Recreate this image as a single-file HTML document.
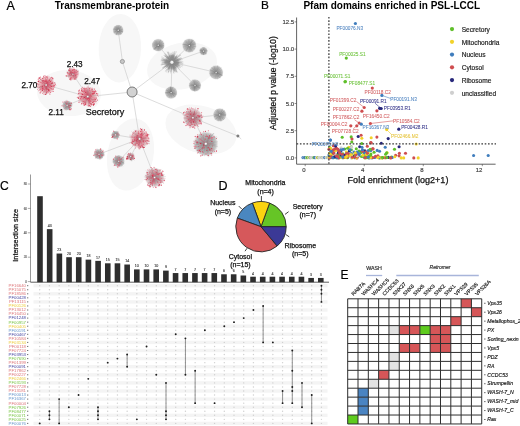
<!DOCTYPE html>
<html><head><meta charset="utf-8"><style>
html,body{margin:0;padding:0;background:#fff;width:520px;height:426px;overflow:hidden}
svg{display:block;font-family:"Liberation Sans", sans-serif;filter:blur(0.3px)}
</style></head><body>
<svg width="520" height="426" viewBox="0 0 520 426">
<defs>
<radialGradient id="gg"><stop offset="0" stop-color="#7e7e7e"/><stop offset="0.18" stop-color="#9e9e9e"/><stop offset="0.6" stop-color="#afafaf"/><stop offset="0.85" stop-color="#c3c3c3" stop-opacity="0.9"/><stop offset="1" stop-color="#e0e0e0" stop-opacity="0.3"/></radialGradient>
<radialGradient id="gr"><stop offset="0" stop-color="#d47080"/><stop offset="0.5" stop-color="#e2a0a8"/><stop offset="0.85" stop-color="#ebbcc1" stop-opacity="0.75"/><stop offset="1" stop-color="#f2d6d9" stop-opacity="0.1"/></radialGradient>
<radialGradient id="gm"><stop offset="0" stop-color="#b07a82"/><stop offset="0.5" stop-color="#c8a2a7"/><stop offset="0.85" stop-color="#d6bfc2" stop-opacity="0.75"/><stop offset="1" stop-color="#e4d8d9" stop-opacity="0.1"/></radialGradient>
</defs>
<rect width="520" height="426" fill="#fff"/>
<text x="6.4" y="9.8" font-size="12.5" fill="#000" stroke="#000" stroke-width="0.2">A</text>
<text x="112" y="9.4" font-size="10" fill="#000" text-anchor="middle" font-weight="bold">Transmembrane-protein</text>
<ellipse cx="119.9" cy="48.2" rx="21.2" ry="34.2" fill="#f7f7f7" transform="rotate(2 119.9 48.2)"/>
<ellipse cx="182" cy="66" rx="35.5" ry="23" fill="#f7f7f7" transform="rotate(-13 182 66)"/>
<ellipse cx="69" cy="93" rx="32" ry="23" fill="#f7f7f7" transform="rotate(5 69 93)"/>
<ellipse cx="130.5" cy="154.5" rx="23" ry="36.5" fill="#f7f7f7" transform="rotate(11 130.5 154.5)"/>
<ellipse cx="201" cy="129.5" rx="36.5" ry="23.5" fill="#f7f7f7" transform="rotate(17 201 129.5)"/>
<line x1="132.1" y1="92" x2="87.8" y2="96.6" stroke="#d0d0d0" stroke-width="0.75"/>
<line x1="132.1" y1="92" x2="122.5" y2="61.9" stroke="#d0d0d0" stroke-width="0.75"/>
<line x1="122.5" y1="61.9" x2="118.2" y2="30.2" stroke="#d0d0d0" stroke-width="0.75"/>
<line x1="132.1" y1="92" x2="171.9" y2="62.2" stroke="#d0d0d0" stroke-width="0.75"/>
<line x1="132.1" y1="92" x2="139.6" y2="138.9" stroke="#d0d0d0" stroke-width="0.75"/>
<line x1="132.1" y1="92" x2="192.9" y2="117.8" stroke="#d0d0d0" stroke-width="0.75"/>
<line x1="192.9" y1="117.8" x2="237.9" y2="136" stroke="#d0d0d0" stroke-width="0.75"/>
<line x1="237.9" y1="136" x2="241.3" y2="139.1" stroke="#d0d0d0" stroke-width="0.75"/>
<line x1="87.8" y1="96.6" x2="46.1" y2="85" stroke="#d0d0d0" stroke-width="0.75"/>
<line x1="87.8" y1="96.6" x2="72.9" y2="74.2" stroke="#d0d0d0" stroke-width="0.75"/>
<line x1="87.8" y1="96.6" x2="67.1" y2="105.4" stroke="#d0d0d0" stroke-width="0.75"/>
<line x1="139.6" y1="138.9" x2="115.5" y2="134.9" stroke="#d0d0d0" stroke-width="0.75"/>
<line x1="139.6" y1="138.9" x2="99" y2="154.2" stroke="#d0d0d0" stroke-width="0.75"/>
<line x1="139.6" y1="138.9" x2="118.7" y2="161.2" stroke="#d0d0d0" stroke-width="0.75"/>
<line x1="139.6" y1="138.9" x2="130.7" y2="156.6" stroke="#d0d0d0" stroke-width="0.75"/>
<line x1="139.6" y1="138.9" x2="154.6" y2="177.5" stroke="#d0d0d0" stroke-width="0.75"/>
<line x1="192.9" y1="117.8" x2="219.7" y2="114.9" stroke="#d0d0d0" stroke-width="0.75"/>
<line x1="192.9" y1="117.8" x2="205.8" y2="143.8" stroke="#d0d0d0" stroke-width="0.75"/>
<line x1="171.9" y1="62.2" x2="158.2" y2="45.2" stroke="#d0d0d0" stroke-width="0.75"/>
<line x1="171.9" y1="62.2" x2="189.3" y2="45.6" stroke="#d0d0d0" stroke-width="0.75"/>
<line x1="171.9" y1="62.2" x2="203.5" y2="51.1" stroke="#d0d0d0" stroke-width="0.75"/>
<line x1="171.9" y1="62.2" x2="216.1" y2="72.4" stroke="#d0d0d0" stroke-width="0.75"/>
<line x1="171.9" y1="62.2" x2="195" y2="85.4" stroke="#d0d0d0" stroke-width="0.75"/>
<line x1="171.9" y1="62.2" x2="171.1" y2="92.6" stroke="#d0d0d0" stroke-width="0.75"/>
<circle cx="118.2" cy="30.2" r="5.6" fill="url(#gg)"/>
<path d="M118.2 30.2L116.12 34.36M118.2 30.2L115.54 26.49M118.2 30.2L113.43 29.11M118.2 30.2L122.92 32M118.2 30.2L123.03 31.36M118.2 30.2L122.35 32.15M118.2 30.2L113.39 32.67M118.2 30.2L121.57 33.52M118.2 30.2L114.34 26.22M118.2 30.2L113.84 27.91M118.2 30.2L122.68 29.53M118.2 30.2L121.23 26.47M118.2 30.2L121.04 33.83M118.2 30.2L116.26 35.23M118.2 30.2L120.36 34.85M118.2 30.2L115.05 26.45M118.2 30.2L113.85 28.86M118.2 30.2L122.58 31.92M118.2 30.2L116.1 25.71M118.2 30.2L116.19 34.92M118.2 30.2L113.59 31.6M118.2 30.2L119.65 25.14M118.2 30.2L118.39 35.32M118.2 30.2L112.81 29.34M118.2 30.2L117.58 25.44M118.2 30.2L122.78 29.63M118.2 30.2L113.56 32.82M118.2 30.2L121.1 34.3M118.2 30.2L123.27 31.48M118.2 30.2L118.67 25.1M118.2 30.2L121.63 26.79M118.2 30.2L116.47 25.36M118.2 30.2L113.82 27.8M118.2 30.2L121.17 25.52" stroke="#7a7a7a" stroke-width="0.25" fill="none" opacity="0.6"/>
<circle cx="118.2" cy="30.2" r="0.9" fill="#fff" stroke="#555" stroke-width="0.35"/>
<circle cx="158.2" cy="45.2" r="6.6" fill="url(#gg)"/>
<path d="M158.2 45.2L152.12 46.2M158.2 45.2L163.96 47.51M158.2 45.2L154.23 39.94M158.2 45.2L160.67 40.11M158.2 45.2L153.56 49.25M158.2 45.2L164.03 46.03M158.2 45.2L160.88 49.93M158.2 45.2L164.07 47.48M158.2 45.2L162.06 49.27M158.2 45.2L153.22 49.27M158.2 45.2L163.34 48.05M158.2 45.2L152.06 43.23M158.2 45.2L160.91 39.38M158.2 45.2L157.16 50.94M158.2 45.2L154.13 50.2M158.2 45.2L163.49 43.76M158.2 45.2L160.7 50.2M158.2 45.2L158.82 51.09M158.2 45.2L153.43 42.21M158.2 45.2L164.03 45.35M158.2 45.2L154.09 49.61M158.2 45.2L164.12 43.4M158.2 45.2L152.13 44.61M158.2 45.2L155.81 40.41M158.2 45.2L163.29 41.48M158.2 45.2L162.66 40.71M158.2 45.2L153.67 48.83M158.2 45.2L163.07 48.9M158.2 45.2L163.16 47.25M158.2 45.2L159.61 50.51M158.2 45.2L155.33 49.72M158.2 45.2L163.68 45.21M158.2 45.2L162.83 48.63M158.2 45.2L164.55 46.23M158.2 45.2L154.07 41.6M158.2 45.2L158.12 50.94M158.2 45.2L154.62 49.3" stroke="#7a7a7a" stroke-width="0.25" fill="none" opacity="0.6"/>
<circle cx="158.2" cy="45.2" r="0.9" fill="#fff" stroke="#555" stroke-width="0.35"/>
<circle cx="189.3" cy="45.6" r="7.3" fill="url(#gg)"/>
<path d="M189.3 45.6L193.55 39.67M189.3 45.6L182.9 46.99M189.3 45.6L194.44 48.68M189.3 45.6L185.88 50.8M189.3 45.6L192.19 40.25M189.3 45.6L196.45 46.65M189.3 45.6L183.34 44.53M189.3 45.6L183.64 44.02M189.3 45.6L182.14 44.32M189.3 45.6L193.78 40.41M189.3 45.6L188.86 51.96M189.3 45.6L192.77 51.64M189.3 45.6L182.47 44.18M189.3 45.6L186.34 51.01M189.3 45.6L192.04 38.86M189.3 45.6L193.52 39.99M189.3 45.6L192.18 39.31M189.3 45.6L190.26 52.13M189.3 45.6L185.68 50.24M189.3 45.6L195.45 46.69M189.3 45.6L188.91 52.44M189.3 45.6L195.55 43.85M189.3 45.6L196.02 42.79M189.3 45.6L195.42 43.82M189.3 45.6L190.44 51.67M189.3 45.6L191.32 51.4M189.3 45.6L184.21 40.57M189.3 45.6L192.82 40.09M189.3 45.6L185.29 39.85M189.3 45.6L195.16 49.06M189.3 45.6L195.19 41.85M189.3 45.6L189.31 39.06M189.3 45.6L192.34 51.9M189.3 45.6L185.83 51.69M189.3 45.6L195.62 44.46M189.3 45.6L183.42 49.79M189.3 45.6L188.34 39.59M189.3 45.6L193.53 49.94M189.3 45.6L195.1 41.65" stroke="#7a7a7a" stroke-width="0.25" fill="none" opacity="0.6"/>
<circle cx="189.3" cy="45.6" r="0.9" fill="#fff" stroke="#555" stroke-width="0.35"/>
<circle cx="203.5" cy="51.1" r="4.3" fill="url(#gg)"/>
<path d="M203.5 51.1L206.02 54.4M203.5 51.1L207.47 50.61M203.5 51.1L201.19 54.26M203.5 51.1L205.85 53.63M203.5 51.1L207.43 50.37M203.5 51.1L199.32 50.39M203.5 51.1L199.67 52.79M203.5 51.1L205.17 47.89M203.5 51.1L203.46 54.79M203.5 51.1L203.73 55.04M203.5 51.1L203.28 54.89M203.5 51.1L206.37 54.2M203.5 51.1L201.17 54.15M203.5 51.1L199.85 48.99M203.5 51.1L199.79 53.12M203.5 51.1L199.6 51.06M203.5 51.1L200.08 50.59M203.5 51.1L200.15 52.42M203.5 51.1L207.63 51.2M203.5 51.1L205.3 54.5M203.5 51.1L202.89 47.23M203.5 51.1L201.71 54.55M203.5 51.1L199.63 49.7M203.5 51.1L206.58 53.53M203.5 51.1L203.53 54.78M203.5 51.1L204.04 47.26M203.5 51.1L199.71 49.55M203.5 51.1L206.76 49.1M203.5 51.1L200.55 48.58M203.5 51.1L199.48 50.79" stroke="#7a7a7a" stroke-width="0.25" fill="none" opacity="0.6"/>
<circle cx="203.5" cy="51.1" r="0.9" fill="#fff" stroke="#555" stroke-width="0.35"/>
<circle cx="216.1" cy="72.4" r="7.3" fill="url(#gg)"/>
<path d="M216.1 72.4L209.78 74.35M216.1 72.4L208.95 73.39M216.1 72.4L213.87 65.64M216.1 72.4L221.91 70.19M216.1 72.4L209.38 69.76M216.1 72.4L219.34 67.3M216.1 72.4L220.78 76.89M216.1 72.4L221.66 75.13M216.1 72.4L222.21 75.42M216.1 72.4L217.61 65.41M216.1 72.4L219.99 78.08M216.1 72.4L212.87 67.29M216.1 72.4L221.47 67.53M216.1 72.4L217.47 79.5M216.1 72.4L210.84 76.31M216.1 72.4L223.14 71.95M216.1 72.4L219.52 77.89M216.1 72.4L209.8 71.78M216.1 72.4L218.21 78.34M216.1 72.4L215.08 66.62M216.1 72.4L209.99 70.24M216.1 72.4L222.38 73.12M216.1 72.4L211.41 67.77M216.1 72.4L222.79 75.26M216.1 72.4L217.83 65.35M216.1 72.4L221.03 76.21M216.1 72.4L222.86 74.12M216.1 72.4L215.33 78.38M216.1 72.4L209.77 75.77M216.1 72.4L218.71 66.76M216.1 72.4L220.34 78.19M216.1 72.4L209.9 69.45M216.1 72.4L221.11 75.56M216.1 72.4L213.65 66.42M216.1 72.4L222.58 75.57M216.1 72.4L211.45 67.16M216.1 72.4L222.23 75.96M216.1 72.4L222.59 75.29M216.1 72.4L210.03 74.21" stroke="#7a7a7a" stroke-width="0.25" fill="none" opacity="0.6"/>
<circle cx="216.1" cy="72.4" r="0.9" fill="#fff" stroke="#555" stroke-width="0.35"/>
<circle cx="195" cy="85.4" r="6.4" fill="url(#gg)"/>
<path d="M195 85.4L189.04 83.34M195 85.4L194.41 90.65M195 85.4L189.65 84.49M195 85.4L199.12 88.78M195 85.4L200.11 87.07M195 85.4L192.91 90.5M195 85.4L195.33 79.92M195 85.4L189.65 85.4M195 85.4L192.06 89.62M195 85.4L194.99 90.54M195 85.4L194.38 79.61M195 85.4L197.13 90.72M195 85.4L199.82 83.3M195 85.4L197.38 80.25M195 85.4L188.81 85.59M195 85.4L190.48 88.99M195 85.4L192.57 79.5M195 85.4L191.6 90.57M195 85.4L193.41 79.68M195 85.4L190.4 88.54M195 85.4L199.98 87.17M195 85.4L200.48 88.01M195 85.4L194.81 90.73M195 85.4L200.34 88.54M195 85.4L199.11 81.06M195 85.4L193.92 90.72M195 85.4L193.47 90.9M195 85.4L198.12 90.16M195 85.4L194.47 91.73M195 85.4L200.73 84.4M195 85.4L195.22 91.75M195 85.4L192.96 90.59M195 85.4L200.61 85.44M195 85.4L189.31 86.31M195 85.4L196.75 90.89M195 85.4L200.46 85.57M195 85.4L199.76 88.41" stroke="#7a7a7a" stroke-width="0.25" fill="none" opacity="0.6"/>
<circle cx="195" cy="85.4" r="0.9" fill="#fff" stroke="#555" stroke-width="0.35"/>
<circle cx="171.1" cy="92.6" r="6.4" fill="url(#gg)"/>
<path d="M171.1 92.6L176.07 93.93M171.1 92.6L169.29 97.71M171.1 92.6L166.12 89.63M171.1 92.6L171.12 86.64M171.1 92.6L169.78 86.5M171.1 92.6L166.84 96.14M171.1 92.6L176.39 92.09M171.1 92.6L170.14 86.73M171.1 92.6L177.06 94.28M171.1 92.6L175.71 88.88M171.1 92.6L170.48 86.47M171.1 92.6L174.81 97.05M171.1 92.6L164.91 92.43M171.1 92.6L173.18 86.78M171.1 92.6L165.69 89.44M171.1 92.6L168.64 87.12M171.1 92.6L171.75 97.72M171.1 92.6L174.84 96.74M171.1 92.6L175.99 96.39M171.1 92.6L165.57 90.47M171.1 92.6L166.9 88.33M171.1 92.6L165.99 92.94M171.1 92.6L172.89 86.79M171.1 92.6L165.3 92.49M171.1 92.6L168.29 88.22M171.1 92.6L170.65 87.18M171.1 92.6L175.97 95.06M171.1 92.6L170.4 87.26M171.1 92.6L170.69 86.24M171.1 92.6L165.49 92.81M171.1 92.6L165.16 93.39M171.1 92.6L171.73 86.72M171.1 92.6L167.84 88.52M171.1 92.6L174.37 96.95M171.1 92.6L170.87 87.1M171.1 92.6L166.42 90.48M171.1 92.6L176.17 94.63" stroke="#7a7a7a" stroke-width="0.25" fill="none" opacity="0.6"/>
<circle cx="171.1" cy="92.6" r="0.9" fill="#fff" stroke="#555" stroke-width="0.35"/>
<circle cx="219.7" cy="114.9" r="6.9" fill="url(#gg)"/>
<path d="M219.7 114.9L216.65 109.19M219.7 114.9L217.04 109.61M219.7 114.9L213.57 114.26M219.7 114.9L214.14 116.09M219.7 114.9L224.25 111.31M219.7 114.9L226.45 113.97M219.7 114.9L225.82 115.58M219.7 114.9L222.62 108.69M219.7 114.9L214.1 116.74M219.7 114.9L221.4 121.51M219.7 114.9L221.25 121.03M219.7 114.9L223.63 119.75M219.7 114.9L225.15 113.23M219.7 114.9L222.36 109.27M219.7 114.9L224.62 110.66M219.7 114.9L220.49 121.61M219.7 114.9L214.17 115.38M219.7 114.9L225.9 115.04M219.7 114.9L214.05 116.71M219.7 114.9L223.5 119.54M219.7 114.9L217.01 121.01M219.7 114.9L226.26 114.97M219.7 114.9L222.72 110.08M219.7 114.9L225.52 112M219.7 114.9L224.52 111.47M219.7 114.9L215.49 119.26M219.7 114.9L226.03 114.85M219.7 114.9L215.78 119.59M219.7 114.9L218.82 120.42M219.7 114.9L225.06 118.88M219.7 114.9L218.19 121.54M219.7 114.9L219.72 120.79M219.7 114.9L213.93 114.5M219.7 114.9L214.91 119.79M219.7 114.9L224.66 110.49M219.7 114.9L215.09 109.93M219.7 114.9L225.55 112.61M219.7 114.9L218.64 109.41" stroke="#7a7a7a" stroke-width="0.25" fill="none" opacity="0.6"/>
<circle cx="219.7" cy="114.9" r="0.9" fill="#fff" stroke="#555" stroke-width="0.35"/>
<circle cx="171.9" cy="62.2" r="7.79" fill="url(#gg)" opacity="0.85"/>
<path d="M171.9 62.2L182.24 62.48M171.9 62.2L179.47 62.7M171.9 62.2L183.25 61.6M171.9 62.2L180.58 61.88M171.9 62.2L179.56 62.25M171.9 62.2L183.52 63.19M171.9 62.2L181.67 62.09M171.9 62.2L179.93 64.01M171.9 62.2L178.68 63.18M171.9 62.2L183.02 63.9M171.9 62.2L178.94 63.69M171.9 62.2L183.18 65.58M171.9 62.2L178.49 63.53M171.9 62.2L178.26 63.15M171.9 62.2L178.7 64.89M171.9 62.2L180.39 65.89M171.9 62.2L180.78 67.47M171.9 62.2L179.45 65.76M171.9 62.2L179.17 65.83M171.9 62.2L177.61 64.79M171.9 62.2L182.53 66.87M171.9 62.2L179.46 68.14M171.9 62.2L177.21 67.03M171.9 62.2L177.9 66.48M171.9 62.2L178.72 67.33M171.9 62.2L179.84 69.68M171.9 62.2L176.35 66.26M171.9 62.2L180.38 67.66M171.9 62.2L176.76 70.2M171.9 62.2L176.81 68.78M171.9 62.2L176.64 71.87M171.9 62.2L177.17 72.58M171.9 62.2L175.55 67.63M171.9 62.2L177.05 69.56M171.9 62.2L177.44 72.23M171.9 62.2L174.95 72.15M171.9 62.2L174.91 70.84M171.9 62.2L176.18 71.81M171.9 62.2L176.11 72.72M171.9 62.2L174.16 69.55M171.9 62.2L174.79 69M171.9 62.2L174.86 71.77M171.9 62.2L174.29 70.87M171.9 62.2L173.26 70.28M171.9 62.2L174.13 71.38M171.9 62.2L174.03 69.58M171.9 62.2L174.09 73.55M171.9 62.2L173.6 73.18M171.9 62.2L173.26 69.36M171.9 62.2L170.17 72.11M171.9 62.2L171.65 68.22M171.9 62.2L171.11 72.05M171.9 62.2L171.42 69.6M171.9 62.2L170.61 73.48M171.9 62.2L171.74 68.3M171.9 62.2L171.5 70.57M171.9 62.2L168.45 72.23M171.9 62.2L168.12 70.23M171.9 62.2L168.1 73.18M171.9 62.2L168.18 72.27M171.9 62.2L169.51 69M171.9 62.2L168.62 69.1M171.9 62.2L167.81 70.02M171.9 62.2L167.9 69.54M171.9 62.2L165.53 71.77M171.9 62.2L168.08 69.48M171.9 62.2L166.35 72.44M171.9 62.2L169.02 67.7M171.9 62.2L168.21 69.54M171.9 62.2L165.32 71.16M171.9 62.2L162.42 68.52M171.9 62.2L166.65 66.82M171.9 62.2L163.4 68.02M171.9 62.2L164.93 69.12M171.9 62.2L165.76 67.5M171.9 62.2L166.72 66.76M171.9 62.2L166.57 67.55M171.9 62.2L165.84 64.88M171.9 62.2L165.38 65.07M171.9 62.2L162.66 67.69M171.9 62.2L164.26 65.82M171.9 62.2L164.71 67.09M171.9 62.2L162.14 67.95M171.9 62.2L165.12 66.53M171.9 62.2L163.88 64.44M171.9 62.2L161.55 63.4M171.9 62.2L166.02 63.83M171.9 62.2L160.97 65.17M171.9 62.2L161.85 64.52M171.9 62.2L164.04 62.98M171.9 62.2L160.64 64.76M171.9 62.2L161.78 62.49M171.9 62.2L164.37 62.34M171.9 62.2L161.58 63.03M171.9 62.2L162.31 61.22M171.9 62.2L165.89 61.55M171.9 62.2L163.2 62.5M171.9 62.2L160.44 60.93M171.9 62.2L163.59 60.74M171.9 62.2L160.8 59.69M171.9 62.2L161.4 60.5M171.9 62.2L161.54 59.32M171.9 62.2L162.78 59.6M171.9 62.2L164.25 60.74M171.9 62.2L161.59 60.15M171.9 62.2L162.2 58.6M171.9 62.2L166.03 59.96M171.9 62.2L163.21 59.29M171.9 62.2L161.05 57.85M171.9 62.2L161.57 56.65M171.9 62.2L165.93 59.89M171.9 62.2L163.55 59.29M171.9 62.2L166.56 57.25M171.9 62.2L164.85 55.74M171.9 62.2L164.67 54.85M171.9 62.2L165.26 54.97M171.9 62.2L163.47 55.35M171.9 62.2L164.93 56.12M171.9 62.2L164.28 55.34M171.9 62.2L167.15 56.59M171.9 62.2L164.56 53.85M171.9 62.2L167.25 55.91M171.9 62.2L164.57 53.01M171.9 62.2L167.5 56.42M171.9 62.2L166.47 54.1M171.9 62.2L168.48 56.67M171.9 62.2L168.66 51.83M171.9 62.2L170.18 56.31M171.9 62.2L169.28 56.14M171.9 62.2L167.06 51.61M171.9 62.2L168 51.5M171.9 62.2L167.69 52.03M171.9 62.2L169.17 55.29M171.9 62.2L171.98 55.68M171.9 62.2L171.35 52.66M171.9 62.2L170.83 54.2M171.9 62.2L170.85 55.17M171.9 62.2L170.72 52.84M171.9 62.2L171.57 55.11M171.9 62.2L170.54 54.49M171.9 62.2L172.57 54.49M171.9 62.2L172.85 51.65M171.9 62.2L172.89 56.01M171.9 62.2L172.47 53.99M171.9 62.2L173.43 52.65M171.9 62.2L172.36 55.35M171.9 62.2L173.46 54.03M171.9 62.2L175.19 51.16M171.9 62.2L174.55 53.34M171.9 62.2L174.36 54.21M171.9 62.2L176.49 51.35M171.9 62.2L173.99 55.45M171.9 62.2L174.49 55.59M171.9 62.2L174.45 51.27M171.9 62.2L176.96 55.63M171.9 62.2L177.24 55.44M171.9 62.2L174.9 57.02M171.9 62.2L177.38 54.22M171.9 62.2L175.91 57.18M171.9 62.2L176.58 55.6M171.9 62.2L175.68 56.59M171.9 62.2L180.17 54.41M171.9 62.2L177.78 55.66M171.9 62.2L180.79 54.74M171.9 62.2L176.43 57.34M171.9 62.2L181.03 54.95M171.9 62.2L176.39 57.9M171.9 62.2L178.3 57.09M171.9 62.2L181.84 58.06M171.9 62.2L181.21 57.27M171.9 62.2L179.27 58.42M171.9 62.2L182.04 58.51M171.9 62.2L178.27 58.87M171.9 62.2L180.01 58.4M171.9 62.2L177.89 59.37M171.9 62.2L182.78 59.57M171.9 62.2L180.48 58.83M171.9 62.2L177.86 60.8M171.9 62.2L178.34 60.8M171.9 62.2L180.73 59.83M171.9 62.2L179.35 60.24M171.9 62.2L180.83 59.46M171.9 62.2L166.31 65.02M171.9 62.2L166.85 63.96M171.9 62.2L177.93 63.09M171.9 62.2L167.4 62.5M171.9 62.2L172.48 55.46M171.9 62.2L167.76 63.31M171.9 62.2L167.97 62.87M171.9 62.2L175.58 66.04M171.9 62.2L176.4 65.12M171.9 62.2L168.2 61.96M171.9 62.2L169.36 59.27M171.9 62.2L171.2 55.48M171.9 62.2L168.15 61.93M171.9 62.2L166.8 62.07M171.9 62.2L175.81 60.95M171.9 62.2L176.67 56.21M171.9 62.2L171.12 55.34M171.9 62.2L174.53 69.32M171.9 62.2L164.42 62.58M171.9 62.2L175.55 60.07M171.9 62.2L173.66 55.03M171.9 62.2L176.47 64.2M171.9 62.2L172.06 58.01M171.9 62.2L175.62 59.37M171.9 62.2L173.56 58.41M171.9 62.2L164.56 62.1M171.9 62.2L173.1 66.67M171.9 62.2L167.05 62.02M171.9 62.2L176.08 63.18M171.9 62.2L175.82 68.48M171.9 62.2L168.81 55.66M171.9 62.2L175.21 68.12M171.9 62.2L176.2 65.99M171.9 62.2L168.61 58.4M171.9 62.2L175.97 58.02M171.9 62.2L165.6 58.74M171.9 62.2L177.95 66.87M171.9 62.2L168.36 58.44M171.9 62.2L173.27 57.77M171.9 62.2L177.81 61.85M171.9 62.2L167.62 67.35M171.9 62.2L167.91 63.71M171.9 62.2L171.75 58.46M171.9 62.2L173.85 58.05M171.9 62.2L167.02 56.36M171.9 62.2L166.51 58.97M171.9 62.2L170.54 65.48M171.9 62.2L175.96 63.08M171.9 62.2L167.93 58.65M171.9 62.2L164.68 61.62M171.9 62.2L174.92 65.5M171.9 62.2L169.82 59.22M171.9 62.2L176.91 62.28M171.9 62.2L175.84 65.31M171.9 62.2L172.86 68.07M171.9 62.2L168.19 59.87M171.9 62.2L167.98 58.34M171.9 62.2L176.81 67.75M171.9 62.2L172.07 66.35M171.9 62.2L176.99 65.7M171.9 62.2L176.57 57.3M171.9 62.2L168.12 64.88M171.9 62.2L178.09 62.65M171.9 62.2L167.29 60.3M171.9 62.2L168.62 57.94M171.9 62.2L177.96 59.67M171.9 62.2L171.97 69.47M171.9 62.2L177.42 63.77M171.9 62.2L168.14 64.72M171.9 62.2L178.21 64.62M171.9 62.2L177.7 62.65M171.9 62.2L175.75 60.7M171.9 62.2L173.79 67.95M171.9 62.2L165.72 61.93M171.9 62.2L173.55 58.27M171.9 62.2L170.16 66.65M171.9 62.2L178.78 64.36M171.9 62.2L173.24 55.84M171.9 62.2L178.92 62.48M171.9 62.2L171.73 56.74M171.9 62.2L171.62 56.8M171.9 62.2L172.5 66.13M171.9 62.2L172.31 65.88M171.9 62.2L168.5 67.9M171.9 62.2L169.52 55.58M171.9 62.2L170.79 57.7M171.9 62.2L166.86 60.43M171.9 62.2L173.26 56.66M171.9 62.2L171.31 68.36M171.9 62.2L176.23 61.24" stroke="#8a8a8a" stroke-width="0.28" fill="none" opacity="0.9"/>
<circle cx="171.9" cy="62.2" r="2" fill="#f4f4f4" stroke="#6a6a6a" stroke-width="0.5"/>
<circle cx="87.8" cy="96.6" r="9.97" fill="url(#gr)"/>
<path d="M87.8 96.6L88.66 106.48M87.8 96.6L87.62 89.01M87.8 96.6L84.43 102.86M87.8 96.6L81.24 89.55M87.8 96.6L96.11 95.5M87.8 96.6L84.52 87.9M87.8 96.6L87.29 90.48M87.8 96.6L81.05 104.41M87.8 96.6L92.56 92.72M87.8 96.6L93.73 88.19M87.8 96.6L92.92 100.31M87.8 96.6L96.16 94.68M87.8 96.6L91.87 91.82M87.8 96.6L79.3 97.09M87.8 96.6L91.35 90.31M87.8 96.6L86.33 103.41M87.8 96.6L81.41 96.67M87.8 96.6L96.68 101.54M87.8 96.6L81.31 101.23M87.8 96.6L89.77 103.57M87.8 96.6L79.91 96.54M87.8 96.6L88.08 86.64M87.8 96.6L93.02 88.71M87.8 96.6L91.78 103.79M87.8 96.6L84.72 105.79M87.8 96.6L84.58 102.62M87.8 96.6L86.96 90.31M87.8 96.6L94.15 101.32M87.8 96.6L79.6 102.63M87.8 96.6L89.12 106.31M87.8 96.6L89.26 87.04M87.8 96.6L78.94 101.5" stroke="#8c8c8c" stroke-width="0.28" fill="none" opacity="0.75"/>
<path d="M87.8 96.6L92.07 92.59M87.8 96.6L84.39 86.62M87.8 96.6L86.38 87.76M87.8 96.6L89.99 105.58M87.8 96.6L93.37 93.1M87.8 96.6L96.38 103.4M87.8 96.6L91.53 101.22M87.8 96.6L97.27 90.95M87.8 96.6L89.56 102.75M87.8 96.6L92.02 88.32M87.8 96.6L89.91 103.85M87.8 96.6L94.94 97.54M87.8 96.6L86.13 88.96M87.8 96.6L83.42 92.58M87.8 96.6L78.52 100.52M87.8 96.6L85.34 88.19M87.8 96.6L90.57 101.67M87.8 96.6L88.66 85.42M87.8 96.6L91.21 104.42M87.8 96.6L89.93 87.58M87.8 96.6L96.99 102.12M87.8 96.6L88.66 104.9M87.8 96.6L83.4 102.78M87.8 96.6L82.11 93.51M87.8 96.6L93.13 91.91M87.8 96.6L91.55 102.08M87.8 96.6L83.78 104.3M87.8 96.6L90.54 87.13M87.8 96.6L90.89 105.4M87.8 96.6L89.94 104.24M87.8 96.6L78.51 96.57M87.8 96.6L93.54 103.7M87.8 96.6L87.18 85.79M87.8 96.6L78.91 92.14M87.8 96.6L83.8 88.15M87.8 96.6L84.22 105.15M87.8 96.6L82.88 91.39M87.8 96.6L78.93 99.17M87.8 96.6L82.84 86.83M87.8 96.6L82.09 88.26" stroke="#d44a60" stroke-width="0.3" fill="none" opacity="0.8"/>
<g><circle cx="77.24" cy="97.27" r="0.48" fill="#d23c52"/><circle cx="89.63" cy="105.53" r="0.56" fill="#e0607a"/><circle cx="94.41" cy="101.47" r="0.46" fill="#d85068"/><circle cx="85.54" cy="96.95" r="0.56" fill="#c83048"/><circle cx="78.98" cy="102.17" r="0.7" fill="#e0607a"/><circle cx="90.95" cy="103.72" r="0.62" fill="#d23c52"/><circle cx="81.3" cy="90.94" r="0.48" fill="#c83048"/><circle cx="86.01" cy="97.91" r="0.67" fill="#e88a98"/><circle cx="81.68" cy="90.2" r="0.48" fill="#d85068"/><circle cx="89.28" cy="105.75" r="0.69" fill="#d85068"/><circle cx="98.3" cy="96.22" r="0.46" fill="#e88a98"/><circle cx="94.32" cy="103.48" r="0.54" fill="#e0607a"/><circle cx="82.85" cy="94.57" r="0.51" fill="#e0607a"/><circle cx="81.55" cy="89.16" r="0.54" fill="#e88a98"/><circle cx="85.59" cy="104.32" r="0.63" fill="#e0607a"/><circle cx="78.46" cy="98.42" r="0.48" fill="#e0607a"/><circle cx="83.79" cy="100.55" r="0.6" fill="#e88a98"/><circle cx="78.22" cy="97.71" r="0.51" fill="#c83048"/><circle cx="84.27" cy="91.44" r="0.53" fill="#e88a98"/><circle cx="82.1" cy="89.94" r="0.45" fill="#c83048"/><circle cx="85.57" cy="103.03" r="0.65" fill="#d23c52"/><circle cx="95.7" cy="91.29" r="0.56" fill="#e0607a"/><circle cx="83.15" cy="103.43" r="0.46" fill="#d23c52"/><circle cx="93.2" cy="99.22" r="0.43" fill="#d85068"/><circle cx="91.19" cy="100.84" r="0.5" fill="#e88a98"/><circle cx="93.66" cy="104.95" r="0.45" fill="#d85068"/><circle cx="94.34" cy="91.27" r="0.6" fill="#d23c52"/><circle cx="95.3" cy="90.7" r="0.46" fill="#c83048"/><circle cx="85.02" cy="89.2" r="0.6" fill="#e88a98"/><circle cx="90.82" cy="99.33" r="0.47" fill="#e88a98"/><circle cx="92.69" cy="102.46" r="0.55" fill="#d23c52"/><circle cx="95.28" cy="91.55" r="0.55" fill="#e0607a"/><circle cx="78.13" cy="94.15" r="0.45" fill="#d23c52"/><circle cx="83.94" cy="104.72" r="0.6" fill="#e88a98"/><circle cx="91.42" cy="90.94" r="0.7" fill="#e88a98"/><circle cx="85.62" cy="92.27" r="0.59" fill="#c83048"/><circle cx="96.11" cy="98.11" r="0.64" fill="#c83048"/><circle cx="94.09" cy="100.81" r="0.41" fill="#e0607a"/><circle cx="86.1" cy="88.23" r="0.43" fill="#c83048"/><circle cx="84.32" cy="91.19" r="0.57" fill="#d85068"/><circle cx="92.85" cy="93.5" r="0.53" fill="#c83048"/><circle cx="78.59" cy="93.35" r="0.51" fill="#c83048"/><circle cx="81.44" cy="96.85" r="0.66" fill="#c83048"/><circle cx="84.93" cy="100.83" r="0.64" fill="#e88a98"/><circle cx="84.77" cy="102.04" r="0.44" fill="#c83048"/><circle cx="91.38" cy="95.98" r="0.52" fill="#d23c52"/><circle cx="81.23" cy="94.27" r="0.41" fill="#d85068"/><circle cx="87.17" cy="98.53" r="0.65" fill="#e0607a"/><circle cx="78.5" cy="98.07" r="0.64" fill="#d23c52"/><circle cx="94.93" cy="92.06" r="0.44" fill="#d85068"/><circle cx="83.67" cy="88.66" r="0.46" fill="#d23c52"/><circle cx="84.13" cy="90.21" r="0.43" fill="#e0607a"/><circle cx="88.95" cy="99.1" r="0.67" fill="#d23c52"/><circle cx="84.08" cy="91.07" r="0.64" fill="#e0607a"/><circle cx="82.56" cy="94.44" r="0.46" fill="#c83048"/><circle cx="90.13" cy="97.11" r="0.59" fill="#d85068"/><circle cx="90.62" cy="95.35" r="0.56" fill="#d85068"/><circle cx="92.08" cy="88.16" r="0.57" fill="#e88a98"/><circle cx="94.16" cy="93.03" r="0.6" fill="#d23c52"/><circle cx="78.93" cy="90.66" r="0.54" fill="#e0607a"/><circle cx="84.52" cy="98.61" r="0.46" fill="#e88a98"/><circle cx="89.12" cy="98.45" r="0.4" fill="#d23c52"/><circle cx="82.64" cy="87.3" r="0.47" fill="#d23c52"/><circle cx="93.21" cy="101.77" r="0.62" fill="#c83048"/><circle cx="88.25" cy="105.81" r="0.68" fill="#e0607a"/><circle cx="81.61" cy="103.55" r="0.62" fill="#e0607a"/><circle cx="95.19" cy="100.93" r="0.54" fill="#e88a98"/><circle cx="92.93" cy="94.28" r="0.62" fill="#d23c52"/><circle cx="90.05" cy="96.76" r="0.42" fill="#d85068"/><circle cx="84.36" cy="105.13" r="0.69" fill="#e0607a"/><circle cx="92.09" cy="89.34" r="0.51" fill="#c83048"/><circle cx="81.36" cy="93.32" r="0.44" fill="#e0607a"/><circle cx="89.74" cy="90.27" r="0.59" fill="#e0607a"/><circle cx="81.88" cy="99.96" r="0.68" fill="#e88a98"/><circle cx="89.56" cy="88.64" r="0.48" fill="#c83048"/><circle cx="81.52" cy="90.56" r="0.5" fill="#d85068"/><circle cx="79.46" cy="90.06" r="0.58" fill="#e0607a"/><circle cx="85.23" cy="103.27" r="0.51" fill="#e0607a"/><circle cx="84.46" cy="88.9" r="0.64" fill="#e0607a"/><circle cx="87.4" cy="98.46" r="0.48" fill="#c83048"/><circle cx="93.46" cy="105.19" r="0.49" fill="#d23c52"/><circle cx="94.22" cy="104.43" r="0.44" fill="#d85068"/><circle cx="97.28" cy="95.12" r="0.61" fill="#d85068"/><circle cx="93.35" cy="93.26" r="0.56" fill="#d23c52"/><circle cx="81.06" cy="97.25" r="0.49" fill="#e0607a"/><circle cx="94.24" cy="99.04" r="0.68" fill="#e0607a"/><circle cx="85.99" cy="95.51" r="0.54" fill="#e88a98"/><circle cx="96.02" cy="101.65" r="0.47" fill="#d23c52"/><circle cx="78.88" cy="91.73" r="0.5" fill="#d85068"/><circle cx="82.71" cy="96.4" r="0.46" fill="#e0607a"/><circle cx="91.61" cy="104.78" r="0.57" fill="#c83048"/><circle cx="81.8" cy="103.96" r="0.47" fill="#e0607a"/><circle cx="94.55" cy="93.03" r="0.51" fill="#d23c52"/><circle cx="84.35" cy="97.41" r="0.58" fill="#c83048"/><circle cx="83.4" cy="103.07" r="0.43" fill="#d23c52"/><circle cx="90.62" cy="106.21" r="0.55" fill="#d85068"/><circle cx="82.6" cy="94.26" r="0.53" fill="#c83048"/><circle cx="96.7" cy="93.49" r="0.69" fill="#d85068"/><circle cx="87.73" cy="99.37" r="0.7" fill="#e0607a"/><circle cx="85.96" cy="98.37" r="0.57" fill="#d23c52"/><circle cx="92.87" cy="91.24" r="0.66" fill="#d23c52"/><circle cx="81.23" cy="88.67" r="0.48" fill="#d23c52"/><circle cx="79.86" cy="93.19" r="0.52" fill="#d85068"/><circle cx="83.43" cy="98.07" r="0.7" fill="#e0607a"/><circle cx="88.29" cy="99.34" r="0.68" fill="#c83048"/><circle cx="95.31" cy="99.53" r="0.65" fill="#d23c52"/><circle cx="96.92" cy="99.38" r="0.42" fill="#e88a98"/><circle cx="93.54" cy="103.98" r="0.6" fill="#e0607a"/><circle cx="85.29" cy="104.53" r="0.54" fill="#d23c52"/><circle cx="83.06" cy="101.54" r="0.54" fill="#c83048"/><circle cx="90.48" cy="101.37" r="0.67" fill="#e0607a"/><circle cx="93.6" cy="91.93" r="0.64" fill="#e0607a"/><circle cx="93.21" cy="104.78" r="0.68" fill="#d23c52"/><circle cx="94.57" cy="89.09" r="0.63" fill="#e0607a"/><circle cx="97.76" cy="93.91" r="0.65" fill="#e88a98"/><circle cx="82.73" cy="91.31" r="0.5" fill="#c83048"/><circle cx="88.21" cy="100.62" r="0.44" fill="#c83048"/><circle cx="88.35" cy="99.67" r="0.57" fill="#e88a98"/><circle cx="93.95" cy="104.5" r="0.53" fill="#c83048"/><circle cx="87.85" cy="99.1" r="0.65" fill="#d85068"/><circle cx="85.42" cy="100.65" r="0.43" fill="#e88a98"/><circle cx="80.53" cy="98.65" r="0.69" fill="#e0607a"/><circle cx="97.31" cy="100.15" r="0.57" fill="#e0607a"/></g>
<circle cx="87.8" cy="96.6" r="1.05" fill="#fff" stroke="#777" stroke-width="0.3"/>
<circle cx="46.1" cy="85" r="9.21" fill="url(#gr)"/>
<path d="M46.1 85L49.14 79.89M46.1 85L40.78 88.12M46.1 85L52.12 84.18M46.1 85L37.3 88.29M46.1 85L49.89 92.52M46.1 85L53.08 79.17M46.1 85L48.83 90.39M46.1 85L42.19 90.55M46.1 85L46.59 79M46.1 85L46.19 93.23M46.1 85L50.6 79.42M46.1 85L46.42 94.6M46.1 85L42.99 92.58M46.1 85L56.12 86.23M46.1 85L45.41 94.61M46.1 85L40.21 78.32M46.1 85L41.69 81.68M46.1 85L50.86 77.35M46.1 85L39.62 88.52M46.1 85L40.76 86.6M46.1 85L51.56 84.07M46.1 85L38.81 78.07M46.1 85L55.84 82.44M46.1 85L53.32 89.24M46.1 85L38.69 87.93M46.1 85L49.15 92.55" stroke="#8c8c8c" stroke-width="0.28" fill="none" opacity="0.75"/>
<path d="M46.1 85L53.53 83.62M46.1 85L46.57 91.54M46.1 85L38.67 87.83M46.1 85L44.47 92M46.1 85L40.42 88.66M46.1 85L50.54 78.32M46.1 85L41.73 80.43M46.1 85L54.98 85.56M46.1 85L51.54 76.55M46.1 85L51.56 83.06M46.1 85L54.81 87.04M46.1 85L51.69 83.89M46.1 85L47.88 75.37M46.1 85L51.58 80.92M46.1 85L45.19 77.42M46.1 85L48.12 79.32M46.1 85L53.33 89.5M46.1 85L39.71 86.47M46.1 85L42.66 89.69M46.1 85L44.99 92.64M46.1 85L46.53 79.11M46.1 85L52.17 79.61M46.1 85L47.36 93.68M46.1 85L37.97 91.18M46.1 85L52.92 87.31M46.1 85L36.54 80.9M46.1 85L39.43 89.81M46.1 85L51.44 92.03M46.1 85L52.11 78.64M46.1 85L50.98 88.99M46.1 85L48.77 93.36M46.1 85L39.53 78.16M46.1 85L50.91 88.52M46.1 85L46.56 90.52M46.1 85L42.54 90.07M46.1 85L53.26 80.8M46.1 85L45.29 75.89M46.1 85L37.56 87.53M46.1 85L39.93 90.33M46.1 85L51.46 80.66M46.1 85L48.4 80.01M46.1 85L38.07 91.11" stroke="#d44a60" stroke-width="0.3" fill="none" opacity="0.8"/>
<g><circle cx="51.64" cy="83.28" r="0.55" fill="#c83048"/><circle cx="43.97" cy="94.6" r="0.42" fill="#c83048"/><circle cx="53.46" cy="86.01" r="0.66" fill="#d85068"/><circle cx="43.34" cy="86.09" r="0.65" fill="#e88a98"/><circle cx="40.82" cy="91.89" r="0.47" fill="#d85068"/><circle cx="54.37" cy="82.84" r="0.53" fill="#e0607a"/><circle cx="44.12" cy="81.49" r="0.58" fill="#e0607a"/><circle cx="51.39" cy="77.72" r="0.43" fill="#d85068"/><circle cx="51.99" cy="77.53" r="0.48" fill="#e88a98"/><circle cx="40.69" cy="79.19" r="0.52" fill="#e0607a"/><circle cx="51.26" cy="88.91" r="0.58" fill="#d85068"/><circle cx="36.39" cy="85.13" r="0.44" fill="#d85068"/><circle cx="49.29" cy="80.61" r="0.58" fill="#d85068"/><circle cx="41.17" cy="89.65" r="0.49" fill="#e88a98"/><circle cx="42.47" cy="89.83" r="0.57" fill="#d85068"/><circle cx="41.77" cy="88.84" r="0.51" fill="#e88a98"/><circle cx="43.83" cy="91.98" r="0.53" fill="#e0607a"/><circle cx="42.52" cy="88.49" r="0.5" fill="#c83048"/><circle cx="51.13" cy="77.44" r="0.46" fill="#c83048"/><circle cx="37.64" cy="89.22" r="0.41" fill="#d23c52"/><circle cx="45.71" cy="94.37" r="0.68" fill="#c83048"/><circle cx="47.18" cy="77.73" r="0.56" fill="#e88a98"/><circle cx="37.9" cy="84.11" r="0.54" fill="#e88a98"/><circle cx="54.03" cy="87.07" r="0.68" fill="#e88a98"/><circle cx="42.86" cy="78.49" r="0.52" fill="#d23c52"/><circle cx="38.07" cy="84.95" r="0.45" fill="#d85068"/><circle cx="48.58" cy="91.06" r="0.53" fill="#e88a98"/><circle cx="39.1" cy="78.03" r="0.61" fill="#c83048"/><circle cx="46.02" cy="81.58" r="0.5" fill="#c83048"/><circle cx="55.04" cy="83.78" r="0.45" fill="#d85068"/><circle cx="43" cy="80.38" r="0.65" fill="#c83048"/><circle cx="55.42" cy="84.43" r="0.59" fill="#e88a98"/><circle cx="37.23" cy="83.65" r="0.55" fill="#e0607a"/><circle cx="47.81" cy="89.16" r="0.58" fill="#d85068"/><circle cx="40.14" cy="92.86" r="0.61" fill="#d23c52"/><circle cx="47.88" cy="85.12" r="0.4" fill="#d85068"/><circle cx="43.05" cy="93.58" r="0.4" fill="#d85068"/><circle cx="50.45" cy="85.82" r="0.57" fill="#d85068"/><circle cx="52.57" cy="78.21" r="0.7" fill="#d85068"/><circle cx="40.32" cy="82.08" r="0.44" fill="#d23c52"/><circle cx="38.98" cy="84.17" r="0.43" fill="#d23c52"/><circle cx="49.57" cy="91.36" r="0.58" fill="#e88a98"/><circle cx="47.13" cy="82.21" r="0.61" fill="#d23c52"/><circle cx="42.52" cy="83.06" r="0.51" fill="#e0607a"/><circle cx="48.68" cy="89.65" r="0.66" fill="#d23c52"/><circle cx="48.93" cy="84.04" r="0.53" fill="#e0607a"/><circle cx="43.95" cy="86.88" r="0.57" fill="#e88a98"/><circle cx="52.57" cy="83.32" r="0.47" fill="#d85068"/><circle cx="46.82" cy="89.19" r="0.66" fill="#d85068"/><circle cx="42.38" cy="93.63" r="0.49" fill="#e88a98"/><circle cx="38.34" cy="79.17" r="0.69" fill="#e88a98"/><circle cx="53.57" cy="88.38" r="0.47" fill="#d85068"/><circle cx="42.73" cy="93.64" r="0.41" fill="#e88a98"/><circle cx="48.37" cy="82.53" r="0.51" fill="#e0607a"/><circle cx="49.89" cy="93.99" r="0.52" fill="#c83048"/><circle cx="42.26" cy="89.47" r="0.5" fill="#e88a98"/><circle cx="40.46" cy="77.1" r="0.65" fill="#e88a98"/><circle cx="43.06" cy="89.12" r="0.54" fill="#e0607a"/><circle cx="42.38" cy="90.52" r="0.6" fill="#c83048"/><circle cx="43.81" cy="88.54" r="0.43" fill="#e0607a"/><circle cx="44.98" cy="94" r="0.57" fill="#e0607a"/><circle cx="37.43" cy="86.82" r="0.45" fill="#e0607a"/><circle cx="41" cy="91.75" r="0.59" fill="#e88a98"/><circle cx="41.22" cy="82.29" r="0.55" fill="#e88a98"/><circle cx="47.06" cy="91.71" r="0.68" fill="#e0607a"/><circle cx="53.81" cy="84.9" r="0.58" fill="#e88a98"/><circle cx="42.64" cy="88.78" r="0.55" fill="#d85068"/><circle cx="52.17" cy="91.11" r="0.43" fill="#d85068"/><circle cx="51.2" cy="78.16" r="0.41" fill="#e88a98"/><circle cx="45.29" cy="80.99" r="0.52" fill="#d23c52"/><circle cx="49.91" cy="87.29" r="0.5" fill="#e0607a"/><circle cx="44.2" cy="81.89" r="0.67" fill="#d85068"/><circle cx="49.04" cy="76.86" r="0.42" fill="#e0607a"/><circle cx="44.24" cy="89.58" r="0.65" fill="#e0607a"/><circle cx="41.22" cy="88.59" r="0.63" fill="#e88a98"/><circle cx="52.92" cy="78.82" r="0.68" fill="#e0607a"/><circle cx="48.84" cy="90.5" r="0.67" fill="#c83048"/><circle cx="54.35" cy="86.32" r="0.47" fill="#e88a98"/><circle cx="49.54" cy="80.05" r="0.45" fill="#d23c52"/><circle cx="53.19" cy="91.27" r="0.61" fill="#e0607a"/><circle cx="48.61" cy="85.65" r="0.53" fill="#e0607a"/><circle cx="46.28" cy="80.79" r="0.57" fill="#d23c52"/><circle cx="39.5" cy="78.02" r="0.65" fill="#d85068"/><circle cx="38.48" cy="81.4" r="0.68" fill="#c83048"/><circle cx="42.45" cy="78.35" r="0.43" fill="#d23c52"/><circle cx="46.79" cy="76.96" r="0.66" fill="#d23c52"/><circle cx="38.95" cy="80.77" r="0.6" fill="#e0607a"/><circle cx="51.7" cy="86.33" r="0.62" fill="#c83048"/><circle cx="53.21" cy="89.28" r="0.7" fill="#e88a98"/><circle cx="42.44" cy="81.76" r="0.43" fill="#d85068"/><circle cx="52.3" cy="82.83" r="0.61" fill="#c83048"/><circle cx="45.45" cy="75.98" r="0.55" fill="#e88a98"/><circle cx="43.99" cy="80.75" r="0.65" fill="#d85068"/><circle cx="47.34" cy="78.08" r="0.41" fill="#e0607a"/><circle cx="43.49" cy="76.48" r="0.45" fill="#c83048"/><circle cx="50.63" cy="92.52" r="0.56" fill="#e0607a"/><circle cx="46.11" cy="87.93" r="0.5" fill="#c83048"/><circle cx="52.75" cy="89.37" r="0.44" fill="#e0607a"/><circle cx="43.92" cy="77.14" r="0.61" fill="#e0607a"/><circle cx="54.38" cy="85.31" r="0.68" fill="#e0607a"/><circle cx="42.77" cy="89.5" r="0.58" fill="#e0607a"/><circle cx="46.56" cy="92.91" r="0.56" fill="#d23c52"/><circle cx="46.39" cy="80.65" r="0.58" fill="#e0607a"/><circle cx="37.66" cy="87.1" r="0.43" fill="#e0607a"/><circle cx="44.61" cy="90.91" r="0.41" fill="#e0607a"/><circle cx="50.57" cy="81.57" r="0.61" fill="#d23c52"/><circle cx="42.6" cy="86.19" r="0.53" fill="#c83048"/><circle cx="41.1" cy="82.68" r="0.42" fill="#d85068"/><circle cx="55.93" cy="85.67" r="0.43" fill="#e88a98"/><circle cx="44.09" cy="75.41" r="0.48" fill="#d85068"/><circle cx="40.17" cy="77.34" r="0.46" fill="#e88a98"/></g>
<circle cx="46.1" cy="85" r="0.97" fill="#fff" stroke="#777" stroke-width="0.3"/>
<circle cx="72.9" cy="74.2" r="6.37" fill="url(#gr)"/>
<path d="M72.9 74.2L69.32 73.21M72.9 74.2L69.26 69.54M72.9 74.2L75.34 77.09M72.9 74.2L68.58 69.1M72.9 74.2L76.07 79.84M72.9 74.2L68.16 72.62M72.9 74.2L73.16 78.02M72.9 74.2L68.33 69.44M72.9 74.2L78.73 70.25M72.9 74.2L69.43 72.26M72.9 74.2L75.62 78.7M72.9 74.2L76.14 76.24M72.9 74.2L76.53 68.54M72.9 74.2L68.71 76.32M72.9 74.2L67.29 76.47M72.9 74.2L65.98 75.95M72.9 74.2L77.64 68.85M72.9 74.2L66.53 71.15M72.9 74.2L70.23 69.97M72.9 74.2L68.08 76.99M72.9 74.2L68.41 73.32M72.9 74.2L68.67 72.71M72.9 74.2L77.08 77.79M72.9 74.2L66.63 76.7M72.9 74.2L78.41 72.79M72.9 74.2L71.53 69.19M72.9 74.2L67.99 69.52" stroke="#8c8c8c" stroke-width="0.28" fill="none" opacity="0.75"/>
<path d="M72.9 74.2L70.27 70.45M72.9 74.2L75.43 70.19M72.9 74.2L72.67 69.36M72.9 74.2L75.1 69.91M72.9 74.2L68.66 74.21M72.9 74.2L75.17 80.02M72.9 74.2L67.74 73.72M72.9 74.2L76.42 71.78M72.9 74.2L67.57 76.19M72.9 74.2L74.24 77.95M72.9 74.2L68.11 69.71M72.9 74.2L70.29 68.97M72.9 74.2L70.05 70.41M72.9 74.2L75.74 71.7M72.9 74.2L70.62 69.45M72.9 74.2L69.65 76.68M72.9 74.2L77.24 70.61M72.9 74.2L75.87 70.71M72.9 74.2L77.4 76.68M72.9 74.2L71.49 67.98M72.9 74.2L79.14 73.83M72.9 74.2L75.35 69.75M72.9 74.2L77.1 79.08M72.9 74.2L73.31 79.19M72.9 74.2L69.22 71.72M72.9 74.2L78.79 70.84" stroke="#d44a60" stroke-width="0.3" fill="none" opacity="0.8"/>
<g><circle cx="72.78" cy="70.09" r="0.65" fill="#d23c52"/><circle cx="75.97" cy="77.18" r="0.68" fill="#d85068"/><circle cx="72.58" cy="72.39" r="0.51" fill="#d85068"/><circle cx="70.42" cy="77.37" r="0.43" fill="#d85068"/><circle cx="77.95" cy="71.64" r="0.51" fill="#c83048"/><circle cx="72.37" cy="72.76" r="0.53" fill="#d85068"/><circle cx="74.14" cy="69.51" r="0.64" fill="#d23c52"/><circle cx="74.94" cy="78.93" r="0.66" fill="#c83048"/><circle cx="69.87" cy="68.72" r="0.66" fill="#d85068"/><circle cx="67.35" cy="72.83" r="0.68" fill="#c83048"/><circle cx="77" cy="74.56" r="0.55" fill="#e0607a"/><circle cx="71.22" cy="74.37" r="0.42" fill="#d23c52"/><circle cx="68.88" cy="70.4" r="0.52" fill="#d85068"/><circle cx="70.01" cy="74.64" r="0.52" fill="#e88a98"/><circle cx="76.67" cy="70.34" r="0.51" fill="#d23c52"/><circle cx="69.02" cy="73.5" r="0.58" fill="#e0607a"/><circle cx="75.8" cy="75.02" r="0.62" fill="#c83048"/><circle cx="70.57" cy="78.35" r="0.49" fill="#c83048"/><circle cx="70.43" cy="78.35" r="0.41" fill="#e0607a"/><circle cx="66.33" cy="75.91" r="0.59" fill="#d23c52"/><circle cx="72.49" cy="71.42" r="0.48" fill="#e88a98"/><circle cx="69.26" cy="74.2" r="0.57" fill="#d85068"/><circle cx="70.51" cy="72.8" r="0.67" fill="#d23c52"/><circle cx="74.86" cy="72.83" r="0.63" fill="#e0607a"/><circle cx="69.22" cy="70.12" r="0.64" fill="#c83048"/><circle cx="73.83" cy="70.84" r="0.6" fill="#e0607a"/><circle cx="70.9" cy="79.86" r="0.55" fill="#c83048"/><circle cx="70.16" cy="71.08" r="0.61" fill="#d85068"/><circle cx="69.98" cy="79.18" r="0.67" fill="#c83048"/><circle cx="73.9" cy="69.38" r="0.64" fill="#e0607a"/><circle cx="75.77" cy="74.14" r="0.4" fill="#e0607a"/><circle cx="76.13" cy="70.81" r="0.52" fill="#e88a98"/><circle cx="73.82" cy="67.67" r="0.42" fill="#d85068"/><circle cx="71.65" cy="77.92" r="0.57" fill="#d85068"/><circle cx="76.69" cy="72.63" r="0.58" fill="#e0607a"/><circle cx="75.6" cy="75.69" r="0.51" fill="#d85068"/><circle cx="66.3" cy="75.55" r="0.62" fill="#e88a98"/></g>
<circle cx="72.9" cy="74.2" r="0.8" fill="#fff" stroke="#777" stroke-width="0.3"/>
<circle cx="67.1" cy="105.4" r="5.13" fill="url(#gg)"/>
<path d="M67.1 105.4L71.84 102.87M67.1 105.4L69.61 110.34M67.1 105.4L70.18 105.79M67.1 105.4L70.05 103.04M67.1 105.4L68.97 101.18M67.1 105.4L70.84 105.52M67.1 105.4L62.4 105.8M67.1 105.4L69.59 110.24M67.1 105.4L71.13 107.86M67.1 105.4L71.2 105.09M67.1 105.4L69.23 103.23M67.1 105.4L64.91 102.21M67.1 105.4L70.65 105.82M67.1 105.4L69.25 102.04M67.1 105.4L64.36 109.48M67.1 105.4L70.4 110.15M67.1 105.4L67.69 110.1M67.1 105.4L64.07 105.83M67.1 105.4L64.47 101.7M67.1 105.4L63.37 103.94M67.1 105.4L66.55 109.05M67.1 105.4L71.38 108.5M67.1 105.4L69.89 109.27M67.1 105.4L72.7 104.66M67.1 105.4L67.74 101.74M67.1 105.4L66.67 99.86M67.1 105.4L70.3 101.31M67.1 105.4L64.14 109.43M67.1 105.4L69.38 102.64M67.1 105.4L67.85 102.45M67.1 105.4L72.35 105.91M67.1 105.4L63.14 109.31M67.1 105.4L64.72 108.49M67.1 105.4L66.12 110.8M67.1 105.4L72.3 104.79M67.1 105.4L71.83 103.31" stroke="#8c8c8c" stroke-width="0.28" fill="none" opacity="0.75"/>
<path d="M67.1 105.4L67.35 100.64M67.1 105.4L70.07 107.54M67.1 105.4L69.24 107.65M67.1 105.4L70.98 105.77M67.1 105.4L64.73 110.31M67.1 105.4L65.77 100.21M67.1 105.4L70.35 108.54M67.1 105.4L70.42 103.02M67.1 105.4L65.28 101.87M67.1 105.4L64.1 100.87M67.1 105.4L72.06 106.05" stroke="#d44a60" stroke-width="0.3" fill="none" opacity="0.8"/>
<g><circle cx="69.14" cy="107.76" r="0.5" fill="#d23c52"/><circle cx="61.91" cy="105.87" r="0.5" fill="#e0607a"/><circle cx="62.95" cy="101.96" r="0.57" fill="#e0607a"/><circle cx="69.07" cy="103.61" r="0.41" fill="#c83048"/><circle cx="67.66" cy="101.72" r="0.66" fill="#e88a98"/><circle cx="70.21" cy="105.3" r="0.64" fill="#d23c52"/><circle cx="70.15" cy="109.7" r="0.67" fill="#e0607a"/><circle cx="69.87" cy="109.26" r="0.63" fill="#d23c52"/><circle cx="63.64" cy="106.19" r="0.5" fill="#e88a98"/><circle cx="71.19" cy="103.1" r="0.69" fill="#c83048"/><circle cx="69.84" cy="105.97" r="0.41" fill="#d23c52"/><circle cx="64.32" cy="105.32" r="0.61" fill="#e88a98"/><circle cx="66.89" cy="103.89" r="0.42" fill="#c83048"/><circle cx="71.25" cy="108.85" r="0.56" fill="#e0607a"/></g>
<circle cx="67.1" cy="105.4" r="0.8" fill="#fff" stroke="#777" stroke-width="0.3"/>
<circle cx="139.6" cy="138.9" r="9.88" fill="url(#gr)"/>
<path d="M139.6 138.9L146.55 139.01M139.6 138.9L133.76 132.42M139.6 138.9L129.43 136.97M139.6 138.9L149.39 144.07M139.6 138.9L136.88 144.19M139.6 138.9L145.37 146.97M139.6 138.9L143.14 128.83M139.6 138.9L140.18 147.36M139.6 138.9L136.22 129.76M139.6 138.9L135.32 134.83M139.6 138.9L132.3 143.81M139.6 138.9L130.81 142.23M139.6 138.9L132.24 134.99M139.6 138.9L132.12 140.3M139.6 138.9L132.12 145.93M139.6 138.9L146.71 137.82M139.6 138.9L142.42 133.47M139.6 138.9L134.05 129.62M139.6 138.9L138.8 149.22M139.6 138.9L134.43 146.23M139.6 138.9L145.68 138.88M139.6 138.9L136.07 133.2M139.6 138.9L145.35 131.57M139.6 138.9L136.23 145.84M139.6 138.9L132.42 142.39M139.6 138.9L134.13 144.36M139.6 138.9L132.29 137.86M139.6 138.9L138.45 146.13M139.6 138.9L146.64 144.86M139.6 138.9L145.34 145.05M139.6 138.9L133.43 132.9M139.6 138.9L138.81 147M139.6 138.9L146.67 137.01M139.6 138.9L149.13 141.46M139.6 138.9L131.43 131.37M139.6 138.9L143.53 134.16M139.6 138.9L133.33 143.88M139.6 138.9L129.58 134.68M139.6 138.9L142.28 147.18M139.6 138.9L133.58 140.45M139.6 138.9L134.36 136.39M139.6 138.9L143.6 133.26M139.6 138.9L145.31 132.26" stroke="#8c8c8c" stroke-width="0.28" fill="none" opacity="0.75"/>
<path d="M139.6 138.9L146.45 137.69M139.6 138.9L137.93 133.34M139.6 138.9L146.25 137.47M139.6 138.9L142.3 128.27M139.6 138.9L138.09 146.29M139.6 138.9L149.42 138.49M139.6 138.9L131.93 143M139.6 138.9L143.89 130.56M139.6 138.9L144.84 133.28M139.6 138.9L135.1 144.06M139.6 138.9L133.33 145.94M139.6 138.9L143.51 146.53M139.6 138.9L139.44 147.68M139.6 138.9L139.06 147.86M139.6 138.9L129.25 135.92M139.6 138.9L133.4 139.16M139.6 138.9L148.09 134.27M139.6 138.9L131.37 142.71M139.6 138.9L140.34 149.28M139.6 138.9L134.29 135.97M139.6 138.9L133.32 131.01M139.6 138.9L129.29 143.28M139.6 138.9L146.86 142.05M139.6 138.9L139.7 133.13M139.6 138.9L137.54 146.15M139.6 138.9L142.66 132.8M139.6 138.9L143.2 133.5M139.6 138.9L148.32 141.74M139.6 138.9L143.68 149.26" stroke="#d44a60" stroke-width="0.3" fill="none" opacity="0.8"/>
<g><circle cx="132.08" cy="137.02" r="0.49" fill="#d23c52"/><circle cx="139.29" cy="148.75" r="0.52" fill="#d85068"/><circle cx="146.24" cy="133.1" r="0.49" fill="#c83048"/><circle cx="145.98" cy="131.82" r="0.48" fill="#d85068"/><circle cx="140.49" cy="141.77" r="0.6" fill="#d85068"/><circle cx="147.49" cy="135.33" r="0.44" fill="#d85068"/><circle cx="145.38" cy="136.2" r="0.68" fill="#e88a98"/><circle cx="136.79" cy="137.87" r="0.4" fill="#c83048"/><circle cx="149.03" cy="143.17" r="0.41" fill="#c83048"/><circle cx="140.96" cy="145.93" r="0.61" fill="#e0607a"/><circle cx="142.27" cy="131.1" r="0.52" fill="#e88a98"/><circle cx="138.9" cy="133.89" r="0.42" fill="#e0607a"/><circle cx="131.78" cy="142.36" r="0.44" fill="#d23c52"/><circle cx="146.6" cy="132.32" r="0.45" fill="#e88a98"/><circle cx="146.7" cy="135.13" r="0.55" fill="#e0607a"/><circle cx="135.56" cy="131.11" r="0.64" fill="#c83048"/><circle cx="135.15" cy="137.92" r="0.55" fill="#e0607a"/><circle cx="134.68" cy="139.98" r="0.69" fill="#d23c52"/><circle cx="132.14" cy="143.33" r="0.61" fill="#c83048"/><circle cx="133.01" cy="141.4" r="0.68" fill="#d23c52"/><circle cx="142.65" cy="142.3" r="0.49" fill="#e88a98"/><circle cx="140.49" cy="147.03" r="0.61" fill="#c83048"/><circle cx="138.43" cy="132.92" r="0.5" fill="#c83048"/><circle cx="142.02" cy="135.15" r="0.52" fill="#e0607a"/><circle cx="146.15" cy="140.28" r="0.47" fill="#c83048"/><circle cx="136.06" cy="137.86" r="0.44" fill="#e88a98"/><circle cx="142.14" cy="144.67" r="0.43" fill="#e88a98"/><circle cx="141.54" cy="135.3" r="0.7" fill="#e0607a"/><circle cx="146.84" cy="136" r="0.55" fill="#c83048"/><circle cx="148.96" cy="139.95" r="0.46" fill="#d23c52"/><circle cx="138.47" cy="144.83" r="0.56" fill="#d85068"/><circle cx="143.27" cy="141.18" r="0.63" fill="#c83048"/><circle cx="140.56" cy="128.84" r="0.68" fill="#d85068"/><circle cx="147.72" cy="140.58" r="0.5" fill="#d23c52"/><circle cx="147.74" cy="135.94" r="0.45" fill="#d23c52"/><circle cx="135.2" cy="144.94" r="0.62" fill="#c83048"/><circle cx="143.69" cy="147.42" r="0.64" fill="#c83048"/><circle cx="138.4" cy="131.72" r="0.43" fill="#d85068"/><circle cx="143.2" cy="144.68" r="0.41" fill="#d23c52"/><circle cx="135.87" cy="138.59" r="0.52" fill="#e0607a"/><circle cx="141.38" cy="135.98" r="0.51" fill="#e0607a"/><circle cx="137.71" cy="135.8" r="0.65" fill="#d23c52"/><circle cx="144.83" cy="133.57" r="0.48" fill="#e0607a"/><circle cx="143.85" cy="142.27" r="0.55" fill="#e0607a"/><circle cx="135.68" cy="138" r="0.47" fill="#e88a98"/><circle cx="137.03" cy="137.72" r="0.51" fill="#c83048"/><circle cx="141.82" cy="145.42" r="0.7" fill="#e0607a"/><circle cx="147.23" cy="133.95" r="0.55" fill="#d85068"/><circle cx="141.33" cy="137.48" r="0.55" fill="#d23c52"/><circle cx="141.67" cy="131.07" r="0.43" fill="#e0607a"/><circle cx="144.23" cy="147.49" r="0.53" fill="#d23c52"/><circle cx="136.82" cy="136.14" r="0.67" fill="#d85068"/><circle cx="146.64" cy="143.02" r="0.47" fill="#e0607a"/><circle cx="140.8" cy="131.29" r="0.65" fill="#d23c52"/><circle cx="145.28" cy="141.71" r="0.41" fill="#d23c52"/><circle cx="133.06" cy="132.89" r="0.5" fill="#c83048"/><circle cx="142.32" cy="132.09" r="0.4" fill="#e0607a"/><circle cx="146.07" cy="136.35" r="0.41" fill="#e88a98"/><circle cx="140.66" cy="134.61" r="0.6" fill="#d85068"/><circle cx="143.32" cy="144.11" r="0.46" fill="#e0607a"/><circle cx="147.48" cy="134.88" r="0.7" fill="#d23c52"/><circle cx="141.53" cy="131.69" r="0.56" fill="#e88a98"/><circle cx="138.01" cy="141.79" r="0.59" fill="#d85068"/><circle cx="142.26" cy="146.93" r="0.64" fill="#c83048"/><circle cx="147.16" cy="143.86" r="0.57" fill="#c83048"/><circle cx="142.09" cy="131.76" r="0.44" fill="#e88a98"/><circle cx="144.46" cy="129.84" r="0.62" fill="#d23c52"/><circle cx="144.32" cy="130.62" r="0.45" fill="#d85068"/><circle cx="133.15" cy="144.52" r="0.49" fill="#d85068"/><circle cx="147.2" cy="137" r="0.42" fill="#d23c52"/><circle cx="141.57" cy="129.57" r="0.47" fill="#e0607a"/><circle cx="132.75" cy="134.69" r="0.57" fill="#e88a98"/><circle cx="148.75" cy="134.82" r="0.52" fill="#d23c52"/><circle cx="141.6" cy="129.63" r="0.65" fill="#c83048"/><circle cx="136.62" cy="140.89" r="0.6" fill="#c83048"/><circle cx="145.42" cy="134.9" r="0.4" fill="#c83048"/><circle cx="137.33" cy="139.06" r="0.66" fill="#d23c52"/><circle cx="132.74" cy="139.97" r="0.54" fill="#c83048"/><circle cx="136.96" cy="143.34" r="0.52" fill="#c83048"/><circle cx="137.03" cy="139.46" r="0.43" fill="#c83048"/><circle cx="138.42" cy="147.76" r="0.52" fill="#e88a98"/><circle cx="134.3" cy="137.6" r="0.6" fill="#e0607a"/><circle cx="148.93" cy="141.39" r="0.52" fill="#e0607a"/><circle cx="137.39" cy="142.77" r="0.47" fill="#e0607a"/><circle cx="146.04" cy="133.56" r="0.49" fill="#e88a98"/><circle cx="135.45" cy="147.94" r="0.46" fill="#d85068"/><circle cx="141.83" cy="134.89" r="0.4" fill="#d85068"/><circle cx="141.92" cy="135.85" r="0.54" fill="#e0607a"/><circle cx="141.62" cy="133.74" r="0.6" fill="#c83048"/><circle cx="148.7" cy="138.01" r="0.6" fill="#d85068"/></g>
<circle cx="139.6" cy="138.9" r="1.04" fill="#fff" stroke="#777" stroke-width="0.3"/>
<circle cx="115.5" cy="134.9" r="4.27" fill="url(#gg)"/>
<path d="M115.5 134.9L118.32 138.1M115.5 134.9L112.3 136.76M115.5 134.9L115.17 138.06M115.5 134.9L114.46 130.92M115.5 134.9L116.44 132.46M115.5 134.9L113.19 137.14M115.5 134.9L117.76 138.11M115.5 134.9L118.71 133.08M115.5 134.9L117.29 138.34M115.5 134.9L113.37 132.71M115.5 134.9L119.23 135.51M115.5 134.9L119.59 137.3M115.5 134.9L110.71 135.11M115.5 134.9L118.16 133.04M115.5 134.9L112.91 134.97M115.5 134.9L117.82 133.07M115.5 134.9L118.47 136.11M115.5 134.9L113.56 130.68M115.5 134.9L119.76 134.13M115.5 134.9L114.41 131.97M115.5 134.9L111.59 135.53M115.5 134.9L112.14 137.25M115.5 134.9L113.65 138.86M115.5 134.9L119.06 137.94M115.5 134.9L117.51 133.29M115.5 134.9L111.55 134M115.5 134.9L113.24 136.3M115.5 134.9L114.8 131.55M115.5 134.9L117.14 132.68M115.5 134.9L119.23 135.18M115.5 134.9L114.16 138.57M115.5 134.9L120.05 134.34M115.5 134.9L118.72 137.13M115.5 134.9L117.61 131.3M115.5 134.9L116.96 137.4M115.5 134.9L115.37 132.15M115.5 134.9L117.87 131.24" stroke="#8c8c8c" stroke-width="0.28" fill="none" opacity="0.75"/>
<path d="M115.5 134.9L111.38 135.07M115.5 134.9L118.75 131.66M115.5 134.9L118.94 133.74M115.5 134.9L118.38 133.69M115.5 134.9L112.05 134.87" stroke="#d44a60" stroke-width="0.3" fill="none" opacity="0.8"/>
<g><circle cx="112.84" cy="136.84" r="0.5" fill="#c83048"/><circle cx="117.19" cy="138.85" r="0.62" fill="#d85068"/><circle cx="111.71" cy="137.19" r="0.44" fill="#c83048"/><circle cx="114.76" cy="136.09" r="0.42" fill="#e88a98"/><circle cx="119.01" cy="134.97" r="0.57" fill="#e0607a"/><circle cx="112.61" cy="136.9" r="0.64" fill="#c83048"/><circle cx="113.68" cy="131.06" r="0.45" fill="#e0607a"/><circle cx="113.6" cy="131.37" r="0.44" fill="#d85068"/><circle cx="115.27" cy="136.02" r="0.66" fill="#e88a98"/></g>
<circle cx="115.5" cy="134.9" r="0.8" fill="#fff" stroke="#777" stroke-width="0.3"/>
<circle cx="99" cy="154.2" r="5.42" fill="url(#gg)"/>
<path d="M99 154.2L102.57 158.06M99 154.2L94.52 150.8M99 154.2L96.27 148.77M99 154.2L96.55 151.62M99 154.2L103.18 155.83M99 154.2L100.15 151.15M99 154.2L101.93 156.64M99 154.2L96.78 157.69M99 154.2L101.97 149.48M99 154.2L95.36 150.32M99 154.2L95.21 156.95M99 154.2L99.85 159.89M99 154.2L101.02 148.51M99 154.2L102.34 153.91M99 154.2L102.01 157.56M99 154.2L97.84 149.84M99 154.2L100.6 158.25M99 154.2L100.84 159.23M99 154.2L95.54 155.6M99 154.2L100.29 157.92M99 154.2L97.17 148.41M99 154.2L104.6 152.31M99 154.2L104.72 154.67M99 154.2L96.31 151.33M99 154.2L101.6 158.52M99 154.2L95.41 158.82M99 154.2L102.11 158.71M99 154.2L104.88 153.85M99 154.2L102.75 157.26M99 154.2L103.44 151.34M99 154.2L103.42 153.66M99 154.2L94.83 157.92M99 154.2L101.12 156.57M99 154.2L101.66 149.38M99 154.2L104.61 155.76" stroke="#8c8c8c" stroke-width="0.28" fill="none" opacity="0.75"/>
<path d="M99 154.2L95.98 151.63M99 154.2L99.88 157.91M99 154.2L95.66 158.25M99 154.2L101.18 150.7M99 154.2L100.11 159.62M99 154.2L104.39 155.24M99 154.2L94.59 154.07M99 154.2L98.37 150.94M99 154.2L97.88 157.27M99 154.2L95.69 155.16M99 154.2L93.44 155.04M99 154.2L99.99 157.97M99 154.2L95.32 152.01" stroke="#d44a60" stroke-width="0.3" fill="none" opacity="0.8"/>
<g><circle cx="102.07" cy="155.67" r="0.57" fill="#d85068"/><circle cx="94.03" cy="155.42" r="0.4" fill="#e0607a"/><circle cx="100" cy="157.61" r="0.43" fill="#d23c52"/><circle cx="103.06" cy="150.27" r="0.54" fill="#e88a98"/><circle cx="94.98" cy="151.81" r="0.63" fill="#e88a98"/><circle cx="94.51" cy="152.08" r="0.45" fill="#e88a98"/><circle cx="95.87" cy="149.79" r="0.62" fill="#e0607a"/><circle cx="93.63" cy="155.24" r="0.44" fill="#d85068"/><circle cx="102.82" cy="151.74" r="0.61" fill="#d23c52"/><circle cx="100.7" cy="148.98" r="0.52" fill="#d23c52"/><circle cx="100.25" cy="149.06" r="0.47" fill="#d23c52"/><circle cx="101.31" cy="152.7" r="0.41" fill="#d23c52"/><circle cx="101.84" cy="155.1" r="0.63" fill="#e0607a"/></g>
<circle cx="99" cy="154.2" r="0.8" fill="#fff" stroke="#777" stroke-width="0.3"/>
<circle cx="118.7" cy="161.2" r="6.17" fill="url(#gg)"/>
<path d="M118.7 161.2L123.98 162.71M118.7 161.2L115.52 163.12M118.7 161.2L111.89 162.11M118.7 161.2L113.1 160.16M118.7 161.2L111.84 160.78M118.7 161.2L116.39 158.09M118.7 161.2L113.92 157.1M118.7 161.2L117.1 155.57M118.7 161.2L113.03 162.77M118.7 161.2L119.79 165.28M118.7 161.2L120.94 157.54M118.7 161.2L118.17 155.34M118.7 161.2L115.76 158.68M118.7 161.2L117 157.72M118.7 161.2L118 165.79M118.7 161.2L113.14 161.4M118.7 161.2L116.15 155.53M118.7 161.2L113.47 165.79M118.7 161.2L114.86 159.26M118.7 161.2L124.37 163.4M118.7 161.2L123.14 166.24M118.7 161.2L124.07 163.13M118.7 161.2L118.56 165.23M118.7 161.2L120.79 158.18M118.7 161.2L120.87 164.72M118.7 161.2L115.8 156.88M118.7 161.2L118.83 155.04M118.7 161.2L119.9 157.78M118.7 161.2L115.76 165.79M118.7 161.2L120.14 157.92M118.7 161.2L120.66 164.34M118.7 161.2L122.41 164.77M118.7 161.2L124.23 163.13M118.7 161.2L124.59 157.83M118.7 161.2L119.65 155.53M118.7 161.2L119.93 167.25M118.7 161.2L124.07 159.37M118.7 161.2L122.13 167.12M118.7 161.2L115.02 164.21M118.7 161.2L124.2 164.78M118.7 161.2L114.4 157.25M118.7 161.2L115.72 163.63" stroke="#8c8c8c" stroke-width="0.28" fill="none" opacity="0.75"/>
<path d="M118.7 161.2L121.59 158.57M118.7 161.2L121.47 158.56M118.7 161.2L123.82 156.48M118.7 161.2L120.07 164.79M118.7 161.2L118.75 157.35M118.7 161.2L119.03 165.94M118.7 161.2L114.48 163.35M118.7 161.2L117.57 156.27M118.7 161.2L121.09 164.17M118.7 161.2L114.97 160.35" stroke="#d44a60" stroke-width="0.3" fill="none" opacity="0.8"/>
<g><circle cx="113.4" cy="159.2" r="0.61" fill="#d85068"/><circle cx="117.84" cy="166.98" r="0.67" fill="#e0607a"/><circle cx="118.57" cy="165.46" r="0.53" fill="#e0607a"/><circle cx="118.39" cy="158.91" r="0.5" fill="#e88a98"/><circle cx="119.5" cy="159.79" r="0.43" fill="#e0607a"/><circle cx="119.73" cy="165.1" r="0.48" fill="#c83048"/><circle cx="121.76" cy="161.39" r="0.45" fill="#d23c52"/><circle cx="115.93" cy="156.88" r="0.45" fill="#c83048"/><circle cx="120.15" cy="163.03" r="0.51" fill="#d23c52"/><circle cx="115.78" cy="157.06" r="0.42" fill="#e0607a"/><circle cx="117.68" cy="164.62" r="0.68" fill="#e0607a"/><circle cx="115.66" cy="165.1" r="0.44" fill="#e0607a"/><circle cx="119.52" cy="157.83" r="0.45" fill="#c83048"/><circle cx="115.48" cy="155.89" r="0.49" fill="#e0607a"/><circle cx="114.43" cy="165.17" r="0.59" fill="#e0607a"/><circle cx="123.1" cy="157.4" r="0.47" fill="#c83048"/><circle cx="121.47" cy="158.99" r="0.42" fill="#d23c52"/></g>
<circle cx="118.7" cy="161.2" r="0.8" fill="#fff" stroke="#777" stroke-width="0.3"/>
<circle cx="130.7" cy="156.6" r="4.27" fill="url(#gm)"/>
<path d="M130.7 156.6L133.74 157.98M130.7 156.6L131.43 160.79M130.7 156.6L133.97 153.13M130.7 156.6L134.34 159.61M130.7 156.6L130.89 159.48M130.7 156.6L133.88 154.96M130.7 156.6L133.87 158.2M130.7 156.6L131.82 160.5M130.7 156.6L134.22 159.89M130.7 156.6L131.77 158.86M130.7 156.6L128.18 156.37M130.7 156.6L126.78 156.62M130.7 156.6L133.39 160.07M130.7 156.6L130.43 152.09M130.7 156.6L131.23 159.11M130.7 156.6L132.56 158.86M130.7 156.6L126.62 154.24M130.7 156.6L129.62 154.34M130.7 156.6L131.08 160.19M130.7 156.6L134.16 155.44M130.7 156.6L128.54 154.54M130.7 156.6L132.15 161.24M130.7 156.6L131.41 161.31M130.7 156.6L127.95 158.42M130.7 156.6L131.87 154.42M130.7 156.6L130.52 160.15M130.7 156.6L133.12 159.42M130.7 156.6L132.62 159.96" stroke="#8c8c8c" stroke-width="0.28" fill="none" opacity="0.75"/>
<path d="M130.7 156.6L128.39 152.77M130.7 156.6L134.16 157.25M130.7 156.6L126.66 157.64M130.7 156.6L133.37 159.04M130.7 156.6L131.13 160.1M130.7 156.6L134.2 155.13M130.7 156.6L131.33 159.2M130.7 156.6L130.47 152.85M130.7 156.6L133.08 154.93M130.7 156.6L126.92 153.93M130.7 156.6L134.03 157.08M130.7 156.6L130.03 153.88M130.7 156.6L134.16 159.87M130.7 156.6L132.67 154.89" stroke="#d44a60" stroke-width="0.3" fill="none" opacity="0.8"/>
<g><circle cx="127.06" cy="158.95" r="0.66" fill="#e0607a"/><circle cx="133.09" cy="155.94" r="0.43" fill="#e88a98"/><circle cx="126.87" cy="158.24" r="0.67" fill="#d23c52"/><circle cx="134.32" cy="158.32" r="0.66" fill="#e0607a"/><circle cx="127.73" cy="158.23" r="0.64" fill="#c83048"/><circle cx="128.8" cy="153.86" r="0.53" fill="#d23c52"/><circle cx="127.31" cy="156.61" r="0.67" fill="#c83048"/><circle cx="132.78" cy="156.1" r="0.58" fill="#d23c52"/><circle cx="130.64" cy="159.5" r="0.59" fill="#c83048"/><circle cx="126.88" cy="158.96" r="0.6" fill="#c83048"/><circle cx="134.26" cy="158.37" r="0.6" fill="#d85068"/></g>
<circle cx="130.7" cy="156.6" r="0.8" fill="#fff" stroke="#777" stroke-width="0.3"/>
<circle cx="154.6" cy="177.5" r="9.97" fill="url(#gm)"/>
<path d="M154.6 177.5L156.38 184.89M154.6 177.5L147.39 180.1M154.6 177.5L164.92 174.57M154.6 177.5L149.57 187.48M154.6 177.5L164.08 183.43M154.6 177.5L149.3 181.3M154.6 177.5L147.91 184.55M154.6 177.5L146.8 177.78M154.6 177.5L143.92 176.84M154.6 177.5L149.52 170.83M154.6 177.5L155 169.99M154.6 177.5L151.26 168.56M154.6 177.5L149.55 181.47M154.6 177.5L154.68 186.57M154.6 177.5L147.45 185.19M154.6 177.5L157.78 182.75M154.6 177.5L161.85 172.02M154.6 177.5L149.09 175.29M154.6 177.5L157.72 183.48M154.6 177.5L152.02 187.09M154.6 177.5L161.02 176.42M154.6 177.5L145.69 170.58M154.6 177.5L154.68 167.06M154.6 177.5L160.47 185.83M154.6 177.5L144.49 179.53M154.6 177.5L158.41 170.01M154.6 177.5L159.06 170.47M154.6 177.5L147.67 176.94M154.6 177.5L165.87 176.52M154.6 177.5L158.75 181.99M154.6 177.5L149.46 185.72M154.6 177.5L151.55 167.71M154.6 177.5L147.2 176.43M154.6 177.5L155.18 184.23M154.6 177.5L156.73 167.96M154.6 177.5L163.01 181.78M154.6 177.5L148.92 179.86M154.6 177.5L146.35 176.8M154.6 177.5L162.1 174.43M154.6 177.5L144.73 175.29M154.6 177.5L152.2 183.07M154.6 177.5L161.53 168.93M154.6 177.5L148.83 168.7M154.6 177.5L151.44 168.27M154.6 177.5L165.22 179.66M154.6 177.5L158.41 169.2M154.6 177.5L155.11 185.41M154.6 177.5L152.56 169.98" stroke="#8c8c8c" stroke-width="0.28" fill="none" opacity="0.75"/>
<path d="M154.6 177.5L147.79 169.29M154.6 177.5L150.26 185.15M154.6 177.5L152.28 186.03M154.6 177.5L149.54 168.83M154.6 177.5L157.85 172.16M154.6 177.5L156.16 170.58M154.6 177.5L160.04 180.6M154.6 177.5L148.53 178.66M154.6 177.5L149.15 186.98M154.6 177.5L154 183.6M154.6 177.5L150.54 185.04M154.6 177.5L152.96 183.13M154.6 177.5L162.16 181.18M154.6 177.5L165.53 178.41M154.6 177.5L145.92 177.43M154.6 177.5L161.2 179.97M154.6 177.5L148.04 179.44M154.6 177.5L151.64 184.29M154.6 177.5L154.78 183.44M154.6 177.5L151.29 169.75M154.6 177.5L163.89 183.22M154.6 177.5L163.44 181.21M154.6 177.5L149.92 184.79M154.6 177.5L145.1 175.69" stroke="#d44a60" stroke-width="0.3" fill="none" opacity="0.8"/>
<g><circle cx="146.82" cy="179.6" r="0.48" fill="#d23c52"/><circle cx="154.01" cy="167.39" r="0.54" fill="#e88a98"/><circle cx="162.69" cy="175.23" r="0.63" fill="#c83048"/><circle cx="150.61" cy="180.66" r="0.62" fill="#e0607a"/><circle cx="161.17" cy="173.64" r="0.5" fill="#d85068"/><circle cx="154.67" cy="183.14" r="0.64" fill="#e88a98"/><circle cx="151.03" cy="167.53" r="0.5" fill="#d85068"/><circle cx="158.93" cy="185.72" r="0.6" fill="#c83048"/><circle cx="152.92" cy="174.87" r="0.66" fill="#d23c52"/><circle cx="152.69" cy="176.53" r="0.58" fill="#c83048"/><circle cx="163.04" cy="171.32" r="0.47" fill="#c83048"/><circle cx="150.44" cy="186.67" r="0.49" fill="#c83048"/><circle cx="149.52" cy="172.86" r="0.43" fill="#c83048"/><circle cx="156.06" cy="187.62" r="0.63" fill="#e88a98"/><circle cx="155.61" cy="169.41" r="0.65" fill="#e0607a"/><circle cx="152.72" cy="175.11" r="0.63" fill="#e0607a"/><circle cx="156.77" cy="172.31" r="0.51" fill="#c83048"/><circle cx="156.89" cy="173.88" r="0.61" fill="#d85068"/><circle cx="153.13" cy="174.78" r="0.65" fill="#e0607a"/><circle cx="157.75" cy="174.5" r="0.6" fill="#d85068"/><circle cx="164.16" cy="180.47" r="0.69" fill="#d85068"/><circle cx="161.64" cy="175.02" r="0.63" fill="#e88a98"/><circle cx="158.17" cy="173.69" r="0.51" fill="#c83048"/><circle cx="158.35" cy="179.1" r="0.67" fill="#d23c52"/><circle cx="161.19" cy="178.57" r="0.42" fill="#d85068"/><circle cx="154.32" cy="172.46" r="0.59" fill="#e88a98"/><circle cx="151.78" cy="184.47" r="0.49" fill="#e88a98"/><circle cx="147.76" cy="170" r="0.5" fill="#e88a98"/><circle cx="149.07" cy="185.64" r="0.57" fill="#c83048"/><circle cx="161.13" cy="182.62" r="0.42" fill="#d85068"/><circle cx="152.54" cy="178.22" r="0.46" fill="#e0607a"/><circle cx="150.3" cy="182.54" r="0.6" fill="#d23c52"/><circle cx="147.87" cy="174.42" r="0.53" fill="#d85068"/><circle cx="153.15" cy="170.49" r="0.46" fill="#d23c52"/><circle cx="152.61" cy="185.04" r="0.43" fill="#c83048"/><circle cx="156.89" cy="169.41" r="0.47" fill="#d23c52"/><circle cx="162.52" cy="170.35" r="0.45" fill="#e88a98"/><circle cx="152.34" cy="174.87" r="0.46" fill="#e88a98"/><circle cx="152.58" cy="183.5" r="0.55" fill="#e0607a"/><circle cx="154.63" cy="175.34" r="0.58" fill="#e0607a"/><circle cx="147.54" cy="184.3" r="0.46" fill="#e0607a"/><circle cx="161.4" cy="173.2" r="0.66" fill="#d23c52"/><circle cx="147.94" cy="185.37" r="0.55" fill="#e0607a"/><circle cx="162.66" cy="171.75" r="0.55" fill="#e0607a"/><circle cx="161.99" cy="174.17" r="0.45" fill="#e0607a"/><circle cx="152.18" cy="178.49" r="0.58" fill="#e0607a"/><circle cx="154.26" cy="183.33" r="0.46" fill="#e88a98"/><circle cx="152.47" cy="175.28" r="0.64" fill="#d23c52"/><circle cx="158.44" cy="174.83" r="0.56" fill="#e0607a"/><circle cx="155.69" cy="187.18" r="0.58" fill="#e0607a"/><circle cx="158.79" cy="174.62" r="0.62" fill="#d85068"/><circle cx="160.31" cy="182.22" r="0.61" fill="#d85068"/><circle cx="153.21" cy="187.24" r="0.42" fill="#d85068"/><circle cx="161.42" cy="175" r="0.66" fill="#d23c52"/><circle cx="161.09" cy="172.64" r="0.44" fill="#e88a98"/><circle cx="146.24" cy="179.65" r="0.5" fill="#d85068"/><circle cx="155.18" cy="171.99" r="0.47" fill="#e0607a"/><circle cx="159.07" cy="172.69" r="0.49" fill="#e88a98"/><circle cx="157.37" cy="181.98" r="0.44" fill="#d23c52"/><circle cx="151.09" cy="175.28" r="0.46" fill="#c83048"/><circle cx="147.42" cy="178.42" r="0.55" fill="#d85068"/><circle cx="161.63" cy="174.96" r="0.54" fill="#e0607a"/><circle cx="146.93" cy="177.07" r="0.42" fill="#e0607a"/><circle cx="151.43" cy="167.45" r="0.43" fill="#e88a98"/><circle cx="153.96" cy="171.15" r="0.59" fill="#e88a98"/><circle cx="145.02" cy="179.62" r="0.4" fill="#d85068"/><circle cx="159.98" cy="170.05" r="0.55" fill="#c83048"/><circle cx="152.51" cy="168.86" r="0.59" fill="#e88a98"/><circle cx="159.43" cy="184.76" r="0.68" fill="#d23c52"/><circle cx="158.66" cy="182.76" r="0.64" fill="#e88a98"/><circle cx="147.11" cy="172.74" r="0.64" fill="#c83048"/><circle cx="159.07" cy="184.2" r="0.49" fill="#e0607a"/><circle cx="161.3" cy="185.19" r="0.58" fill="#d23c52"/><circle cx="157.12" cy="170.71" r="0.51" fill="#c83048"/><circle cx="159.75" cy="173.52" r="0.64" fill="#d85068"/><circle cx="149.88" cy="186.75" r="0.5" fill="#d23c52"/><circle cx="148.2" cy="183" r="0.41" fill="#c83048"/></g>
<circle cx="154.6" cy="177.5" r="1.05" fill="#fff" stroke="#777" stroke-width="0.3"/>
<circle cx="192.9" cy="117.8" r="9.88" fill="url(#gm)"/>
<path d="M192.9 117.8L194.78 112.01M192.9 117.8L188.9 113.62M192.9 117.8L190.91 126.01M192.9 117.8L198.31 124.68M192.9 117.8L193.84 111.33M192.9 117.8L201.09 119.9M192.9 117.8L184.79 122.11M192.9 117.8L200.47 124.99M192.9 117.8L186.02 122.23M192.9 117.8L202.22 119.24M192.9 117.8L198.28 126.98M192.9 117.8L186.34 111.16M192.9 117.8L185.19 110.36M192.9 117.8L187.48 119.99M192.9 117.8L202.5 120.79M192.9 117.8L187.75 111.06M192.9 117.8L189.64 107.4M192.9 117.8L186.05 124.19M192.9 117.8L184.06 118.94M192.9 117.8L199.78 117.52M192.9 117.8L188.58 114.01M192.9 117.8L188.63 126.02M192.9 117.8L195.29 110.61M192.9 117.8L182.39 114.67M192.9 117.8L201.31 117.21M192.9 117.8L186.6 121.56M192.9 117.8L191.3 112.28M192.9 117.8L198.11 123.6M192.9 117.8L186.52 112.78M192.9 117.8L195.15 112.06M192.9 117.8L188.89 122.15M192.9 117.8L194.27 111.08M192.9 117.8L184.28 117.76M192.9 117.8L188.25 111.95M192.9 117.8L184.49 111.53M192.9 117.8L199.98 114.87M192.9 117.8L197.39 112.23M192.9 117.8L190.26 127.81M192.9 117.8L201.84 115.31M192.9 117.8L199.03 120.27M192.9 117.8L186.1 123.94M192.9 117.8L194.78 125.59M192.9 117.8L190.57 123.39M192.9 117.8L188.09 110.95M192.9 117.8L195.28 124.54M192.9 117.8L198.36 122.91" stroke="#8c8c8c" stroke-width="0.28" fill="none" opacity="0.75"/>
<path d="M192.9 117.8L188.5 122.08M192.9 117.8L192.36 111.33M192.9 117.8L194.46 125.78M192.9 117.8L203.44 115.87M192.9 117.8L195.65 123.6M192.9 117.8L198.6 121.13M192.9 117.8L188.42 126.23M192.9 117.8L186.76 119.24M192.9 117.8L186.06 126.29M192.9 117.8L182.77 114.7M192.9 117.8L188.33 110.59M192.9 117.8L183.39 117.99M192.9 117.8L186.68 125.13M192.9 117.8L198.54 126.84M192.9 117.8L200.64 120.12M192.9 117.8L191.05 123.59M192.9 117.8L189.63 109.11M192.9 117.8L189.33 107.39M192.9 117.8L198.15 109.07M192.9 117.8L187.39 119.79M192.9 117.8L195.6 107.56M192.9 117.8L184.39 111.56M192.9 117.8L186.57 109.63M192.9 117.8L198.4 127M192.9 117.8L197.25 112.37M192.9 117.8L189.31 128.41" stroke="#d44a60" stroke-width="0.3" fill="none" opacity="0.8"/>
<g><circle cx="201.57" cy="112.67" r="0.55" fill="#e88a98"/><circle cx="192.16" cy="124.35" r="0.55" fill="#d85068"/><circle cx="199.08" cy="116.79" r="0.67" fill="#c83048"/><circle cx="185.89" cy="125.48" r="0.55" fill="#e0607a"/><circle cx="191.62" cy="123.95" r="0.56" fill="#d85068"/><circle cx="191.9" cy="120.15" r="0.54" fill="#e0607a"/><circle cx="199.92" cy="115.85" r="0.57" fill="#c83048"/><circle cx="201.28" cy="114.97" r="0.54" fill="#c83048"/><circle cx="197.42" cy="115.66" r="0.51" fill="#e0607a"/><circle cx="188.14" cy="114.12" r="0.61" fill="#e0607a"/><circle cx="186.89" cy="114.17" r="0.57" fill="#e0607a"/><circle cx="195" cy="125.17" r="0.63" fill="#d23c52"/><circle cx="193.21" cy="121.71" r="0.68" fill="#c83048"/><circle cx="201.69" cy="117.36" r="0.48" fill="#d23c52"/><circle cx="196.45" cy="117.24" r="0.49" fill="#c83048"/><circle cx="191.01" cy="116.93" r="0.51" fill="#e88a98"/><circle cx="190.96" cy="110.2" r="0.4" fill="#e0607a"/><circle cx="194.3" cy="122.38" r="0.43" fill="#e0607a"/><circle cx="198.1" cy="115.44" r="0.69" fill="#d85068"/><circle cx="189.84" cy="111.81" r="0.42" fill="#d23c52"/><circle cx="197.99" cy="108.6" r="0.65" fill="#d23c52"/><circle cx="198.92" cy="112.97" r="0.51" fill="#e88a98"/><circle cx="187.45" cy="108.98" r="0.7" fill="#d23c52"/><circle cx="186.72" cy="111.75" r="0.51" fill="#e0607a"/><circle cx="190.09" cy="120.97" r="0.48" fill="#c83048"/><circle cx="195.76" cy="121.33" r="0.43" fill="#e0607a"/><circle cx="194.1" cy="113.85" r="0.55" fill="#c83048"/><circle cx="185.73" cy="114.18" r="0.54" fill="#e88a98"/><circle cx="192.9" cy="108.7" r="0.53" fill="#e0607a"/><circle cx="193.67" cy="127.04" r="0.67" fill="#e0607a"/><circle cx="187.04" cy="125.12" r="0.58" fill="#e88a98"/><circle cx="186.18" cy="121" r="0.47" fill="#d23c52"/><circle cx="188.22" cy="109.28" r="0.7" fill="#e88a98"/><circle cx="193.09" cy="120.53" r="0.46" fill="#e0607a"/><circle cx="192.32" cy="127.16" r="0.5" fill="#d23c52"/><circle cx="201.05" cy="122.2" r="0.55" fill="#d23c52"/><circle cx="197.95" cy="115.67" r="0.45" fill="#e0607a"/><circle cx="183.57" cy="122.05" r="0.61" fill="#d23c52"/><circle cx="188.72" cy="119.8" r="0.55" fill="#d23c52"/><circle cx="202.02" cy="117.22" r="0.65" fill="#e0607a"/><circle cx="194.37" cy="112.11" r="0.5" fill="#d23c52"/><circle cx="200.25" cy="123.31" r="0.55" fill="#e0607a"/><circle cx="197.2" cy="125.41" r="0.48" fill="#e88a98"/><circle cx="187.69" cy="119.35" r="0.4" fill="#e88a98"/><circle cx="194.07" cy="124.55" r="0.52" fill="#e0607a"/><circle cx="187.15" cy="116.47" r="0.5" fill="#c83048"/><circle cx="192.01" cy="126.51" r="0.41" fill="#e0607a"/><circle cx="184.44" cy="122.69" r="0.45" fill="#d23c52"/><circle cx="200.05" cy="121.19" r="0.68" fill="#c83048"/><circle cx="199.08" cy="122.28" r="0.48" fill="#e88a98"/><circle cx="201.19" cy="123.76" r="0.64" fill="#d85068"/><circle cx="190.23" cy="127.71" r="0.44" fill="#e88a98"/><circle cx="199.42" cy="120.73" r="0.61" fill="#d23c52"/><circle cx="183.65" cy="112.86" r="0.64" fill="#d23c52"/><circle cx="193.75" cy="114.51" r="0.47" fill="#c83048"/><circle cx="194.77" cy="127.97" r="0.5" fill="#c83048"/><circle cx="190.69" cy="111.59" r="0.45" fill="#c83048"/><circle cx="188.47" cy="119.63" r="0.43" fill="#e0607a"/><circle cx="191.42" cy="108.02" r="0.6" fill="#e0607a"/><circle cx="192.63" cy="121.81" r="0.43" fill="#e88a98"/><circle cx="193.71" cy="122.21" r="0.43" fill="#c83048"/><circle cx="190.06" cy="125.53" r="0.66" fill="#d85068"/><circle cx="184.02" cy="112.3" r="0.56" fill="#d85068"/><circle cx="191" cy="122.5" r="0.44" fill="#c83048"/><circle cx="187.99" cy="124.15" r="0.59" fill="#e0607a"/><circle cx="190.65" cy="114.28" r="0.53" fill="#d23c52"/><circle cx="190.4" cy="113.63" r="0.49" fill="#d85068"/><circle cx="199.12" cy="123.56" r="0.63" fill="#e88a98"/></g>
<circle cx="192.9" cy="117.8" r="1.04" fill="#fff" stroke="#777" stroke-width="0.3"/>
<circle cx="205.8" cy="143.8" r="12.35" fill="url(#gg)"/>
<path d="M205.8 143.8L196.99 142.83M205.8 143.8L196.09 143.14M205.8 143.8L195.98 150.75M205.8 143.8L193.69 145.13M205.8 143.8L196.62 146.65M205.8 143.8L197.96 153.34M205.8 143.8L208.12 152.25M205.8 143.8L199.14 134.05M205.8 143.8L201.08 149.46M205.8 143.8L194.17 141.98M205.8 143.8L208.73 135.58M205.8 143.8L215.61 151.76M205.8 143.8L196.13 144.55M205.8 143.8L193.78 144.77M205.8 143.8L213.44 133.12M205.8 143.8L197.6 148.22M205.8 143.8L209.15 151.33M205.8 143.8L217.29 137.67M205.8 143.8L213.72 133.13M205.8 143.8L210.22 155.46M205.8 143.8L215.58 152.91M205.8 143.8L196.8 150.56M205.8 143.8L215.56 145.05M205.8 143.8L215.49 144.48M205.8 143.8L199.91 154.06M205.8 143.8L208.55 150.55M205.8 143.8L214.04 133.22M205.8 143.8L196.27 138.09M205.8 143.8L214.95 145.93M205.8 143.8L207.95 152.84M205.8 143.8L214.57 143.05M205.8 143.8L206.25 154.99M205.8 143.8L218.08 146.79M205.8 143.8L204.3 156.21M205.8 143.8L213.3 143.19M205.8 143.8L207.39 155.14M205.8 143.8L211.78 134.65M205.8 143.8L208.22 136.31M205.8 143.8L205.97 133.62M205.8 143.8L214.49 149.39M205.8 143.8L198.92 151.23M205.8 143.8L202.87 155.42M205.8 143.8L214.06 142.85M205.8 143.8L196.1 144.18M205.8 143.8L209.12 156.57M205.8 143.8L199.97 153.58M205.8 143.8L204.16 151.36M205.8 143.8L200.39 149.61M205.8 143.8L196.58 141.92M205.8 143.8L211.13 135.96M205.8 143.8L215.09 141.22M205.8 143.8L211.95 153.77M205.8 143.8L196.41 147.09M205.8 143.8L208.36 133.82M205.8 143.8L208.4 157.32M205.8 143.8L201.04 134.36M205.8 143.8L208.5 151.69M205.8 143.8L202.71 135.42M205.8 143.8L196.5 143.24M205.8 143.8L212.78 151.62M205.8 143.8L211.95 150.75M205.8 143.8L194.88 140.54M205.8 143.8L197.98 140.03M205.8 143.8L211.13 134.12M205.8 143.8L199.08 151.52M205.8 143.8L200.17 139.03M205.8 143.8L217.78 141.67M205.8 143.8L210.54 136.9M205.8 143.8L198.6 142.86M205.8 143.8L193.83 148.54M205.8 143.8L203.4 152.55M205.8 143.8L216.69 136.44M205.8 143.8L194.05 148.44" stroke="#8c8c8c" stroke-width="0.28" fill="none" opacity="0.75"/>
<path d="M205.8 143.8L202.66 135.33M205.8 143.8L198.77 137.91M205.8 143.8L197.25 137.43M205.8 143.8L197.07 153.93M205.8 143.8L213.59 143.9M205.8 143.8L197.17 152.43M205.8 143.8L213.26 152.39M205.8 143.8L210.9 133.33M205.8 143.8L192.98 141.13M205.8 143.8L213.42 138.16M205.8 143.8L201.86 150.31M205.8 143.8L200.13 138.19" stroke="#d44a60" stroke-width="0.3" fill="none" opacity="0.8"/>
<g><circle cx="216.53" cy="138.46" r="0.47" fill="#c83048"/><circle cx="216.52" cy="150.74" r="0.55" fill="#d85068"/><circle cx="195.73" cy="136.42" r="0.61" fill="#e88a98"/><circle cx="194.3" cy="146.45" r="0.65" fill="#e88a98"/><circle cx="211.88" cy="141.37" r="0.62" fill="#c83048"/><circle cx="209.17" cy="137.78" r="0.52" fill="#c83048"/><circle cx="206.86" cy="150.22" r="0.54" fill="#c83048"/><circle cx="200.39" cy="151.46" r="0.63" fill="#d85068"/><circle cx="205.42" cy="131.37" r="0.52" fill="#c83048"/><circle cx="210.88" cy="151.8" r="0.45" fill="#e88a98"/><circle cx="206.6" cy="135.02" r="0.54" fill="#e0607a"/><circle cx="194" cy="143.29" r="0.6" fill="#e0607a"/><circle cx="205.88" cy="153.93" r="0.48" fill="#d23c52"/><circle cx="202.84" cy="147.95" r="0.51" fill="#c83048"/><circle cx="200.07" cy="140.71" r="0.64" fill="#e88a98"/><circle cx="211.04" cy="138.38" r="0.57" fill="#e0607a"/><circle cx="197.3" cy="137.5" r="0.61" fill="#e0607a"/><circle cx="211.08" cy="153.39" r="0.64" fill="#d23c52"/><circle cx="200.56" cy="132.99" r="0.65" fill="#e88a98"/><circle cx="203.77" cy="135.1" r="0.45" fill="#d23c52"/><circle cx="211.7" cy="154.91" r="0.47" fill="#c83048"/><circle cx="211.45" cy="137.51" r="0.43" fill="#e0607a"/><circle cx="203.66" cy="131.8" r="0.54" fill="#e0607a"/><circle cx="197.09" cy="141.7" r="0.55" fill="#d85068"/><circle cx="216.47" cy="151.46" r="0.53" fill="#e0607a"/><circle cx="214.06" cy="136.93" r="0.56" fill="#d23c52"/><circle cx="208.18" cy="155.33" r="0.59" fill="#c83048"/><circle cx="195.14" cy="136.6" r="0.59" fill="#e0607a"/><circle cx="199.34" cy="150.54" r="0.69" fill="#d23c52"/><circle cx="209.96" cy="150.15" r="0.57" fill="#c83048"/><circle cx="205.3" cy="139.08" r="0.66" fill="#d85068"/><circle cx="212.36" cy="145.95" r="0.48" fill="#d23c52"/><circle cx="209.35" cy="137.67" r="0.48" fill="#e0607a"/><circle cx="202.96" cy="152.51" r="0.47" fill="#c83048"/><circle cx="212.08" cy="137.77" r="0.66" fill="#e0607a"/><circle cx="214.48" cy="151.4" r="0.61" fill="#e88a98"/><circle cx="208.31" cy="130.81" r="0.51" fill="#e0607a"/><circle cx="202.52" cy="151.59" r="0.52" fill="#d85068"/><circle cx="204.19" cy="147.68" r="0.62" fill="#d85068"/><circle cx="201.25" cy="134.62" r="0.65" fill="#d85068"/><circle cx="199.9" cy="144.7" r="0.67" fill="#e88a98"/><circle cx="208.57" cy="138" r="0.57" fill="#d23c52"/><circle cx="195.93" cy="146.24" r="0.7" fill="#e0607a"/><circle cx="200.76" cy="143.53" r="0.67" fill="#c83048"/><circle cx="203.44" cy="144.9" r="0.59" fill="#c83048"/><circle cx="197.56" cy="134.79" r="0.65" fill="#e88a98"/><circle cx="212.09" cy="137.49" r="0.44" fill="#e0607a"/><circle cx="203.93" cy="145.29" r="0.41" fill="#c83048"/><circle cx="198.53" cy="146.59" r="0.47" fill="#d85068"/><circle cx="209.15" cy="145.32" r="0.49" fill="#d23c52"/><circle cx="207.71" cy="136.47" r="0.61" fill="#d85068"/><circle cx="208.19" cy="147.7" r="0.7" fill="#d23c52"/><circle cx="202.24" cy="155" r="0.61" fill="#c83048"/><circle cx="197.85" cy="136.68" r="0.67" fill="#e88a98"/><circle cx="212.58" cy="150" r="0.69" fill="#e88a98"/><circle cx="199.18" cy="149.78" r="0.51" fill="#e0607a"/><circle cx="208.69" cy="152.68" r="0.52" fill="#e88a98"/><circle cx="206.04" cy="136.54" r="0.58" fill="#d23c52"/><circle cx="201.7" cy="138.03" r="0.45" fill="#e0607a"/><circle cx="197.76" cy="150.47" r="0.45" fill="#c83048"/><circle cx="197.04" cy="142.74" r="0.67" fill="#c83048"/><circle cx="206.55" cy="153.82" r="0.42" fill="#e88a98"/><circle cx="197.59" cy="136.66" r="0.67" fill="#c83048"/><circle cx="194.99" cy="148.09" r="0.68" fill="#d23c52"/><circle cx="211.63" cy="148.57" r="0.64" fill="#d23c52"/><circle cx="197.99" cy="152.77" r="0.4" fill="#d23c52"/><circle cx="209.63" cy="149.15" r="0.64" fill="#d23c52"/><circle cx="195.96" cy="140.41" r="0.44" fill="#d23c52"/><circle cx="209.58" cy="135.92" r="0.58" fill="#c83048"/><circle cx="200.79" cy="155.83" r="0.62" fill="#d85068"/></g>
<circle cx="205.8" cy="143.8" r="1.3" fill="#fff" stroke="#777" stroke-width="0.3"/>
<circle cx="237.9" cy="136" r="1.3" fill="#888" stroke="#555" stroke-width="0.3"/>
<circle cx="122.4" cy="61.5" r="2.1" fill="#c6c6c6" stroke="#7a7a7a" stroke-width="0.6"/>
<circle cx="132.1" cy="92" r="5" fill="#d2d2d2" stroke="#666" stroke-width="0.85"/>
<text x="74.6" y="67" font-size="8.2" fill="#111" text-anchor="middle" stroke="#111" stroke-width="0.25">2.43</text>
<text x="29.4" y="88.4" font-size="8.2" fill="#111" text-anchor="middle" stroke="#111" stroke-width="0.25">2.70</text>
<text x="92.1" y="83.6" font-size="8.2" fill="#111" text-anchor="middle" stroke="#111" stroke-width="0.25">2.47</text>
<text x="56.1" y="114.7" font-size="8.2" fill="#111" text-anchor="middle" stroke="#111" stroke-width="0.25">2.11</text>
<text x="105" y="115.2" font-size="9" fill="#111" text-anchor="middle" stroke="#111" stroke-width="0.25">Secretory</text>
<text x="260.9" y="9.1" font-size="11.8" fill="#000" stroke="#000" stroke-width="0.2">B</text>
<text x="391.8" y="9.3" font-size="10" fill="#000" text-anchor="middle" font-weight="bold">Pfam domains enriched in PSL-LCCL</text>
<line x1="296.6" y1="17.5" x2="296.6" y2="164.2" stroke="#3a3a3a" stroke-width="0.8"/>
<line x1="296.6" y1="164.2" x2="495.6" y2="164.2" stroke="#3a3a3a" stroke-width="0.8"/>
<line x1="294.6" y1="157.9" x2="296.6" y2="157.9" stroke="#444" stroke-width="0.6"/>
<text x="294.2" y="160.05" font-size="6" fill="#404040" text-anchor="end" stroke="#404040" stroke-width="0.17">0.0</text>
<line x1="294.6" y1="130.7" x2="296.6" y2="130.7" stroke="#444" stroke-width="0.6"/>
<text x="294.2" y="132.85" font-size="6" fill="#404040" text-anchor="end" stroke="#404040" stroke-width="0.17">2.5</text>
<line x1="294.6" y1="103.5" x2="296.6" y2="103.5" stroke="#444" stroke-width="0.6"/>
<text x="294.2" y="105.65" font-size="6" fill="#404040" text-anchor="end" stroke="#404040" stroke-width="0.17">5.0</text>
<line x1="294.6" y1="76.3" x2="296.6" y2="76.3" stroke="#444" stroke-width="0.6"/>
<text x="294.2" y="78.45" font-size="6" fill="#404040" text-anchor="end" stroke="#404040" stroke-width="0.17">7.5</text>
<line x1="294.6" y1="49.1" x2="296.6" y2="49.1" stroke="#444" stroke-width="0.6"/>
<text x="294.2" y="51.25" font-size="6" fill="#404040" text-anchor="end" stroke="#404040" stroke-width="0.17">10.0</text>
<line x1="294.6" y1="21.9" x2="296.6" y2="21.9" stroke="#444" stroke-width="0.6"/>
<text x="294.2" y="24.05" font-size="6" fill="#404040" text-anchor="end" stroke="#404040" stroke-width="0.17">12.5</text>
<line x1="305.2" y1="164.2" x2="305.2" y2="166.2" stroke="#444" stroke-width="0.6"/>
<text x="304" y="172.2" font-size="6" fill="#404040" text-anchor="middle" stroke="#404040" stroke-width="0.17">0</text>
<line x1="364.24" y1="164.2" x2="364.24" y2="166.2" stroke="#444" stroke-width="0.6"/>
<text x="362.6" y="172.2" font-size="6" fill="#404040" text-anchor="middle" stroke="#404040" stroke-width="0.17">4</text>
<line x1="423.28" y1="164.2" x2="423.28" y2="166.2" stroke="#444" stroke-width="0.6"/>
<text x="421.8" y="172.2" font-size="6" fill="#404040" text-anchor="middle" stroke="#404040" stroke-width="0.17">8</text>
<line x1="482.32" y1="164.2" x2="482.32" y2="166.2" stroke="#444" stroke-width="0.6"/>
<text x="479" y="172.2" font-size="6" fill="#404040" text-anchor="middle" stroke="#404040" stroke-width="0.17">12</text>
<text x="398" y="183.4" font-size="9.05" fill="#111" text-anchor="middle" stroke="#111" stroke-width="0.25">Fold enrichment (log2+1)</text>
<text x="276.3" y="83.1" font-size="8.45" fill="#111" text-anchor="middle" transform="rotate(-90 276.3 83.1)" stroke="#111" stroke-width="0.25">Adjusted p value (-log10)</text>
<circle cx="302.96" cy="157.6" r="1.55" fill="#3f7dbd"/>
<circle cx="304.13" cy="157.6" r="1.55" fill="#cfcfcf"/>
<circle cx="304.58" cy="157.6" r="1.55" fill="#3f7dbd"/>
<circle cx="305.11" cy="157.6" r="1.55" fill="#3f7dbd"/>
<circle cx="306.26" cy="157.6" r="1.55" fill="#5fbf2a"/>
<circle cx="306.61" cy="157.6" r="1.55" fill="#cfcfcf"/>
<circle cx="307.4" cy="157.6" r="1.55" fill="#5fbf2a"/>
<circle cx="308.67" cy="157.6" r="1.55" fill="#cfcfcf"/>
<circle cx="309.69" cy="157.6" r="1.55" fill="#f2d22a"/>
<circle cx="310.21" cy="157.6" r="1.55" fill="#3f7dbd"/>
<circle cx="310.6" cy="157.6" r="1.55" fill="#cfcfcf"/>
<circle cx="311.69" cy="157.6" r="1.55" fill="#cfcfcf"/>
<circle cx="312.21" cy="157.6" r="1.55" fill="#cfcfcf"/>
<circle cx="312.87" cy="157.6" r="1.55" fill="#cfcfcf"/>
<circle cx="313.98" cy="157.6" r="1.55" fill="#5fbf2a"/>
<circle cx="314.83" cy="157.6" r="1.55" fill="#3f7dbd"/>
<circle cx="315.61" cy="157.6" r="1.55" fill="#3f7dbd"/>
<circle cx="316.36" cy="157.6" r="1.55" fill="#cfcfcf"/>
<circle cx="317.58" cy="157.6" r="1.55" fill="#f2d22a"/>
<circle cx="318.24" cy="157.6" r="1.55" fill="#5fbf2a"/>
<circle cx="318.61" cy="157.6" r="1.55" fill="#cfcfcf"/>
<circle cx="319.38" cy="157.6" r="1.55" fill="#cfcfcf"/>
<circle cx="320.55" cy="157.6" r="1.55" fill="#cfcfcf"/>
<circle cx="321.4" cy="157.6" r="1.55" fill="#cfcfcf"/>
<circle cx="322.28" cy="157.6" r="1.55" fill="#5fbf2a"/>
<circle cx="322.3" cy="157.6" r="1.55" fill="#cfcfcf"/>
<circle cx="323.81" cy="157.6" r="1.55" fill="#cfcfcf"/>
<circle cx="324.66" cy="157.6" r="1.55" fill="#cfcfcf"/>
<circle cx="324.72" cy="157.6" r="1.55" fill="#3f7dbd"/>
<circle cx="326.07" cy="157.6" r="1.55" fill="#cfcfcf"/>
<circle cx="326.31" cy="157.6" r="1.55" fill="#cfcfcf"/>
<circle cx="327.8" cy="157.6" r="1.55" fill="#5fbf2a"/>
<circle cx="327.91" cy="157.6" r="1.55" fill="#cfcfcf"/>
<circle cx="328.68" cy="157.6" r="1.55" fill="#cfcfcf"/>
<circle cx="379.01" cy="157.41" r="1.55" fill="#cf4d4f"/>
<circle cx="356.64" cy="157.41" r="1.55" fill="#3f7dbd"/>
<circle cx="336.38" cy="157.69" r="1.55" fill="#5fbf2a"/>
<circle cx="354.93" cy="157.43" r="1.55" fill="#f2d22a"/>
<circle cx="390.14" cy="157.78" r="1.55" fill="#f2d22a"/>
<circle cx="384.63" cy="157.43" r="1.55" fill="#f2d22a"/>
<circle cx="382.68" cy="157.69" r="1.55" fill="#5fbf2a"/>
<circle cx="391.32" cy="157.43" r="1.55" fill="#f2d22a"/>
<circle cx="377.45" cy="157.5" r="1.55" fill="#f2d22a"/>
<circle cx="332.7" cy="157.35" r="1.55" fill="#cf4d4f"/>
<circle cx="343.55" cy="157.66" r="1.55" fill="#f2d22a"/>
<circle cx="357.01" cy="157.88" r="1.55" fill="#cf4d4f"/>
<circle cx="364.77" cy="157.82" r="1.55" fill="#5fbf2a"/>
<circle cx="337.86" cy="157.85" r="1.55" fill="#3f7dbd"/>
<circle cx="343.97" cy="157.41" r="1.55" fill="#3f7dbd"/>
<circle cx="388.19" cy="157.42" r="1.55" fill="#27277a"/>
<circle cx="384.46" cy="157.66" r="1.55" fill="#f2d22a"/>
<circle cx="334.65" cy="157.32" r="1.55" fill="#cfcfcf"/>
<circle cx="343.26" cy="157.72" r="1.55" fill="#f2d22a"/>
<circle cx="380.72" cy="157.66" r="1.55" fill="#f2d22a"/>
<circle cx="339.23" cy="157.73" r="1.55" fill="#5fbf2a"/>
<circle cx="342.62" cy="157.64" r="1.55" fill="#3f7dbd"/>
<circle cx="367.32" cy="157.47" r="1.55" fill="#27277a"/>
<circle cx="341.05" cy="157.31" r="1.55" fill="#f2d22a"/>
<circle cx="356.53" cy="157.34" r="1.55" fill="#5fbf2a"/>
<circle cx="351.6" cy="157.64" r="1.55" fill="#5fbf2a"/>
<circle cx="351.18" cy="157.83" r="1.55" fill="#cfcfcf"/>
<circle cx="370.04" cy="157.71" r="1.55" fill="#cf4d4f"/>
<circle cx="336.98" cy="157.32" r="1.55" fill="#5fbf2a"/>
<circle cx="386.25" cy="157.72" r="1.55" fill="#cfcfcf"/>
<circle cx="329.36" cy="157.68" r="1.55" fill="#cf4d4f"/>
<circle cx="374.75" cy="157.49" r="1.55" fill="#cfcfcf"/>
<circle cx="332.82" cy="157.63" r="1.55" fill="#3f7dbd"/>
<circle cx="385.61" cy="157.74" r="1.55" fill="#cf4d4f"/>
<circle cx="378.77" cy="157.85" r="1.55" fill="#f2d22a"/>
<circle cx="371.85" cy="157.84" r="1.55" fill="#3f7dbd"/>
<circle cx="354.7" cy="157.77" r="1.55" fill="#3f7dbd"/>
<circle cx="364.66" cy="157.67" r="1.55" fill="#f2d22a"/>
<circle cx="365.29" cy="157.67" r="1.55" fill="#5fbf2a"/>
<circle cx="368.92" cy="157.9" r="1.55" fill="#3f7dbd"/>
<circle cx="374.61" cy="157.53" r="1.55" fill="#3f7dbd"/>
<circle cx="365.18" cy="157.56" r="1.55" fill="#3f7dbd"/>
<circle cx="333.36" cy="157.75" r="1.55" fill="#5fbf2a"/>
<circle cx="366.48" cy="157.59" r="1.55" fill="#5fbf2a"/>
<circle cx="372.69" cy="157.6" r="1.55" fill="#cf4d4f"/>
<circle cx="386.91" cy="157.45" r="1.55" fill="#5fbf2a"/>
<circle cx="347.27" cy="157.71" r="1.55" fill="#5fbf2a"/>
<circle cx="338.85" cy="157.84" r="1.55" fill="#cf4d4f"/>
<circle cx="356.28" cy="157.84" r="1.55" fill="#f2d22a"/>
<circle cx="370.62" cy="157.42" r="1.55" fill="#f2d22a"/>
<circle cx="379.58" cy="157.85" r="1.55" fill="#3f7dbd"/>
<circle cx="352.6" cy="157.65" r="1.55" fill="#f2d22a"/>
<circle cx="336.72" cy="157.6" r="1.55" fill="#3f7dbd"/>
<circle cx="382.32" cy="157.73" r="1.55" fill="#27277a"/>
<circle cx="345.71" cy="157.4" r="1.55" fill="#f2d22a"/>
<circle cx="345.61" cy="157.43" r="1.55" fill="#f2d22a"/>
<circle cx="368.05" cy="157.6" r="1.55" fill="#f2d22a"/>
<circle cx="381.7" cy="157.89" r="1.55" fill="#f2d22a"/>
<circle cx="332.78" cy="157.32" r="1.55" fill="#3f7dbd"/>
<circle cx="330.66" cy="157.73" r="1.55" fill="#cf4d4f"/>
<circle cx="344.69" cy="149.02" r="1.55" fill="#5fbf2a"/>
<circle cx="346.82" cy="153.28" r="1.55" fill="#5fbf2a"/>
<circle cx="337.19" cy="154.24" r="1.55" fill="#5fbf2a"/>
<circle cx="363.04" cy="155.47" r="1.55" fill="#f2d22a"/>
<circle cx="353.97" cy="152.07" r="1.55" fill="#3f7dbd"/>
<circle cx="366.15" cy="155.56" r="1.55" fill="#5fbf2a"/>
<circle cx="344.12" cy="157.09" r="1.55" fill="#5fbf2a"/>
<circle cx="368.52" cy="156.17" r="1.55" fill="#5fbf2a"/>
<circle cx="331.35" cy="152.86" r="1.55" fill="#cf4d4f"/>
<circle cx="363.6" cy="156.68" r="1.55" fill="#3f7dbd"/>
<circle cx="364.14" cy="151.88" r="1.55" fill="#27277a"/>
<circle cx="379.55" cy="151.31" r="1.55" fill="#3f7dbd"/>
<circle cx="347.58" cy="153.43" r="1.55" fill="#cf4d4f"/>
<circle cx="349.35" cy="154.89" r="1.55" fill="#cf4d4f"/>
<circle cx="361.7" cy="151.22" r="1.55" fill="#27277a"/>
<circle cx="364.77" cy="155.89" r="1.55" fill="#5fbf2a"/>
<circle cx="336.42" cy="148.14" r="1.55" fill="#cf4d4f"/>
<circle cx="331.63" cy="154.07" r="1.55" fill="#27277a"/>
<circle cx="399.03" cy="155.85" r="1.55" fill="#cf4d4f"/>
<circle cx="333.79" cy="153.18" r="1.55" fill="#27277a"/>
<circle cx="342.85" cy="153.81" r="1.55" fill="#5fbf2a"/>
<circle cx="358.63" cy="155.21" r="1.55" fill="#3f7dbd"/>
<circle cx="334.22" cy="157.5" r="1.55" fill="#3f7dbd"/>
<circle cx="370.91" cy="153.95" r="1.55" fill="#5fbf2a"/>
<circle cx="351.31" cy="149.72" r="1.55" fill="#5fbf2a"/>
<circle cx="346.64" cy="152.56" r="1.55" fill="#3f7dbd"/>
<circle cx="349.3" cy="150.89" r="1.55" fill="#27277a"/>
<circle cx="391.39" cy="157.01" r="1.55" fill="#5fbf2a"/>
<circle cx="333.68" cy="151.34" r="1.55" fill="#f2d22a"/>
<circle cx="332.92" cy="150.24" r="1.55" fill="#cf4d4f"/>
<circle cx="346.49" cy="152.06" r="1.55" fill="#f2d22a"/>
<circle cx="364.88" cy="150.78" r="1.55" fill="#27277a"/>
<circle cx="341.15" cy="147.8" r="1.55" fill="#cfcfcf"/>
<circle cx="361.53" cy="156.57" r="1.55" fill="#5fbf2a"/>
<circle cx="357.97" cy="156.22" r="1.55" fill="#cf4d4f"/>
<circle cx="395.62" cy="155.22" r="1.55" fill="#cf4d4f"/>
<circle cx="365.9" cy="152.13" r="1.55" fill="#cf4d4f"/>
<circle cx="367.78" cy="157.15" r="1.55" fill="#5fbf2a"/>
<circle cx="354.08" cy="156.31" r="1.55" fill="#27277a"/>
<circle cx="346.25" cy="155.69" r="1.55" fill="#f2d22a"/>
<circle cx="347.36" cy="153.63" r="1.55" fill="#3f7dbd"/>
<circle cx="351.99" cy="154.14" r="1.55" fill="#f2d22a"/>
<circle cx="340.97" cy="150.87" r="1.55" fill="#27277a"/>
<circle cx="359.05" cy="151.03" r="1.55" fill="#5fbf2a"/>
<circle cx="334.42" cy="154.09" r="1.55" fill="#cf4d4f"/>
<circle cx="338.66" cy="153.22" r="1.55" fill="#cf4d4f"/>
<circle cx="361.31" cy="152.44" r="1.55" fill="#5fbf2a"/>
<circle cx="347.7" cy="157.34" r="1.55" fill="#5fbf2a"/>
<circle cx="355.35" cy="156.54" r="1.55" fill="#f2d22a"/>
<circle cx="355.31" cy="154.3" r="1.55" fill="#5fbf2a"/>
<circle cx="338.41" cy="150.56" r="1.55" fill="#cf4d4f"/>
<circle cx="377.88" cy="155.72" r="1.55" fill="#cf4d4f"/>
<circle cx="339.76" cy="154.64" r="1.55" fill="#3f7dbd"/>
<circle cx="348.83" cy="147.18" r="1.55" fill="#f2d22a"/>
<circle cx="351.37" cy="146.8" r="1.55" fill="#5fbf2a"/>
<circle cx="382.35" cy="157.49" r="1.55" fill="#5fbf2a"/>
<circle cx="330.8" cy="149.24" r="1.55" fill="#f2d22a"/>
<circle cx="368.28" cy="151.98" r="1.55" fill="#f2d22a"/>
<circle cx="331.35" cy="154.99" r="1.55" fill="#f2d22a"/>
<circle cx="329.95" cy="156.7" r="1.55" fill="#5fbf2a"/>
<circle cx="351.59" cy="147.17" r="1.55" fill="#cfcfcf"/>
<circle cx="351.1" cy="153.51" r="1.55" fill="#3f7dbd"/>
<circle cx="367.55" cy="157.46" r="1.55" fill="#5fbf2a"/>
<circle cx="339.13" cy="156.54" r="1.55" fill="#5fbf2a"/>
<circle cx="357.64" cy="155.61" r="1.55" fill="#cf4d4f"/>
<circle cx="338.05" cy="154.96" r="1.55" fill="#5fbf2a"/>
<circle cx="370.51" cy="155.23" r="1.55" fill="#5fbf2a"/>
<circle cx="387.18" cy="152.75" r="1.55" fill="#f2d22a"/>
<circle cx="330.14" cy="152.99" r="1.55" fill="#f2d22a"/>
<circle cx="355.44" cy="157.07" r="1.55" fill="#cf4d4f"/>
<circle cx="368.26" cy="156.93" r="1.55" fill="#3f7dbd"/>
<circle cx="339.97" cy="152.4" r="1.55" fill="#3f7dbd"/>
<circle cx="342.19" cy="155.68" r="1.55" fill="#5fbf2a"/>
<circle cx="332.57" cy="157.53" r="1.55" fill="#3f7dbd"/>
<circle cx="340.96" cy="149.9" r="1.55" fill="#3f7dbd"/>
<circle cx="346.2" cy="153.75" r="1.55" fill="#cf4d4f"/>
<circle cx="378.29" cy="157.2" r="1.55" fill="#f2d22a"/>
<circle cx="364.45" cy="153.06" r="1.55" fill="#3f7dbd"/>
<circle cx="338.48" cy="152.73" r="1.55" fill="#27277a"/>
<circle cx="357.17" cy="152.11" r="1.55" fill="#3f7dbd"/>
<circle cx="330.53" cy="152.32" r="1.55" fill="#3f7dbd"/>
<circle cx="349.48" cy="155.56" r="1.55" fill="#f2d22a"/>
<circle cx="352.32" cy="157.28" r="1.55" fill="#cf4d4f"/>
<circle cx="341.44" cy="154.94" r="1.55" fill="#27277a"/>
<circle cx="339.88" cy="153.52" r="1.55" fill="#cf4d4f"/>
<circle cx="357.07" cy="154.88" r="1.55" fill="#f2d22a"/>
<circle cx="365.28" cy="157.59" r="1.55" fill="#cf4d4f"/>
<circle cx="333.36" cy="145.74" r="1.55" fill="#cf4d4f"/>
<circle cx="329.41" cy="153.61" r="1.55" fill="#f2d22a"/>
<circle cx="344.29" cy="156.53" r="1.55" fill="#f2d22a"/>
<circle cx="344.1" cy="155.31" r="1.55" fill="#27277a"/>
<circle cx="357.44" cy="155.68" r="1.55" fill="#cfcfcf"/>
<circle cx="368.28" cy="150.57" r="1.55" fill="#3f7dbd"/>
<circle cx="359.13" cy="154.37" r="1.55" fill="#3f7dbd"/>
<circle cx="385.59" cy="154.24" r="1.55" fill="#5fbf2a"/>
<circle cx="343.58" cy="157.04" r="1.55" fill="#cf4d4f"/>
<circle cx="334.92" cy="156.44" r="1.55" fill="#27277a"/>
<circle cx="355.94" cy="154.56" r="1.55" fill="#cf4d4f"/>
<circle cx="342.16" cy="154.41" r="1.55" fill="#cf4d4f"/>
<circle cx="347.71" cy="156.02" r="1.55" fill="#cf4d4f"/>
<circle cx="329.25" cy="156.76" r="1.55" fill="#f2d22a"/>
<circle cx="342.63" cy="156.79" r="1.55" fill="#3f7dbd"/>
<circle cx="370.75" cy="150.52" r="1.55" fill="#3f7dbd"/>
<circle cx="386.67" cy="152.77" r="1.55" fill="#5fbf2a"/>
<circle cx="350.84" cy="154.52" r="1.55" fill="#f2d22a"/>
<circle cx="347.16" cy="156.95" r="1.55" fill="#cf4d4f"/>
<circle cx="366.45" cy="154.4" r="1.55" fill="#f2d22a"/>
<circle cx="375.47" cy="156.33" r="1.55" fill="#cf4d4f"/>
<circle cx="355.27" cy="152.79" r="1.55" fill="#f2d22a"/>
<circle cx="330.44" cy="155.97" r="1.55" fill="#cf4d4f"/>
<circle cx="347.97" cy="153.64" r="1.55" fill="#cf4d4f"/>
<circle cx="347.49" cy="156.48" r="1.55" fill="#cf4d4f"/>
<circle cx="367.46" cy="153.23" r="1.55" fill="#cf4d4f"/>
<circle cx="392.21" cy="157.41" r="1.55" fill="#3f7dbd"/>
<circle cx="328.93" cy="155.05" r="1.55" fill="#3f7dbd"/>
<circle cx="335.79" cy="150.49" r="1.55" fill="#f2d22a"/>
<circle cx="333.33" cy="149.77" r="1.55" fill="#cf4d4f"/>
<circle cx="358.88" cy="153.59" r="1.55" fill="#3f7dbd"/>
<circle cx="335.26" cy="153.94" r="1.55" fill="#cfcfcf"/>
<circle cx="374.1" cy="152.2" r="1.55" fill="#5fbf2a"/>
<circle cx="347.18" cy="156.06" r="1.55" fill="#f2d22a"/>
<circle cx="336.64" cy="155.91" r="1.55" fill="#cf4d4f"/>
<circle cx="337.93" cy="156.63" r="1.55" fill="#cf4d4f"/>
<circle cx="362.88" cy="155.3" r="1.55" fill="#f2d22a"/>
<circle cx="345.72" cy="157.12" r="1.55" fill="#f2d22a"/>
<circle cx="329.61" cy="147.67" r="1.55" fill="#5fbf2a"/>
<circle cx="362.54" cy="151.13" r="1.55" fill="#cf4d4f"/>
<circle cx="330.12" cy="154.02" r="1.55" fill="#f2d22a"/>
<circle cx="330.4" cy="148.14" r="1.55" fill="#f2d22a"/>
<circle cx="372.52" cy="148.92" r="1.55" fill="#cf4d4f"/>
<circle cx="342.2" cy="137.2" r="1.55" fill="#5fbf2a"/>
<circle cx="351.2" cy="136.9" r="1.55" fill="#5fbf2a"/>
<circle cx="352" cy="139.1" r="1.55" fill="#cf4d4f"/>
<circle cx="351.8" cy="142" r="1.55" fill="#5fbf2a"/>
<circle cx="358.2" cy="136.5" r="1.55" fill="#27277a"/>
<circle cx="361.1" cy="135.3" r="1.55" fill="#cf4d4f"/>
<circle cx="361.8" cy="138.2" r="1.55" fill="#f2d22a"/>
<circle cx="371.2" cy="137.7" r="1.55" fill="#f2d22a"/>
<circle cx="330.4" cy="140.1" r="1.55" fill="#3f7dbd"/>
<circle cx="370.7" cy="142.5" r="1.55" fill="#cf4d4f"/>
<circle cx="361.8" cy="143.5" r="1.55" fill="#5fbf2a"/>
<circle cx="376.9" cy="137.1" r="1.55" fill="#cf4d4f"/>
<circle cx="388.2" cy="138.6" r="1.55" fill="#27277a"/>
<circle cx="371.2" cy="142.9" r="1.55" fill="#cf4d4f"/>
<circle cx="381.3" cy="143.2" r="1.55" fill="#27277a"/>
<circle cx="416.2" cy="144" r="1.55" fill="#f2d22a"/>
<circle cx="385.2" cy="147.2" r="1.55" fill="#3f7dbd"/>
<circle cx="399.1" cy="146.7" r="1.55" fill="#27277a"/>
<circle cx="394.5" cy="149.2" r="1.55" fill="#5fbf2a"/>
<circle cx="377.2" cy="150.4" r="1.55" fill="#3f7dbd"/>
<circle cx="399.4" cy="153.3" r="1.55" fill="#cf4d4f"/>
<circle cx="405.5" cy="153.3" r="1.55" fill="#cf4d4f"/>
<circle cx="394.8" cy="156.7" r="1.55" fill="#f2d22a"/>
<circle cx="390.8" cy="157.9" r="1.55" fill="#cf4d4f"/>
<circle cx="401.2" cy="157.9" r="1.55" fill="#f2d22a"/>
<circle cx="403.7" cy="157.9" r="1.55" fill="#f2d22a"/>
<circle cx="413.8" cy="157.9" r="1.55" fill="#cf4d4f"/>
<circle cx="418.2" cy="157.9" r="1.55" fill="#f2d22a"/>
<circle cx="328.9" cy="149.2" r="1.55" fill="#cf4d4f"/>
<circle cx="331.3" cy="151.2" r="1.55" fill="#3f7dbd"/>
<circle cx="335.1" cy="148.8" r="1.55" fill="#cf4d4f"/>
<circle cx="338" cy="149.2" r="1.55" fill="#cf4d4f"/>
<circle cx="335.6" cy="145.9" r="1.55" fill="#27277a"/>
<circle cx="343.3" cy="149.2" r="1.55" fill="#3f7dbd"/>
<circle cx="347.6" cy="148.3" r="1.55" fill="#5fbf2a"/>
<circle cx="350" cy="149.7" r="1.55" fill="#3f7dbd"/>
<circle cx="356.3" cy="148.8" r="1.55" fill="#5fbf2a"/>
<circle cx="359.7" cy="146.8" r="1.55" fill="#27277a"/>
<circle cx="362" cy="147.3" r="1.55" fill="#3f7dbd"/>
<circle cx="362.5" cy="149.7" r="1.55" fill="#3f7dbd"/>
<circle cx="367.3" cy="146.3" r="1.55" fill="#cf4d4f"/>
<circle cx="370.2" cy="149.2" r="1.55" fill="#5fbf2a"/>
<circle cx="373.1" cy="148.8" r="1.55" fill="#cf4d4f"/>
<circle cx="333.7" cy="153.1" r="1.55" fill="#cf4d4f"/>
<circle cx="339.5" cy="152.1" r="1.55" fill="#cf4d4f"/>
<circle cx="473.6" cy="155.5" r="1.55" fill="#3f7dbd"/>
<circle cx="488.2" cy="155.5" r="1.55" fill="#3f7dbd"/>
<line x1="328.9" y1="17" x2="328.9" y2="164.2" stroke="#383838" stroke-width="1.25" stroke-dasharray="1.6,1.7"/>
<line x1="296.6" y1="143.8" x2="496" y2="143.8" stroke="#383838" stroke-width="1.25" stroke-dasharray="1.6,1.7"/>
<line x1="381.9" y1="95.4" x2="390.8" y2="98.5" stroke="#4f84c0" stroke-width="0.6"/>
<line x1="364.2" y1="107.5" x2="356.5" y2="101.5" stroke="#d25e60" stroke-width="0.6"/>
<line x1="381.2" y1="108.5" x2="375" y2="103.2" stroke="#303088" stroke-width="0.6"/>
<line x1="359.2" y1="123.1" x2="354.5" y2="119.7" stroke="#d25e60" stroke-width="0.6"/>
<line x1="370.4" y1="123.5" x2="393.5" y2="120.8" stroke="#d25e60" stroke-width="0.6"/>
<line x1="356.8" y1="125.8" x2="353.3" y2="128.7" stroke="#d25e60" stroke-width="0.6"/>
<line x1="386.7" y1="129.6" x2="391.5" y2="134.5" stroke="#e6c43a" stroke-width="0.6"/>
<circle cx="355.4" cy="23.5" r="1.6" fill="#3f7dbd"/>
<circle cx="346.3" cy="58.1" r="1.6" fill="#5fbf2a"/>
<circle cx="345.4" cy="81.5" r="1.6" fill="#5fbf2a"/>
<circle cx="345" cy="81.8" r="1.6" fill="#5fbf2a"/>
<circle cx="372.3" cy="88.1" r="1.6" fill="#cf4d4f"/>
<circle cx="381.9" cy="95.4" r="1.6" fill="#3f7dbd"/>
<circle cx="364.2" cy="107.5" r="1.6" fill="#cf4d4f"/>
<circle cx="381.2" cy="108.5" r="1.6" fill="#27277a"/>
<circle cx="379.6" cy="108.3" r="1.6" fill="#27277a"/>
<circle cx="361.9" cy="111.2" r="1.6" fill="#cf4d4f"/>
<circle cx="376.9" cy="110.8" r="1.6" fill="#cf4d4f"/>
<circle cx="359.2" cy="123.1" r="1.6" fill="#cf4d4f"/>
<circle cx="370.4" cy="123.5" r="1.6" fill="#cf4d4f"/>
<circle cx="350.8" cy="125.8" r="1.6" fill="#cf4d4f"/>
<circle cx="361.3" cy="124.2" r="1.6" fill="#3f7dbd"/>
<circle cx="398.8" cy="129.2" r="1.6" fill="#27277a"/>
<circle cx="356.8" cy="125.8" r="1.6" fill="#cf4d4f"/>
<circle cx="386.7" cy="129.6" r="1.6" fill="#f2d22a"/>
<circle cx="330.4" cy="140.1" r="1.6" fill="#3f7dbd"/>
<text x="349.8" y="29.6" font-size="4.75" fill="#4f84c0" text-anchor="middle" stroke="#4f84c0" stroke-width="0.06">PF00076.N3</text>
<text x="352.4" y="55.5" font-size="4.75" fill="#6cc23a" text-anchor="middle" stroke="#6cc23a" stroke-width="0.06">PF00025.S1</text>
<text x="337.2" y="78.4" font-size="4.75" fill="#6cc23a" text-anchor="middle" stroke="#6cc23a" stroke-width="0.06">PF00071.S1</text>
<text x="361.9" y="85.4" font-size="4.75" fill="#6cc23a" text-anchor="middle" stroke="#6cc23a" stroke-width="0.06">PF08477.S1</text>
<text x="377.7" y="93.6" font-size="4.75" fill="#d25e60" text-anchor="middle" stroke="#d25e60" stroke-width="0.06">PF00118.C2</text>
<text x="403.6" y="100.9" font-size="4.75" fill="#4f84c0" text-anchor="middle" stroke="#4f84c0" stroke-width="0.06">PF00191.N3</text>
<text x="343.1" y="102.3" font-size="4.75" fill="#d25e60" text-anchor="middle" stroke="#d25e60" stroke-width="0.06">PF01399.C2</text>
<text x="373.3" y="102.5" font-size="4.75" fill="#303088" text-anchor="middle" stroke="#303088" stroke-width="0.06">PF00091.R1</text>
<text x="397.2" y="110.2" font-size="4.75" fill="#303088" text-anchor="middle" stroke="#303088" stroke-width="0.06">PF03953.R1</text>
<text x="346" y="110.5" font-size="4.75" fill="#d25e60" text-anchor="middle" stroke="#d25e60" stroke-width="0.06">PF00227.C2</text>
<text x="376.2" y="117.5" font-size="4.75" fill="#d25e60" text-anchor="middle" stroke="#d25e60" stroke-width="0.06">PF16450.C2</text>
<text x="346" y="118.8" font-size="4.75" fill="#d25e60" text-anchor="middle" stroke="#d25e60" stroke-width="0.06">PF17862.C2</text>
<text x="406.4" y="122.5" font-size="4.75" fill="#d25e60" text-anchor="middle" stroke="#d25e60" stroke-width="0.06">PF10584.C2</text>
<text x="334" y="126.3" font-size="4.75" fill="#d25e60" text-anchor="middle" stroke="#d25e60" stroke-width="0.06">PF00004.C2</text>
<text x="375.9" y="129.2" font-size="4.75" fill="#4f84c0" text-anchor="middle" stroke="#4f84c0" stroke-width="0.06">PF16367.N3</text>
<text x="414.5" y="128.8" font-size="4.75" fill="#303088" text-anchor="middle" stroke="#303088" stroke-width="0.06">PF00428.R1</text>
<text x="345.2" y="133.2" font-size="4.75" fill="#d25e60" text-anchor="middle" stroke="#d25e60" stroke-width="0.06">PF07728.C2</text>
<text x="404.7" y="137.5" font-size="4.75" fill="#e6c43a" text-anchor="middle" stroke="#e6c43a" stroke-width="0.06">PF02466.M2</text>
<text x="325" y="146.3" font-size="4.75" fill="#4f84c0" text-anchor="middle" stroke="#4f84c0" stroke-width="0.06">PF20076.N2</text>
<circle cx="452" cy="29.1" r="2.1" fill="#5fbf2a"/>
<text x="461.7" y="31.9" font-size="6.6" fill="#222" stroke="#222" stroke-width="0.18">Secretory</text>
<circle cx="452" cy="41.85" r="2.1" fill="#f2d22a"/>
<text x="461.7" y="44.65" font-size="6.6" fill="#222" stroke="#222" stroke-width="0.18">Mitochondria</text>
<circle cx="452" cy="54.6" r="2.1" fill="#3f7dbd"/>
<text x="461.7" y="57.4" font-size="6.6" fill="#222" stroke="#222" stroke-width="0.18">Nucleus</text>
<circle cx="452" cy="67.35" r="2.1" fill="#cf4d4f"/>
<text x="461.7" y="70.15" font-size="6.6" fill="#222" stroke="#222" stroke-width="0.18">Cytosol</text>
<circle cx="452" cy="80.1" r="2.1" fill="#27277a"/>
<text x="461.7" y="82.9" font-size="6.6" fill="#222" stroke="#222" stroke-width="0.18">Ribosome</text>
<circle cx="452" cy="92.85" r="2.1" fill="#cfcfcf"/>
<text x="461.7" y="95.65" font-size="6.6" fill="#222" stroke="#222" stroke-width="0.18">unclassified</text>
<text x="0" y="190.1" font-size="12.1" fill="#000" stroke="#000" stroke-width="0.2">C</text>
<line x1="30.5" y1="174.5" x2="30.5" y2="282.2" stroke="#555" stroke-width="0.6"/>
<line x1="27.8" y1="281.6" x2="30.5" y2="281.6" stroke="#555" stroke-width="0.5"/>
<text x="27" y="282.7" font-size="3" fill="#555" text-anchor="end" stroke="#555" stroke-width="0.1">0</text>
<line x1="27.8" y1="257.2" x2="30.5" y2="257.2" stroke="#555" stroke-width="0.5"/>
<text x="27" y="258.3" font-size="3" fill="#555" text-anchor="end" stroke="#555" stroke-width="0.1">20</text>
<line x1="27.8" y1="232.8" x2="30.5" y2="232.8" stroke="#555" stroke-width="0.5"/>
<text x="27" y="233.9" font-size="3" fill="#555" text-anchor="end" stroke="#555" stroke-width="0.1">40</text>
<line x1="27.8" y1="208.4" x2="30.5" y2="208.4" stroke="#555" stroke-width="0.5"/>
<text x="27" y="209.5" font-size="3" fill="#555" text-anchor="end" stroke="#555" stroke-width="0.1">60</text>
<line x1="27.8" y1="184" x2="30.5" y2="184" stroke="#555" stroke-width="0.5"/>
<text x="27" y="185.1" font-size="3" fill="#555" text-anchor="end" stroke="#555" stroke-width="0.1">80</text>
<text x="18" y="235.3" font-size="7.3" fill="#111" text-anchor="middle" transform="rotate(-90 18 235.3)" stroke="#111" stroke-width="0.25">Intersection size</text>
<rect x="37.2" y="196.2" width="5.6" height="86" fill="#2e2e2e"/>
<rect x="46.88" y="229.14" width="5.6" height="53.06" fill="#2e2e2e"/>
<text x="49.68" y="226.94" font-size="3.6" fill="#333" text-anchor="middle" stroke="#333" stroke-width="0.1">43</text>
<rect x="56.57" y="253.54" width="5.6" height="28.66" fill="#2e2e2e"/>
<text x="59.37" y="251.34" font-size="3.6" fill="#333" text-anchor="middle" stroke="#333" stroke-width="0.1">23</text>
<rect x="66.25" y="257.2" width="5.6" height="25" fill="#2e2e2e"/>
<text x="69.05" y="255" font-size="3.6" fill="#333" text-anchor="middle" stroke="#333" stroke-width="0.1">20</text>
<rect x="75.93" y="257.2" width="5.6" height="25" fill="#2e2e2e"/>
<text x="78.73" y="255" font-size="3.6" fill="#333" text-anchor="middle" stroke="#333" stroke-width="0.1">20</text>
<rect x="85.62" y="259.64" width="5.6" height="22.56" fill="#2e2e2e"/>
<text x="88.42" y="257.44" font-size="3.6" fill="#333" text-anchor="middle" stroke="#333" stroke-width="0.1">18</text>
<rect x="95.3" y="260.86" width="5.6" height="21.34" fill="#2e2e2e"/>
<text x="98.1" y="258.66" font-size="3.6" fill="#333" text-anchor="middle" stroke="#333" stroke-width="0.1">17</text>
<rect x="104.98" y="263.3" width="5.6" height="18.9" fill="#2e2e2e"/>
<text x="107.78" y="261.1" font-size="3.6" fill="#333" text-anchor="middle" stroke="#333" stroke-width="0.1">15</text>
<rect x="114.66" y="263.3" width="5.6" height="18.9" fill="#2e2e2e"/>
<text x="117.46" y="261.1" font-size="3.6" fill="#333" text-anchor="middle" stroke="#333" stroke-width="0.1">15</text>
<rect x="124.35" y="264.52" width="5.6" height="17.68" fill="#2e2e2e"/>
<text x="127.15" y="262.32" font-size="3.6" fill="#333" text-anchor="middle" stroke="#333" stroke-width="0.1">14</text>
<rect x="134.03" y="269.4" width="5.6" height="12.8" fill="#2e2e2e"/>
<text x="136.83" y="267.2" font-size="3.6" fill="#333" text-anchor="middle" stroke="#333" stroke-width="0.1">10</text>
<rect x="143.71" y="269.4" width="5.6" height="12.8" fill="#2e2e2e"/>
<text x="146.51" y="267.2" font-size="3.6" fill="#333" text-anchor="middle" stroke="#333" stroke-width="0.1">10</text>
<rect x="153.4" y="269.4" width="5.6" height="12.8" fill="#2e2e2e"/>
<text x="156.2" y="267.2" font-size="3.6" fill="#333" text-anchor="middle" stroke="#333" stroke-width="0.1">10</text>
<rect x="163.08" y="270.62" width="5.6" height="11.58" fill="#2e2e2e"/>
<text x="165.88" y="268.42" font-size="3.6" fill="#333" text-anchor="middle" stroke="#333" stroke-width="0.1">9</text>
<rect x="172.76" y="273.06" width="5.6" height="9.14" fill="#2e2e2e"/>
<text x="175.56" y="270.86" font-size="3.6" fill="#333" text-anchor="middle" stroke="#333" stroke-width="0.1">7</text>
<rect x="182.44" y="273.06" width="5.6" height="9.14" fill="#2e2e2e"/>
<text x="185.25" y="270.86" font-size="3.6" fill="#333" text-anchor="middle" stroke="#333" stroke-width="0.1">7</text>
<rect x="192.13" y="273.06" width="5.6" height="9.14" fill="#2e2e2e"/>
<text x="194.93" y="270.86" font-size="3.6" fill="#333" text-anchor="middle" stroke="#333" stroke-width="0.1">7</text>
<rect x="201.81" y="273.06" width="5.6" height="9.14" fill="#2e2e2e"/>
<text x="204.61" y="270.86" font-size="3.6" fill="#333" text-anchor="middle" stroke="#333" stroke-width="0.1">7</text>
<rect x="211.49" y="273.06" width="5.6" height="9.14" fill="#2e2e2e"/>
<text x="214.29" y="270.86" font-size="3.6" fill="#333" text-anchor="middle" stroke="#333" stroke-width="0.1">7</text>
<rect x="221.18" y="274.28" width="5.6" height="7.92" fill="#2e2e2e"/>
<text x="223.98" y="272.08" font-size="3.6" fill="#333" text-anchor="middle" stroke="#333" stroke-width="0.1">6</text>
<rect x="230.86" y="274.28" width="5.6" height="7.92" fill="#2e2e2e"/>
<text x="233.66" y="272.08" font-size="3.6" fill="#333" text-anchor="middle" stroke="#333" stroke-width="0.1">6</text>
<rect x="240.54" y="275.5" width="5.6" height="6.7" fill="#2e2e2e"/>
<text x="243.34" y="273.3" font-size="3.6" fill="#333" text-anchor="middle" stroke="#333" stroke-width="0.1">5</text>
<rect x="250.23" y="276.72" width="5.6" height="5.48" fill="#2e2e2e"/>
<text x="253.03" y="274.52" font-size="3.6" fill="#333" text-anchor="middle" stroke="#333" stroke-width="0.1">4</text>
<rect x="259.91" y="276.72" width="5.6" height="5.48" fill="#2e2e2e"/>
<text x="262.71" y="274.52" font-size="3.6" fill="#333" text-anchor="middle" stroke="#333" stroke-width="0.1">4</text>
<rect x="269.59" y="276.72" width="5.6" height="5.48" fill="#2e2e2e"/>
<text x="272.39" y="274.52" font-size="3.6" fill="#333" text-anchor="middle" stroke="#333" stroke-width="0.1">4</text>
<rect x="279.27" y="276.72" width="5.6" height="5.48" fill="#2e2e2e"/>
<text x="282.07" y="274.52" font-size="3.6" fill="#333" text-anchor="middle" stroke="#333" stroke-width="0.1">4</text>
<rect x="288.96" y="276.72" width="5.6" height="5.48" fill="#2e2e2e"/>
<text x="291.76" y="274.52" font-size="3.6" fill="#333" text-anchor="middle" stroke="#333" stroke-width="0.1">4</text>
<rect x="298.64" y="276.72" width="5.6" height="5.48" fill="#2e2e2e"/>
<text x="301.44" y="274.52" font-size="3.6" fill="#333" text-anchor="middle" stroke="#333" stroke-width="0.1">4</text>
<rect x="308.32" y="277.94" width="5.6" height="4.26" fill="#2e2e2e"/>
<text x="311.12" y="275.74" font-size="3.6" fill="#333" text-anchor="middle" stroke="#333" stroke-width="0.1">3</text>
<rect x="318.01" y="277.94" width="5.6" height="4.26" fill="#2e2e2e"/>
<text x="320.81" y="275.74" font-size="3.6" fill="#333" text-anchor="middle" stroke="#333" stroke-width="0.1">3</text>
<line x1="30.5" y1="282.2" x2="329" y2="282.2" stroke="#333" stroke-width="0.8"/>
<rect x="33.5" y="284" width="294" height="3.4" fill="#f4f4f4"/>
<rect x="33.5" y="292.1" width="294" height="3.4" fill="#f4f4f4"/>
<rect x="33.5" y="300.2" width="294" height="3.4" fill="#f4f4f4"/>
<rect x="33.5" y="308.3" width="294" height="3.4" fill="#f4f4f4"/>
<rect x="33.5" y="316.4" width="294" height="3.4" fill="#f4f4f4"/>
<rect x="33.5" y="324.5" width="294" height="3.4" fill="#f4f4f4"/>
<rect x="33.5" y="332.6" width="294" height="3.4" fill="#f4f4f4"/>
<rect x="33.5" y="340.7" width="294" height="3.4" fill="#f4f4f4"/>
<rect x="33.5" y="348.8" width="294" height="3.4" fill="#f4f4f4"/>
<rect x="33.5" y="356.9" width="294" height="3.4" fill="#f4f4f4"/>
<rect x="33.5" y="365" width="294" height="3.4" fill="#f4f4f4"/>
<rect x="33.5" y="373.1" width="294" height="3.4" fill="#f4f4f4"/>
<rect x="33.5" y="381.2" width="294" height="3.4" fill="#f4f4f4"/>
<rect x="33.5" y="389.3" width="294" height="3.4" fill="#f4f4f4"/>
<rect x="33.5" y="397.4" width="294" height="3.4" fill="#f4f4f4"/>
<rect x="33.5" y="405.5" width="294" height="3.4" fill="#f4f4f4"/>
<rect x="33.5" y="413.6" width="294" height="3.4" fill="#f4f4f4"/>
<rect x="33.5" y="421.7" width="294" height="3.4" fill="#f4f4f4"/>
<text x="26" y="287.05" font-size="4.3" fill="#dc7478" text-anchor="end" stroke="none">PF16640</text>
<line x1="27" y1="285.7" x2="28.3" y2="285.7" stroke="#333" stroke-width="0.7"/>
<circle cx="39.7" cy="285.7" r="0.7" fill="#d0d0d0"/>
<circle cx="49.42" cy="285.7" r="0.7" fill="#d0d0d0"/>
<circle cx="59.13" cy="285.7" r="0.7" fill="#d0d0d0"/>
<circle cx="68.84" cy="285.7" r="0.7" fill="#d0d0d0"/>
<circle cx="78.56" cy="285.7" r="0.7" fill="#d0d0d0"/>
<circle cx="88.28" cy="285.7" r="0.7" fill="#d0d0d0"/>
<circle cx="97.99" cy="285.7" r="0.7" fill="#d0d0d0"/>
<circle cx="107.7" cy="285.7" r="0.7" fill="#d0d0d0"/>
<circle cx="117.42" cy="285.7" r="0.7" fill="#d0d0d0"/>
<circle cx="127.14" cy="285.7" r="0.7" fill="#d0d0d0"/>
<circle cx="136.85" cy="285.7" r="0.7" fill="#d0d0d0"/>
<circle cx="146.56" cy="285.7" r="0.7" fill="#d0d0d0"/>
<circle cx="156.28" cy="285.7" r="0.7" fill="#d0d0d0"/>
<circle cx="166" cy="285.7" r="0.7" fill="#d0d0d0"/>
<circle cx="175.71" cy="285.7" r="0.7" fill="#d0d0d0"/>
<circle cx="185.43" cy="285.7" r="0.7" fill="#d0d0d0"/>
<circle cx="195.14" cy="285.7" r="0.7" fill="#d0d0d0"/>
<circle cx="204.86" cy="285.7" r="0.7" fill="#d0d0d0"/>
<circle cx="214.57" cy="285.7" r="0.7" fill="#d0d0d0"/>
<circle cx="224.29" cy="285.7" r="0.7" fill="#d0d0d0"/>
<circle cx="234" cy="285.7" r="0.7" fill="#d0d0d0"/>
<circle cx="243.71" cy="285.7" r="0.7" fill="#d0d0d0"/>
<circle cx="253.43" cy="285.7" r="0.7" fill="#d0d0d0"/>
<circle cx="263.14" cy="285.7" r="0.7" fill="#d0d0d0"/>
<circle cx="272.86" cy="285.7" r="0.7" fill="#d0d0d0"/>
<circle cx="282.57" cy="285.7" r="0.7" fill="#d0d0d0"/>
<circle cx="292.29" cy="285.7" r="0.7" fill="#d0d0d0"/>
<circle cx="302" cy="285.7" r="0.7" fill="#d0d0d0"/>
<circle cx="311.72" cy="285.7" r="0.7" fill="#d0d0d0"/>
<circle cx="321.44" cy="285.7" r="0.7" fill="#d0d0d0"/>
<text x="26" y="291.1" font-size="4.3" fill="#dc7478" text-anchor="end" stroke="none">PF15075</text>
<line x1="27" y1="289.75" x2="28.3" y2="289.75" stroke="#333" stroke-width="0.7"/>
<circle cx="39.7" cy="289.75" r="0.7" fill="#d0d0d0"/>
<circle cx="49.42" cy="289.75" r="0.7" fill="#d0d0d0"/>
<circle cx="59.13" cy="289.75" r="0.7" fill="#d0d0d0"/>
<circle cx="68.84" cy="289.75" r="0.7" fill="#d0d0d0"/>
<circle cx="78.56" cy="289.75" r="0.7" fill="#d0d0d0"/>
<circle cx="88.28" cy="289.75" r="0.7" fill="#d0d0d0"/>
<circle cx="97.99" cy="289.75" r="0.7" fill="#d0d0d0"/>
<circle cx="107.7" cy="289.75" r="0.7" fill="#d0d0d0"/>
<circle cx="117.42" cy="289.75" r="0.7" fill="#d0d0d0"/>
<circle cx="127.14" cy="289.75" r="0.7" fill="#d0d0d0"/>
<circle cx="136.85" cy="289.75" r="0.7" fill="#d0d0d0"/>
<circle cx="146.56" cy="289.75" r="0.7" fill="#d0d0d0"/>
<circle cx="156.28" cy="289.75" r="0.7" fill="#d0d0d0"/>
<circle cx="166" cy="289.75" r="0.7" fill="#d0d0d0"/>
<circle cx="175.71" cy="289.75" r="0.7" fill="#d0d0d0"/>
<circle cx="185.43" cy="289.75" r="0.7" fill="#d0d0d0"/>
<circle cx="195.14" cy="289.75" r="0.7" fill="#d0d0d0"/>
<circle cx="204.86" cy="289.75" r="0.7" fill="#d0d0d0"/>
<circle cx="214.57" cy="289.75" r="0.7" fill="#d0d0d0"/>
<circle cx="224.29" cy="289.75" r="0.7" fill="#d0d0d0"/>
<circle cx="234" cy="289.75" r="0.7" fill="#d0d0d0"/>
<circle cx="243.71" cy="289.75" r="0.7" fill="#d0d0d0"/>
<circle cx="253.43" cy="289.75" r="0.7" fill="#d0d0d0"/>
<circle cx="263.14" cy="289.75" r="0.7" fill="#d0d0d0"/>
<circle cx="272.86" cy="289.75" r="0.7" fill="#d0d0d0"/>
<circle cx="282.57" cy="289.75" r="0.7" fill="#d0d0d0"/>
<circle cx="292.29" cy="289.75" r="0.7" fill="#d0d0d0"/>
<circle cx="302" cy="289.75" r="0.7" fill="#d0d0d0"/>
<circle cx="311.72" cy="289.75" r="0.7" fill="#d0d0d0"/>
<circle cx="321.44" cy="289.75" r="0.7" fill="#d0d0d0"/>
<text x="26" y="295.15" font-size="4.3" fill="#dc7478" text-anchor="end" stroke="none">PF18586</text>
<line x1="27" y1="293.8" x2="28.3" y2="293.8" stroke="#333" stroke-width="0.7"/>
<circle cx="39.7" cy="293.8" r="0.7" fill="#d0d0d0"/>
<circle cx="49.42" cy="293.8" r="0.7" fill="#d0d0d0"/>
<circle cx="59.13" cy="293.8" r="0.7" fill="#d0d0d0"/>
<circle cx="68.84" cy="293.8" r="0.7" fill="#d0d0d0"/>
<circle cx="78.56" cy="293.8" r="0.7" fill="#d0d0d0"/>
<circle cx="88.28" cy="293.8" r="0.7" fill="#d0d0d0"/>
<circle cx="97.99" cy="293.8" r="0.7" fill="#d0d0d0"/>
<circle cx="107.7" cy="293.8" r="0.7" fill="#d0d0d0"/>
<circle cx="117.42" cy="293.8" r="0.7" fill="#d0d0d0"/>
<circle cx="127.14" cy="293.8" r="0.7" fill="#d0d0d0"/>
<circle cx="136.85" cy="293.8" r="0.7" fill="#d0d0d0"/>
<circle cx="146.56" cy="293.8" r="0.7" fill="#d0d0d0"/>
<circle cx="156.28" cy="293.8" r="0.7" fill="#d0d0d0"/>
<circle cx="166" cy="293.8" r="0.7" fill="#d0d0d0"/>
<circle cx="175.71" cy="293.8" r="0.7" fill="#d0d0d0"/>
<circle cx="185.43" cy="293.8" r="0.7" fill="#d0d0d0"/>
<circle cx="195.14" cy="293.8" r="0.7" fill="#d0d0d0"/>
<circle cx="204.86" cy="293.8" r="0.7" fill="#d0d0d0"/>
<circle cx="214.57" cy="293.8" r="0.7" fill="#d0d0d0"/>
<circle cx="224.29" cy="293.8" r="0.7" fill="#d0d0d0"/>
<circle cx="234" cy="293.8" r="0.7" fill="#d0d0d0"/>
<circle cx="243.71" cy="293.8" r="0.7" fill="#d0d0d0"/>
<circle cx="253.43" cy="293.8" r="0.7" fill="#d0d0d0"/>
<circle cx="263.14" cy="293.8" r="0.7" fill="#d0d0d0"/>
<circle cx="272.86" cy="293.8" r="0.7" fill="#d0d0d0"/>
<circle cx="282.57" cy="293.8" r="0.7" fill="#d0d0d0"/>
<circle cx="292.29" cy="293.8" r="0.7" fill="#d0d0d0"/>
<circle cx="302" cy="293.8" r="0.7" fill="#d0d0d0"/>
<circle cx="311.72" cy="293.8" r="0.7" fill="#d0d0d0"/>
<circle cx="321.44" cy="293.8" r="0.7" fill="#d0d0d0"/>
<text x="26" y="299.2" font-size="4.3" fill="#4646a0" text-anchor="end" stroke="none">PF00428</text>
<line x1="27" y1="297.85" x2="28.3" y2="297.85" stroke="#333" stroke-width="0.7"/>
<circle cx="39.7" cy="297.85" r="0.7" fill="#d0d0d0"/>
<circle cx="49.42" cy="297.85" r="0.7" fill="#d0d0d0"/>
<circle cx="59.13" cy="297.85" r="0.7" fill="#d0d0d0"/>
<circle cx="68.84" cy="297.85" r="0.7" fill="#d0d0d0"/>
<circle cx="78.56" cy="297.85" r="0.7" fill="#d0d0d0"/>
<circle cx="88.28" cy="297.85" r="0.7" fill="#d0d0d0"/>
<circle cx="97.99" cy="297.85" r="0.7" fill="#d0d0d0"/>
<circle cx="107.7" cy="297.85" r="0.7" fill="#d0d0d0"/>
<circle cx="117.42" cy="297.85" r="0.7" fill="#d0d0d0"/>
<circle cx="127.14" cy="297.85" r="0.7" fill="#d0d0d0"/>
<circle cx="136.85" cy="297.85" r="0.7" fill="#d0d0d0"/>
<circle cx="146.56" cy="297.85" r="0.7" fill="#d0d0d0"/>
<circle cx="156.28" cy="297.85" r="0.7" fill="#d0d0d0"/>
<circle cx="166" cy="297.85" r="0.7" fill="#d0d0d0"/>
<circle cx="175.71" cy="297.85" r="0.7" fill="#d0d0d0"/>
<circle cx="185.43" cy="297.85" r="0.7" fill="#d0d0d0"/>
<circle cx="195.14" cy="297.85" r="0.7" fill="#d0d0d0"/>
<circle cx="204.86" cy="297.85" r="0.7" fill="#d0d0d0"/>
<circle cx="214.57" cy="297.85" r="0.7" fill="#d0d0d0"/>
<circle cx="224.29" cy="297.85" r="0.7" fill="#d0d0d0"/>
<circle cx="234" cy="297.85" r="0.7" fill="#d0d0d0"/>
<circle cx="243.71" cy="297.85" r="0.7" fill="#d0d0d0"/>
<circle cx="253.43" cy="297.85" r="0.7" fill="#d0d0d0"/>
<circle cx="263.14" cy="297.85" r="0.7" fill="#d0d0d0"/>
<circle cx="272.86" cy="297.85" r="0.7" fill="#d0d0d0"/>
<circle cx="282.57" cy="297.85" r="0.7" fill="#d0d0d0"/>
<circle cx="292.29" cy="297.85" r="0.7" fill="#d0d0d0"/>
<circle cx="302" cy="297.85" r="0.7" fill="#d0d0d0"/>
<circle cx="311.72" cy="297.85" r="0.7" fill="#d0d0d0"/>
<circle cx="321.44" cy="297.85" r="0.7" fill="#d0d0d0"/>
<text x="26" y="303.25" font-size="4.3" fill="#dc7478" text-anchor="end" stroke="none">PF13115</text>
<line x1="27" y1="301.9" x2="28.3" y2="301.9" stroke="#333" stroke-width="0.7"/>
<circle cx="39.7" cy="301.9" r="0.7" fill="#d0d0d0"/>
<circle cx="49.42" cy="301.9" r="0.7" fill="#d0d0d0"/>
<circle cx="59.13" cy="301.9" r="0.7" fill="#d0d0d0"/>
<circle cx="68.84" cy="301.9" r="0.7" fill="#d0d0d0"/>
<circle cx="78.56" cy="301.9" r="0.7" fill="#d0d0d0"/>
<circle cx="88.28" cy="301.9" r="0.7" fill="#d0d0d0"/>
<circle cx="97.99" cy="301.9" r="0.7" fill="#d0d0d0"/>
<circle cx="107.7" cy="301.9" r="0.7" fill="#d0d0d0"/>
<circle cx="117.42" cy="301.9" r="0.7" fill="#d0d0d0"/>
<circle cx="127.14" cy="301.9" r="0.7" fill="#d0d0d0"/>
<circle cx="136.85" cy="301.9" r="0.7" fill="#d0d0d0"/>
<circle cx="146.56" cy="301.9" r="0.7" fill="#d0d0d0"/>
<circle cx="156.28" cy="301.9" r="0.7" fill="#d0d0d0"/>
<circle cx="166" cy="301.9" r="0.7" fill="#d0d0d0"/>
<circle cx="175.71" cy="301.9" r="0.7" fill="#d0d0d0"/>
<circle cx="185.43" cy="301.9" r="0.7" fill="#d0d0d0"/>
<circle cx="195.14" cy="301.9" r="0.7" fill="#d0d0d0"/>
<circle cx="204.86" cy="301.9" r="0.7" fill="#d0d0d0"/>
<circle cx="214.57" cy="301.9" r="0.7" fill="#d0d0d0"/>
<circle cx="224.29" cy="301.9" r="0.7" fill="#d0d0d0"/>
<circle cx="234" cy="301.9" r="0.7" fill="#d0d0d0"/>
<circle cx="243.71" cy="301.9" r="0.7" fill="#d0d0d0"/>
<circle cx="253.43" cy="301.9" r="0.7" fill="#d0d0d0"/>
<circle cx="263.14" cy="301.9" r="0.7" fill="#d0d0d0"/>
<circle cx="272.86" cy="301.9" r="0.7" fill="#d0d0d0"/>
<circle cx="282.57" cy="301.9" r="0.7" fill="#d0d0d0"/>
<circle cx="292.29" cy="301.9" r="0.7" fill="#d0d0d0"/>
<circle cx="302" cy="301.9" r="0.7" fill="#d0d0d0"/>
<circle cx="311.72" cy="301.9" r="0.7" fill="#d0d0d0"/>
<circle cx="321.44" cy="301.9" r="0.7" fill="#d0d0d0"/>
<text x="26" y="307.3" font-size="4.3" fill="#eccb3a" text-anchor="end" stroke="none">PF00126</text>
<line x1="27" y1="305.95" x2="28.3" y2="305.95" stroke="#333" stroke-width="0.7"/>
<circle cx="39.7" cy="305.95" r="0.7" fill="#d0d0d0"/>
<circle cx="49.42" cy="305.95" r="0.7" fill="#d0d0d0"/>
<circle cx="59.13" cy="305.95" r="0.7" fill="#d0d0d0"/>
<circle cx="68.84" cy="305.95" r="0.7" fill="#d0d0d0"/>
<circle cx="78.56" cy="305.95" r="0.7" fill="#d0d0d0"/>
<circle cx="88.28" cy="305.95" r="0.7" fill="#d0d0d0"/>
<circle cx="97.99" cy="305.95" r="0.7" fill="#d0d0d0"/>
<circle cx="107.7" cy="305.95" r="0.7" fill="#d0d0d0"/>
<circle cx="117.42" cy="305.95" r="0.7" fill="#d0d0d0"/>
<circle cx="127.14" cy="305.95" r="0.7" fill="#d0d0d0"/>
<circle cx="136.85" cy="305.95" r="0.7" fill="#d0d0d0"/>
<circle cx="146.56" cy="305.95" r="0.7" fill="#d0d0d0"/>
<circle cx="156.28" cy="305.95" r="0.7" fill="#d0d0d0"/>
<circle cx="166" cy="305.95" r="0.7" fill="#d0d0d0"/>
<circle cx="175.71" cy="305.95" r="0.7" fill="#d0d0d0"/>
<circle cx="185.43" cy="305.95" r="0.7" fill="#d0d0d0"/>
<circle cx="195.14" cy="305.95" r="0.7" fill="#d0d0d0"/>
<circle cx="204.86" cy="305.95" r="0.7" fill="#d0d0d0"/>
<circle cx="214.57" cy="305.95" r="0.7" fill="#d0d0d0"/>
<circle cx="224.29" cy="305.95" r="0.7" fill="#d0d0d0"/>
<circle cx="234" cy="305.95" r="0.7" fill="#d0d0d0"/>
<circle cx="243.71" cy="305.95" r="0.7" fill="#d0d0d0"/>
<circle cx="253.43" cy="305.95" r="0.7" fill="#d0d0d0"/>
<circle cx="263.14" cy="305.95" r="0.7" fill="#d0d0d0"/>
<circle cx="272.86" cy="305.95" r="0.7" fill="#d0d0d0"/>
<circle cx="282.57" cy="305.95" r="0.7" fill="#d0d0d0"/>
<circle cx="292.29" cy="305.95" r="0.7" fill="#d0d0d0"/>
<circle cx="302" cy="305.95" r="0.7" fill="#d0d0d0"/>
<circle cx="311.72" cy="305.95" r="0.7" fill="#d0d0d0"/>
<circle cx="321.44" cy="305.95" r="0.7" fill="#d0d0d0"/>
<text x="26" y="311.35" font-size="4.3" fill="#dc7478" text-anchor="end" stroke="none">PF13012</text>
<line x1="27" y1="310" x2="28.3" y2="310" stroke="#333" stroke-width="0.7"/>
<circle cx="39.7" cy="310" r="0.7" fill="#d0d0d0"/>
<circle cx="49.42" cy="310" r="0.7" fill="#d0d0d0"/>
<circle cx="59.13" cy="310" r="0.7" fill="#d0d0d0"/>
<circle cx="68.84" cy="310" r="0.7" fill="#d0d0d0"/>
<circle cx="78.56" cy="310" r="0.7" fill="#d0d0d0"/>
<circle cx="88.28" cy="310" r="0.7" fill="#d0d0d0"/>
<circle cx="97.99" cy="310" r="0.7" fill="#d0d0d0"/>
<circle cx="107.7" cy="310" r="0.7" fill="#d0d0d0"/>
<circle cx="117.42" cy="310" r="0.7" fill="#d0d0d0"/>
<circle cx="127.14" cy="310" r="0.7" fill="#d0d0d0"/>
<circle cx="136.85" cy="310" r="0.7" fill="#d0d0d0"/>
<circle cx="146.56" cy="310" r="0.7" fill="#d0d0d0"/>
<circle cx="156.28" cy="310" r="0.7" fill="#d0d0d0"/>
<circle cx="166" cy="310" r="0.7" fill="#d0d0d0"/>
<circle cx="175.71" cy="310" r="0.7" fill="#d0d0d0"/>
<circle cx="185.43" cy="310" r="0.7" fill="#d0d0d0"/>
<circle cx="195.14" cy="310" r="0.7" fill="#d0d0d0"/>
<circle cx="204.86" cy="310" r="0.7" fill="#d0d0d0"/>
<circle cx="214.57" cy="310" r="0.7" fill="#d0d0d0"/>
<circle cx="224.29" cy="310" r="0.7" fill="#d0d0d0"/>
<circle cx="234" cy="310" r="0.7" fill="#d0d0d0"/>
<circle cx="243.71" cy="310" r="0.7" fill="#d0d0d0"/>
<circle cx="253.43" cy="310" r="0.7" fill="#d0d0d0"/>
<circle cx="263.14" cy="310" r="0.7" fill="#d0d0d0"/>
<circle cx="272.86" cy="310" r="0.7" fill="#d0d0d0"/>
<circle cx="282.57" cy="310" r="0.7" fill="#d0d0d0"/>
<circle cx="292.29" cy="310" r="0.7" fill="#d0d0d0"/>
<circle cx="302" cy="310" r="0.7" fill="#d0d0d0"/>
<circle cx="311.72" cy="310" r="0.7" fill="#d0d0d0"/>
<circle cx="321.44" cy="310" r="0.7" fill="#d0d0d0"/>
<text x="26" y="315.4" font-size="4.3" fill="#dc7478" text-anchor="end" stroke="none">PF16450</text>
<line x1="27" y1="314.05" x2="28.3" y2="314.05" stroke="#333" stroke-width="0.7"/>
<circle cx="39.7" cy="314.05" r="0.7" fill="#d0d0d0"/>
<circle cx="49.42" cy="314.05" r="0.7" fill="#d0d0d0"/>
<circle cx="59.13" cy="314.05" r="0.7" fill="#d0d0d0"/>
<circle cx="68.84" cy="314.05" r="0.7" fill="#d0d0d0"/>
<circle cx="78.56" cy="314.05" r="0.7" fill="#d0d0d0"/>
<circle cx="88.28" cy="314.05" r="0.7" fill="#d0d0d0"/>
<circle cx="97.99" cy="314.05" r="0.7" fill="#d0d0d0"/>
<circle cx="107.7" cy="314.05" r="0.7" fill="#d0d0d0"/>
<circle cx="117.42" cy="314.05" r="0.7" fill="#d0d0d0"/>
<circle cx="127.14" cy="314.05" r="0.7" fill="#d0d0d0"/>
<circle cx="136.85" cy="314.05" r="0.7" fill="#d0d0d0"/>
<circle cx="146.56" cy="314.05" r="0.7" fill="#d0d0d0"/>
<circle cx="156.28" cy="314.05" r="0.7" fill="#d0d0d0"/>
<circle cx="166" cy="314.05" r="0.7" fill="#d0d0d0"/>
<circle cx="175.71" cy="314.05" r="0.7" fill="#d0d0d0"/>
<circle cx="185.43" cy="314.05" r="0.7" fill="#d0d0d0"/>
<circle cx="195.14" cy="314.05" r="0.7" fill="#d0d0d0"/>
<circle cx="204.86" cy="314.05" r="0.7" fill="#d0d0d0"/>
<circle cx="214.57" cy="314.05" r="0.7" fill="#d0d0d0"/>
<circle cx="224.29" cy="314.05" r="0.7" fill="#d0d0d0"/>
<circle cx="234" cy="314.05" r="0.7" fill="#d0d0d0"/>
<circle cx="243.71" cy="314.05" r="0.7" fill="#d0d0d0"/>
<circle cx="253.43" cy="314.05" r="0.7" fill="#d0d0d0"/>
<circle cx="263.14" cy="314.05" r="0.7" fill="#d0d0d0"/>
<circle cx="272.86" cy="314.05" r="0.7" fill="#d0d0d0"/>
<circle cx="282.57" cy="314.05" r="0.7" fill="#d0d0d0"/>
<circle cx="292.29" cy="314.05" r="0.7" fill="#d0d0d0"/>
<circle cx="302" cy="314.05" r="0.7" fill="#d0d0d0"/>
<circle cx="311.72" cy="314.05" r="0.7" fill="#d0d0d0"/>
<circle cx="321.44" cy="314.05" r="0.7" fill="#d0d0d0"/>
<text x="26" y="319.45" font-size="4.3" fill="#4646a0" text-anchor="end" stroke="none">PF01248</text>
<line x1="27" y1="318.1" x2="28.3" y2="318.1" stroke="#333" stroke-width="0.7"/>
<circle cx="39.7" cy="318.1" r="0.7" fill="#d0d0d0"/>
<circle cx="49.42" cy="318.1" r="0.7" fill="#d0d0d0"/>
<circle cx="59.13" cy="318.1" r="0.7" fill="#d0d0d0"/>
<circle cx="68.84" cy="318.1" r="0.7" fill="#d0d0d0"/>
<circle cx="78.56" cy="318.1" r="0.7" fill="#d0d0d0"/>
<circle cx="88.28" cy="318.1" r="0.7" fill="#d0d0d0"/>
<circle cx="97.99" cy="318.1" r="0.7" fill="#d0d0d0"/>
<circle cx="107.7" cy="318.1" r="0.7" fill="#d0d0d0"/>
<circle cx="117.42" cy="318.1" r="0.7" fill="#d0d0d0"/>
<circle cx="127.14" cy="318.1" r="0.7" fill="#d0d0d0"/>
<circle cx="136.85" cy="318.1" r="0.7" fill="#d0d0d0"/>
<circle cx="146.56" cy="318.1" r="0.7" fill="#d0d0d0"/>
<circle cx="156.28" cy="318.1" r="0.7" fill="#d0d0d0"/>
<circle cx="166" cy="318.1" r="0.7" fill="#d0d0d0"/>
<circle cx="175.71" cy="318.1" r="0.7" fill="#d0d0d0"/>
<circle cx="185.43" cy="318.1" r="0.7" fill="#d0d0d0"/>
<circle cx="195.14" cy="318.1" r="0.7" fill="#d0d0d0"/>
<circle cx="204.86" cy="318.1" r="0.7" fill="#d0d0d0"/>
<circle cx="214.57" cy="318.1" r="0.7" fill="#d0d0d0"/>
<circle cx="224.29" cy="318.1" r="0.7" fill="#d0d0d0"/>
<circle cx="234" cy="318.1" r="0.7" fill="#d0d0d0"/>
<circle cx="243.71" cy="318.1" r="0.7" fill="#d0d0d0"/>
<circle cx="253.43" cy="318.1" r="0.7" fill="#d0d0d0"/>
<circle cx="263.14" cy="318.1" r="0.7" fill="#d0d0d0"/>
<circle cx="272.86" cy="318.1" r="0.7" fill="#d0d0d0"/>
<circle cx="282.57" cy="318.1" r="0.7" fill="#d0d0d0"/>
<circle cx="292.29" cy="318.1" r="0.7" fill="#d0d0d0"/>
<circle cx="302" cy="318.1" r="0.7" fill="#d0d0d0"/>
<circle cx="311.72" cy="318.1" r="0.7" fill="#d0d0d0"/>
<circle cx="321.44" cy="318.1" r="0.7" fill="#d0d0d0"/>
<text x="26" y="323.5" font-size="4.3" fill="#78c444" text-anchor="end" stroke="none">PF00957</text>
<line x1="27" y1="322.15" x2="28.3" y2="322.15" stroke="#333" stroke-width="0.7"/>
<circle cx="39.7" cy="322.15" r="0.7" fill="#d0d0d0"/>
<circle cx="49.42" cy="322.15" r="0.7" fill="#d0d0d0"/>
<circle cx="59.13" cy="322.15" r="0.7" fill="#d0d0d0"/>
<circle cx="68.84" cy="322.15" r="0.7" fill="#d0d0d0"/>
<circle cx="78.56" cy="322.15" r="0.7" fill="#d0d0d0"/>
<circle cx="88.28" cy="322.15" r="0.7" fill="#d0d0d0"/>
<circle cx="97.99" cy="322.15" r="0.7" fill="#d0d0d0"/>
<circle cx="107.7" cy="322.15" r="0.7" fill="#d0d0d0"/>
<circle cx="117.42" cy="322.15" r="0.7" fill="#d0d0d0"/>
<circle cx="127.14" cy="322.15" r="0.7" fill="#d0d0d0"/>
<circle cx="136.85" cy="322.15" r="0.7" fill="#d0d0d0"/>
<circle cx="146.56" cy="322.15" r="0.7" fill="#d0d0d0"/>
<circle cx="156.28" cy="322.15" r="0.7" fill="#d0d0d0"/>
<circle cx="166" cy="322.15" r="0.7" fill="#d0d0d0"/>
<circle cx="175.71" cy="322.15" r="0.7" fill="#d0d0d0"/>
<circle cx="185.43" cy="322.15" r="0.7" fill="#d0d0d0"/>
<circle cx="195.14" cy="322.15" r="0.7" fill="#d0d0d0"/>
<circle cx="204.86" cy="322.15" r="0.7" fill="#d0d0d0"/>
<circle cx="214.57" cy="322.15" r="0.7" fill="#d0d0d0"/>
<circle cx="224.29" cy="322.15" r="0.7" fill="#d0d0d0"/>
<circle cx="234" cy="322.15" r="0.7" fill="#d0d0d0"/>
<circle cx="243.71" cy="322.15" r="0.7" fill="#d0d0d0"/>
<circle cx="253.43" cy="322.15" r="0.7" fill="#d0d0d0"/>
<circle cx="263.14" cy="322.15" r="0.7" fill="#d0d0d0"/>
<circle cx="272.86" cy="322.15" r="0.7" fill="#d0d0d0"/>
<circle cx="282.57" cy="322.15" r="0.7" fill="#d0d0d0"/>
<circle cx="292.29" cy="322.15" r="0.7" fill="#d0d0d0"/>
<circle cx="302" cy="322.15" r="0.7" fill="#d0d0d0"/>
<circle cx="311.72" cy="322.15" r="0.7" fill="#d0d0d0"/>
<circle cx="321.44" cy="322.15" r="0.7" fill="#d0d0d0"/>
<text x="26" y="327.55" font-size="4.3" fill="#eccb3a" text-anchor="end" stroke="none">PF00405</text>
<line x1="27" y1="326.2" x2="28.3" y2="326.2" stroke="#333" stroke-width="0.7"/>
<circle cx="39.7" cy="326.2" r="0.7" fill="#d0d0d0"/>
<circle cx="49.42" cy="326.2" r="0.7" fill="#d0d0d0"/>
<circle cx="59.13" cy="326.2" r="0.7" fill="#d0d0d0"/>
<circle cx="68.84" cy="326.2" r="0.7" fill="#d0d0d0"/>
<circle cx="78.56" cy="326.2" r="0.7" fill="#d0d0d0"/>
<circle cx="88.28" cy="326.2" r="0.7" fill="#d0d0d0"/>
<circle cx="97.99" cy="326.2" r="0.7" fill="#d0d0d0"/>
<circle cx="107.7" cy="326.2" r="0.7" fill="#d0d0d0"/>
<circle cx="117.42" cy="326.2" r="0.7" fill="#d0d0d0"/>
<circle cx="127.14" cy="326.2" r="0.7" fill="#d0d0d0"/>
<circle cx="136.85" cy="326.2" r="0.7" fill="#d0d0d0"/>
<circle cx="146.56" cy="326.2" r="0.7" fill="#d0d0d0"/>
<circle cx="156.28" cy="326.2" r="0.7" fill="#d0d0d0"/>
<circle cx="166" cy="326.2" r="0.7" fill="#d0d0d0"/>
<circle cx="175.71" cy="326.2" r="0.7" fill="#d0d0d0"/>
<circle cx="185.43" cy="326.2" r="0.7" fill="#d0d0d0"/>
<circle cx="195.14" cy="326.2" r="0.7" fill="#d0d0d0"/>
<circle cx="204.86" cy="326.2" r="0.7" fill="#d0d0d0"/>
<circle cx="214.57" cy="326.2" r="0.7" fill="#d0d0d0"/>
<circle cx="224.29" cy="326.2" r="0.7" fill="#d0d0d0"/>
<circle cx="234" cy="326.2" r="0.7" fill="#d0d0d0"/>
<circle cx="243.71" cy="326.2" r="0.7" fill="#d0d0d0"/>
<circle cx="253.43" cy="326.2" r="0.7" fill="#d0d0d0"/>
<circle cx="263.14" cy="326.2" r="0.7" fill="#d0d0d0"/>
<circle cx="272.86" cy="326.2" r="0.7" fill="#d0d0d0"/>
<circle cx="282.57" cy="326.2" r="0.7" fill="#d0d0d0"/>
<circle cx="292.29" cy="326.2" r="0.7" fill="#d0d0d0"/>
<circle cx="302" cy="326.2" r="0.7" fill="#d0d0d0"/>
<circle cx="311.72" cy="326.2" r="0.7" fill="#d0d0d0"/>
<circle cx="321.44" cy="326.2" r="0.7" fill="#d0d0d0"/>
<text x="26" y="331.6" font-size="4.3" fill="#6494ca" text-anchor="end" stroke="none">PF00191</text>
<line x1="27" y1="330.25" x2="28.3" y2="330.25" stroke="#333" stroke-width="0.7"/>
<circle cx="39.7" cy="330.25" r="0.7" fill="#d0d0d0"/>
<circle cx="49.42" cy="330.25" r="0.7" fill="#d0d0d0"/>
<circle cx="59.13" cy="330.25" r="0.7" fill="#d0d0d0"/>
<circle cx="68.84" cy="330.25" r="0.7" fill="#d0d0d0"/>
<circle cx="78.56" cy="330.25" r="0.7" fill="#d0d0d0"/>
<circle cx="88.28" cy="330.25" r="0.7" fill="#d0d0d0"/>
<circle cx="97.99" cy="330.25" r="0.7" fill="#d0d0d0"/>
<circle cx="107.7" cy="330.25" r="0.7" fill="#d0d0d0"/>
<circle cx="117.42" cy="330.25" r="0.7" fill="#d0d0d0"/>
<circle cx="127.14" cy="330.25" r="0.7" fill="#d0d0d0"/>
<circle cx="136.85" cy="330.25" r="0.7" fill="#d0d0d0"/>
<circle cx="146.56" cy="330.25" r="0.7" fill="#d0d0d0"/>
<circle cx="156.28" cy="330.25" r="0.7" fill="#d0d0d0"/>
<circle cx="166" cy="330.25" r="0.7" fill="#d0d0d0"/>
<circle cx="175.71" cy="330.25" r="0.7" fill="#d0d0d0"/>
<circle cx="185.43" cy="330.25" r="0.7" fill="#d0d0d0"/>
<circle cx="195.14" cy="330.25" r="0.7" fill="#d0d0d0"/>
<circle cx="204.86" cy="330.25" r="0.7" fill="#d0d0d0"/>
<circle cx="214.57" cy="330.25" r="0.7" fill="#d0d0d0"/>
<circle cx="224.29" cy="330.25" r="0.7" fill="#d0d0d0"/>
<circle cx="234" cy="330.25" r="0.7" fill="#d0d0d0"/>
<circle cx="243.71" cy="330.25" r="0.7" fill="#d0d0d0"/>
<circle cx="253.43" cy="330.25" r="0.7" fill="#d0d0d0"/>
<circle cx="263.14" cy="330.25" r="0.7" fill="#d0d0d0"/>
<circle cx="272.86" cy="330.25" r="0.7" fill="#d0d0d0"/>
<circle cx="282.57" cy="330.25" r="0.7" fill="#d0d0d0"/>
<circle cx="292.29" cy="330.25" r="0.7" fill="#d0d0d0"/>
<circle cx="302" cy="330.25" r="0.7" fill="#d0d0d0"/>
<circle cx="311.72" cy="330.25" r="0.7" fill="#d0d0d0"/>
<circle cx="321.44" cy="330.25" r="0.7" fill="#d0d0d0"/>
<text x="26" y="335.65" font-size="4.3" fill="#4646a0" text-anchor="end" stroke="none">PF00467</text>
<line x1="27" y1="334.3" x2="28.3" y2="334.3" stroke="#333" stroke-width="0.7"/>
<circle cx="39.7" cy="334.3" r="0.7" fill="#d0d0d0"/>
<circle cx="49.42" cy="334.3" r="0.7" fill="#d0d0d0"/>
<circle cx="59.13" cy="334.3" r="0.7" fill="#d0d0d0"/>
<circle cx="68.84" cy="334.3" r="0.7" fill="#d0d0d0"/>
<circle cx="78.56" cy="334.3" r="0.7" fill="#d0d0d0"/>
<circle cx="88.28" cy="334.3" r="0.7" fill="#d0d0d0"/>
<circle cx="97.99" cy="334.3" r="0.7" fill="#d0d0d0"/>
<circle cx="107.7" cy="334.3" r="0.7" fill="#d0d0d0"/>
<circle cx="117.42" cy="334.3" r="0.7" fill="#d0d0d0"/>
<circle cx="127.14" cy="334.3" r="0.7" fill="#d0d0d0"/>
<circle cx="136.85" cy="334.3" r="0.7" fill="#d0d0d0"/>
<circle cx="146.56" cy="334.3" r="0.7" fill="#d0d0d0"/>
<circle cx="156.28" cy="334.3" r="0.7" fill="#d0d0d0"/>
<circle cx="166" cy="334.3" r="0.7" fill="#d0d0d0"/>
<circle cx="175.71" cy="334.3" r="0.7" fill="#d0d0d0"/>
<circle cx="185.43" cy="334.3" r="0.7" fill="#d0d0d0"/>
<circle cx="195.14" cy="334.3" r="0.7" fill="#d0d0d0"/>
<circle cx="204.86" cy="334.3" r="0.7" fill="#d0d0d0"/>
<circle cx="214.57" cy="334.3" r="0.7" fill="#d0d0d0"/>
<circle cx="224.29" cy="334.3" r="0.7" fill="#d0d0d0"/>
<circle cx="234" cy="334.3" r="0.7" fill="#d0d0d0"/>
<circle cx="243.71" cy="334.3" r="0.7" fill="#d0d0d0"/>
<circle cx="253.43" cy="334.3" r="0.7" fill="#d0d0d0"/>
<circle cx="263.14" cy="334.3" r="0.7" fill="#d0d0d0"/>
<circle cx="272.86" cy="334.3" r="0.7" fill="#d0d0d0"/>
<circle cx="282.57" cy="334.3" r="0.7" fill="#d0d0d0"/>
<circle cx="292.29" cy="334.3" r="0.7" fill="#d0d0d0"/>
<circle cx="302" cy="334.3" r="0.7" fill="#d0d0d0"/>
<circle cx="311.72" cy="334.3" r="0.7" fill="#d0d0d0"/>
<circle cx="321.44" cy="334.3" r="0.7" fill="#d0d0d0"/>
<text x="26" y="339.7" font-size="4.3" fill="#dc7478" text-anchor="end" stroke="none">PF10584</text>
<line x1="27" y1="338.35" x2="28.3" y2="338.35" stroke="#333" stroke-width="0.7"/>
<circle cx="39.7" cy="338.35" r="0.7" fill="#d0d0d0"/>
<circle cx="49.42" cy="338.35" r="0.7" fill="#d0d0d0"/>
<circle cx="59.13" cy="338.35" r="0.7" fill="#d0d0d0"/>
<circle cx="68.84" cy="338.35" r="0.7" fill="#d0d0d0"/>
<circle cx="78.56" cy="338.35" r="0.7" fill="#d0d0d0"/>
<circle cx="88.28" cy="338.35" r="0.7" fill="#d0d0d0"/>
<circle cx="97.99" cy="338.35" r="0.7" fill="#d0d0d0"/>
<circle cx="107.7" cy="338.35" r="0.7" fill="#d0d0d0"/>
<circle cx="117.42" cy="338.35" r="0.7" fill="#d0d0d0"/>
<circle cx="127.14" cy="338.35" r="0.7" fill="#d0d0d0"/>
<circle cx="136.85" cy="338.35" r="0.7" fill="#d0d0d0"/>
<circle cx="146.56" cy="338.35" r="0.7" fill="#d0d0d0"/>
<circle cx="156.28" cy="338.35" r="0.7" fill="#d0d0d0"/>
<circle cx="166" cy="338.35" r="0.7" fill="#d0d0d0"/>
<circle cx="175.71" cy="338.35" r="0.7" fill="#d0d0d0"/>
<circle cx="185.43" cy="338.35" r="0.7" fill="#d0d0d0"/>
<circle cx="195.14" cy="338.35" r="0.7" fill="#d0d0d0"/>
<circle cx="204.86" cy="338.35" r="0.7" fill="#d0d0d0"/>
<circle cx="214.57" cy="338.35" r="0.7" fill="#d0d0d0"/>
<circle cx="224.29" cy="338.35" r="0.7" fill="#d0d0d0"/>
<circle cx="234" cy="338.35" r="0.7" fill="#d0d0d0"/>
<circle cx="243.71" cy="338.35" r="0.7" fill="#d0d0d0"/>
<circle cx="253.43" cy="338.35" r="0.7" fill="#d0d0d0"/>
<circle cx="263.14" cy="338.35" r="0.7" fill="#d0d0d0"/>
<circle cx="272.86" cy="338.35" r="0.7" fill="#d0d0d0"/>
<circle cx="282.57" cy="338.35" r="0.7" fill="#d0d0d0"/>
<circle cx="292.29" cy="338.35" r="0.7" fill="#d0d0d0"/>
<circle cx="302" cy="338.35" r="0.7" fill="#d0d0d0"/>
<circle cx="311.72" cy="338.35" r="0.7" fill="#d0d0d0"/>
<circle cx="321.44" cy="338.35" r="0.7" fill="#d0d0d0"/>
<text x="26" y="343.75" font-size="4.3" fill="#eccb3a" text-anchor="end" stroke="none">PF03134</text>
<line x1="27" y1="342.4" x2="28.3" y2="342.4" stroke="#333" stroke-width="0.7"/>
<circle cx="39.7" cy="342.4" r="0.7" fill="#d0d0d0"/>
<circle cx="49.42" cy="342.4" r="0.7" fill="#d0d0d0"/>
<circle cx="59.13" cy="342.4" r="0.7" fill="#d0d0d0"/>
<circle cx="68.84" cy="342.4" r="0.7" fill="#d0d0d0"/>
<circle cx="78.56" cy="342.4" r="0.7" fill="#d0d0d0"/>
<circle cx="88.28" cy="342.4" r="0.7" fill="#d0d0d0"/>
<circle cx="97.99" cy="342.4" r="0.7" fill="#d0d0d0"/>
<circle cx="107.7" cy="342.4" r="0.7" fill="#d0d0d0"/>
<circle cx="117.42" cy="342.4" r="0.7" fill="#d0d0d0"/>
<circle cx="127.14" cy="342.4" r="0.7" fill="#d0d0d0"/>
<circle cx="136.85" cy="342.4" r="0.7" fill="#d0d0d0"/>
<circle cx="146.56" cy="342.4" r="0.7" fill="#d0d0d0"/>
<circle cx="156.28" cy="342.4" r="0.7" fill="#d0d0d0"/>
<circle cx="166" cy="342.4" r="0.7" fill="#d0d0d0"/>
<circle cx="175.71" cy="342.4" r="0.7" fill="#d0d0d0"/>
<circle cx="185.43" cy="342.4" r="0.7" fill="#d0d0d0"/>
<circle cx="195.14" cy="342.4" r="0.7" fill="#d0d0d0"/>
<circle cx="204.86" cy="342.4" r="0.7" fill="#d0d0d0"/>
<circle cx="214.57" cy="342.4" r="0.7" fill="#d0d0d0"/>
<circle cx="224.29" cy="342.4" r="0.7" fill="#d0d0d0"/>
<circle cx="234" cy="342.4" r="0.7" fill="#d0d0d0"/>
<circle cx="243.71" cy="342.4" r="0.7" fill="#d0d0d0"/>
<circle cx="253.43" cy="342.4" r="0.7" fill="#d0d0d0"/>
<circle cx="263.14" cy="342.4" r="0.7" fill="#d0d0d0"/>
<circle cx="272.86" cy="342.4" r="0.7" fill="#d0d0d0"/>
<circle cx="282.57" cy="342.4" r="0.7" fill="#d0d0d0"/>
<circle cx="292.29" cy="342.4" r="0.7" fill="#d0d0d0"/>
<circle cx="302" cy="342.4" r="0.7" fill="#d0d0d0"/>
<circle cx="311.72" cy="342.4" r="0.7" fill="#d0d0d0"/>
<circle cx="321.44" cy="342.4" r="0.7" fill="#d0d0d0"/>
<text x="26" y="347.8" font-size="4.3" fill="#dc7478" text-anchor="end" stroke="none">PF00118</text>
<line x1="27" y1="346.45" x2="28.3" y2="346.45" stroke="#333" stroke-width="0.7"/>
<circle cx="39.7" cy="346.45" r="0.7" fill="#d0d0d0"/>
<circle cx="49.42" cy="346.45" r="0.7" fill="#d0d0d0"/>
<circle cx="59.13" cy="346.45" r="0.7" fill="#d0d0d0"/>
<circle cx="68.84" cy="346.45" r="0.7" fill="#d0d0d0"/>
<circle cx="78.56" cy="346.45" r="0.7" fill="#d0d0d0"/>
<circle cx="88.28" cy="346.45" r="0.7" fill="#d0d0d0"/>
<circle cx="97.99" cy="346.45" r="0.7" fill="#d0d0d0"/>
<circle cx="107.7" cy="346.45" r="0.7" fill="#d0d0d0"/>
<circle cx="117.42" cy="346.45" r="0.7" fill="#d0d0d0"/>
<circle cx="127.14" cy="346.45" r="0.7" fill="#d0d0d0"/>
<circle cx="136.85" cy="346.45" r="0.7" fill="#d0d0d0"/>
<circle cx="146.56" cy="346.45" r="0.7" fill="#d0d0d0"/>
<circle cx="156.28" cy="346.45" r="0.7" fill="#d0d0d0"/>
<circle cx="166" cy="346.45" r="0.7" fill="#d0d0d0"/>
<circle cx="175.71" cy="346.45" r="0.7" fill="#d0d0d0"/>
<circle cx="185.43" cy="346.45" r="0.7" fill="#d0d0d0"/>
<circle cx="195.14" cy="346.45" r="0.7" fill="#d0d0d0"/>
<circle cx="204.86" cy="346.45" r="0.7" fill="#d0d0d0"/>
<circle cx="214.57" cy="346.45" r="0.7" fill="#d0d0d0"/>
<circle cx="224.29" cy="346.45" r="0.7" fill="#d0d0d0"/>
<circle cx="234" cy="346.45" r="0.7" fill="#d0d0d0"/>
<circle cx="243.71" cy="346.45" r="0.7" fill="#d0d0d0"/>
<circle cx="253.43" cy="346.45" r="0.7" fill="#d0d0d0"/>
<circle cx="263.14" cy="346.45" r="0.7" fill="#d0d0d0"/>
<circle cx="272.86" cy="346.45" r="0.7" fill="#d0d0d0"/>
<circle cx="282.57" cy="346.45" r="0.7" fill="#d0d0d0"/>
<circle cx="292.29" cy="346.45" r="0.7" fill="#d0d0d0"/>
<circle cx="302" cy="346.45" r="0.7" fill="#d0d0d0"/>
<circle cx="311.72" cy="346.45" r="0.7" fill="#d0d0d0"/>
<circle cx="321.44" cy="346.45" r="0.7" fill="#d0d0d0"/>
<text x="26" y="351.85" font-size="4.3" fill="#dc7478" text-anchor="end" stroke="none">PF07724</text>
<line x1="27" y1="350.5" x2="28.3" y2="350.5" stroke="#333" stroke-width="0.7"/>
<circle cx="39.7" cy="350.5" r="0.7" fill="#d0d0d0"/>
<circle cx="49.42" cy="350.5" r="0.7" fill="#d0d0d0"/>
<circle cx="59.13" cy="350.5" r="0.7" fill="#d0d0d0"/>
<circle cx="68.84" cy="350.5" r="0.7" fill="#d0d0d0"/>
<circle cx="78.56" cy="350.5" r="0.7" fill="#d0d0d0"/>
<circle cx="88.28" cy="350.5" r="0.7" fill="#d0d0d0"/>
<circle cx="97.99" cy="350.5" r="0.7" fill="#d0d0d0"/>
<circle cx="107.7" cy="350.5" r="0.7" fill="#d0d0d0"/>
<circle cx="117.42" cy="350.5" r="0.7" fill="#d0d0d0"/>
<circle cx="127.14" cy="350.5" r="0.7" fill="#d0d0d0"/>
<circle cx="136.85" cy="350.5" r="0.7" fill="#d0d0d0"/>
<circle cx="146.56" cy="350.5" r="0.7" fill="#d0d0d0"/>
<circle cx="156.28" cy="350.5" r="0.7" fill="#d0d0d0"/>
<circle cx="166" cy="350.5" r="0.7" fill="#d0d0d0"/>
<circle cx="175.71" cy="350.5" r="0.7" fill="#d0d0d0"/>
<circle cx="185.43" cy="350.5" r="0.7" fill="#d0d0d0"/>
<circle cx="195.14" cy="350.5" r="0.7" fill="#d0d0d0"/>
<circle cx="204.86" cy="350.5" r="0.7" fill="#d0d0d0"/>
<circle cx="214.57" cy="350.5" r="0.7" fill="#d0d0d0"/>
<circle cx="224.29" cy="350.5" r="0.7" fill="#d0d0d0"/>
<circle cx="234" cy="350.5" r="0.7" fill="#d0d0d0"/>
<circle cx="243.71" cy="350.5" r="0.7" fill="#d0d0d0"/>
<circle cx="253.43" cy="350.5" r="0.7" fill="#d0d0d0"/>
<circle cx="263.14" cy="350.5" r="0.7" fill="#d0d0d0"/>
<circle cx="272.86" cy="350.5" r="0.7" fill="#d0d0d0"/>
<circle cx="282.57" cy="350.5" r="0.7" fill="#d0d0d0"/>
<circle cx="292.29" cy="350.5" r="0.7" fill="#d0d0d0"/>
<circle cx="302" cy="350.5" r="0.7" fill="#d0d0d0"/>
<circle cx="311.72" cy="350.5" r="0.7" fill="#d0d0d0"/>
<circle cx="321.44" cy="350.5" r="0.7" fill="#d0d0d0"/>
<text x="26" y="355.9" font-size="4.3" fill="#4646a0" text-anchor="end" stroke="none">PF03953</text>
<line x1="27" y1="354.55" x2="28.3" y2="354.55" stroke="#333" stroke-width="0.7"/>
<circle cx="39.7" cy="354.55" r="0.7" fill="#d0d0d0"/>
<circle cx="49.42" cy="354.55" r="0.7" fill="#d0d0d0"/>
<circle cx="59.13" cy="354.55" r="0.7" fill="#d0d0d0"/>
<circle cx="68.84" cy="354.55" r="0.7" fill="#d0d0d0"/>
<circle cx="78.56" cy="354.55" r="0.7" fill="#d0d0d0"/>
<circle cx="88.28" cy="354.55" r="0.7" fill="#d0d0d0"/>
<circle cx="97.99" cy="354.55" r="0.7" fill="#d0d0d0"/>
<circle cx="107.7" cy="354.55" r="0.7" fill="#d0d0d0"/>
<circle cx="117.42" cy="354.55" r="0.7" fill="#d0d0d0"/>
<circle cx="127.14" cy="354.55" r="0.7" fill="#d0d0d0"/>
<circle cx="136.85" cy="354.55" r="0.7" fill="#d0d0d0"/>
<circle cx="146.56" cy="354.55" r="0.7" fill="#d0d0d0"/>
<circle cx="156.28" cy="354.55" r="0.7" fill="#d0d0d0"/>
<circle cx="166" cy="354.55" r="0.7" fill="#d0d0d0"/>
<circle cx="175.71" cy="354.55" r="0.7" fill="#d0d0d0"/>
<circle cx="185.43" cy="354.55" r="0.7" fill="#d0d0d0"/>
<circle cx="195.14" cy="354.55" r="0.7" fill="#d0d0d0"/>
<circle cx="204.86" cy="354.55" r="0.7" fill="#d0d0d0"/>
<circle cx="214.57" cy="354.55" r="0.7" fill="#d0d0d0"/>
<circle cx="224.29" cy="354.55" r="0.7" fill="#d0d0d0"/>
<circle cx="234" cy="354.55" r="0.7" fill="#d0d0d0"/>
<circle cx="243.71" cy="354.55" r="0.7" fill="#d0d0d0"/>
<circle cx="253.43" cy="354.55" r="0.7" fill="#d0d0d0"/>
<circle cx="263.14" cy="354.55" r="0.7" fill="#d0d0d0"/>
<circle cx="272.86" cy="354.55" r="0.7" fill="#d0d0d0"/>
<circle cx="282.57" cy="354.55" r="0.7" fill="#d0d0d0"/>
<circle cx="292.29" cy="354.55" r="0.7" fill="#d0d0d0"/>
<circle cx="302" cy="354.55" r="0.7" fill="#d0d0d0"/>
<circle cx="311.72" cy="354.55" r="0.7" fill="#d0d0d0"/>
<circle cx="321.44" cy="354.55" r="0.7" fill="#d0d0d0"/>
<text x="26" y="359.95" font-size="4.3" fill="#78c444" text-anchor="end" stroke="none">PF07690</text>
<line x1="27" y1="358.6" x2="28.3" y2="358.6" stroke="#333" stroke-width="0.7"/>
<circle cx="39.7" cy="358.6" r="0.7" fill="#d0d0d0"/>
<circle cx="49.42" cy="358.6" r="0.7" fill="#d0d0d0"/>
<circle cx="59.13" cy="358.6" r="0.7" fill="#d0d0d0"/>
<circle cx="68.84" cy="358.6" r="0.7" fill="#d0d0d0"/>
<circle cx="78.56" cy="358.6" r="0.7" fill="#d0d0d0"/>
<circle cx="88.28" cy="358.6" r="0.7" fill="#d0d0d0"/>
<circle cx="97.99" cy="358.6" r="0.7" fill="#d0d0d0"/>
<circle cx="107.7" cy="358.6" r="0.7" fill="#d0d0d0"/>
<circle cx="117.42" cy="358.6" r="0.7" fill="#d0d0d0"/>
<circle cx="127.14" cy="358.6" r="0.7" fill="#d0d0d0"/>
<circle cx="136.85" cy="358.6" r="0.7" fill="#d0d0d0"/>
<circle cx="146.56" cy="358.6" r="0.7" fill="#d0d0d0"/>
<circle cx="156.28" cy="358.6" r="0.7" fill="#d0d0d0"/>
<circle cx="166" cy="358.6" r="0.7" fill="#d0d0d0"/>
<circle cx="175.71" cy="358.6" r="0.7" fill="#d0d0d0"/>
<circle cx="185.43" cy="358.6" r="0.7" fill="#d0d0d0"/>
<circle cx="195.14" cy="358.6" r="0.7" fill="#d0d0d0"/>
<circle cx="204.86" cy="358.6" r="0.7" fill="#d0d0d0"/>
<circle cx="214.57" cy="358.6" r="0.7" fill="#d0d0d0"/>
<circle cx="224.29" cy="358.6" r="0.7" fill="#d0d0d0"/>
<circle cx="234" cy="358.6" r="0.7" fill="#d0d0d0"/>
<circle cx="243.71" cy="358.6" r="0.7" fill="#d0d0d0"/>
<circle cx="253.43" cy="358.6" r="0.7" fill="#d0d0d0"/>
<circle cx="263.14" cy="358.6" r="0.7" fill="#d0d0d0"/>
<circle cx="272.86" cy="358.6" r="0.7" fill="#d0d0d0"/>
<circle cx="282.57" cy="358.6" r="0.7" fill="#d0d0d0"/>
<circle cx="292.29" cy="358.6" r="0.7" fill="#d0d0d0"/>
<circle cx="302" cy="358.6" r="0.7" fill="#d0d0d0"/>
<circle cx="311.72" cy="358.6" r="0.7" fill="#d0d0d0"/>
<circle cx="321.44" cy="358.6" r="0.7" fill="#d0d0d0"/>
<text x="26" y="364" font-size="4.3" fill="#dc7478" text-anchor="end" stroke="none">PF01399</text>
<line x1="27" y1="362.65" x2="28.3" y2="362.65" stroke="#333" stroke-width="0.7"/>
<circle cx="39.7" cy="362.65" r="0.7" fill="#d0d0d0"/>
<circle cx="49.42" cy="362.65" r="0.7" fill="#d0d0d0"/>
<circle cx="59.13" cy="362.65" r="0.7" fill="#d0d0d0"/>
<circle cx="68.84" cy="362.65" r="0.7" fill="#d0d0d0"/>
<circle cx="78.56" cy="362.65" r="0.7" fill="#d0d0d0"/>
<circle cx="88.28" cy="362.65" r="0.7" fill="#d0d0d0"/>
<circle cx="97.99" cy="362.65" r="0.7" fill="#d0d0d0"/>
<circle cx="107.7" cy="362.65" r="0.7" fill="#d0d0d0"/>
<circle cx="117.42" cy="362.65" r="0.7" fill="#d0d0d0"/>
<circle cx="127.14" cy="362.65" r="0.7" fill="#d0d0d0"/>
<circle cx="136.85" cy="362.65" r="0.7" fill="#d0d0d0"/>
<circle cx="146.56" cy="362.65" r="0.7" fill="#d0d0d0"/>
<circle cx="156.28" cy="362.65" r="0.7" fill="#d0d0d0"/>
<circle cx="166" cy="362.65" r="0.7" fill="#d0d0d0"/>
<circle cx="175.71" cy="362.65" r="0.7" fill="#d0d0d0"/>
<circle cx="185.43" cy="362.65" r="0.7" fill="#d0d0d0"/>
<circle cx="195.14" cy="362.65" r="0.7" fill="#d0d0d0"/>
<circle cx="204.86" cy="362.65" r="0.7" fill="#d0d0d0"/>
<circle cx="214.57" cy="362.65" r="0.7" fill="#d0d0d0"/>
<circle cx="224.29" cy="362.65" r="0.7" fill="#d0d0d0"/>
<circle cx="234" cy="362.65" r="0.7" fill="#d0d0d0"/>
<circle cx="243.71" cy="362.65" r="0.7" fill="#d0d0d0"/>
<circle cx="253.43" cy="362.65" r="0.7" fill="#d0d0d0"/>
<circle cx="263.14" cy="362.65" r="0.7" fill="#d0d0d0"/>
<circle cx="272.86" cy="362.65" r="0.7" fill="#d0d0d0"/>
<circle cx="282.57" cy="362.65" r="0.7" fill="#d0d0d0"/>
<circle cx="292.29" cy="362.65" r="0.7" fill="#d0d0d0"/>
<circle cx="302" cy="362.65" r="0.7" fill="#d0d0d0"/>
<circle cx="311.72" cy="362.65" r="0.7" fill="#d0d0d0"/>
<circle cx="321.44" cy="362.65" r="0.7" fill="#d0d0d0"/>
<text x="26" y="368.05" font-size="4.3" fill="#4646a0" text-anchor="end" stroke="none">PF00091</text>
<line x1="27" y1="366.7" x2="28.3" y2="366.7" stroke="#333" stroke-width="0.7"/>
<circle cx="39.7" cy="366.7" r="0.7" fill="#d0d0d0"/>
<circle cx="49.42" cy="366.7" r="0.7" fill="#d0d0d0"/>
<circle cx="59.13" cy="366.7" r="0.7" fill="#d0d0d0"/>
<circle cx="68.84" cy="366.7" r="0.7" fill="#d0d0d0"/>
<circle cx="78.56" cy="366.7" r="0.7" fill="#d0d0d0"/>
<circle cx="88.28" cy="366.7" r="0.7" fill="#d0d0d0"/>
<circle cx="97.99" cy="366.7" r="0.7" fill="#d0d0d0"/>
<circle cx="107.7" cy="366.7" r="0.7" fill="#d0d0d0"/>
<circle cx="117.42" cy="366.7" r="0.7" fill="#d0d0d0"/>
<circle cx="127.14" cy="366.7" r="0.7" fill="#d0d0d0"/>
<circle cx="136.85" cy="366.7" r="0.7" fill="#d0d0d0"/>
<circle cx="146.56" cy="366.7" r="0.7" fill="#d0d0d0"/>
<circle cx="156.28" cy="366.7" r="0.7" fill="#d0d0d0"/>
<circle cx="166" cy="366.7" r="0.7" fill="#d0d0d0"/>
<circle cx="175.71" cy="366.7" r="0.7" fill="#d0d0d0"/>
<circle cx="185.43" cy="366.7" r="0.7" fill="#d0d0d0"/>
<circle cx="195.14" cy="366.7" r="0.7" fill="#d0d0d0"/>
<circle cx="204.86" cy="366.7" r="0.7" fill="#d0d0d0"/>
<circle cx="214.57" cy="366.7" r="0.7" fill="#d0d0d0"/>
<circle cx="224.29" cy="366.7" r="0.7" fill="#d0d0d0"/>
<circle cx="234" cy="366.7" r="0.7" fill="#d0d0d0"/>
<circle cx="243.71" cy="366.7" r="0.7" fill="#d0d0d0"/>
<circle cx="253.43" cy="366.7" r="0.7" fill="#d0d0d0"/>
<circle cx="263.14" cy="366.7" r="0.7" fill="#d0d0d0"/>
<circle cx="272.86" cy="366.7" r="0.7" fill="#d0d0d0"/>
<circle cx="282.57" cy="366.7" r="0.7" fill="#d0d0d0"/>
<circle cx="292.29" cy="366.7" r="0.7" fill="#d0d0d0"/>
<circle cx="302" cy="366.7" r="0.7" fill="#d0d0d0"/>
<circle cx="311.72" cy="366.7" r="0.7" fill="#d0d0d0"/>
<circle cx="321.44" cy="366.7" r="0.7" fill="#d0d0d0"/>
<text x="26" y="372.1" font-size="4.3" fill="#dc7478" text-anchor="end" stroke="none">PF17862</text>
<line x1="27" y1="370.75" x2="28.3" y2="370.75" stroke="#333" stroke-width="0.7"/>
<circle cx="39.7" cy="370.75" r="0.7" fill="#d0d0d0"/>
<circle cx="49.42" cy="370.75" r="0.7" fill="#d0d0d0"/>
<circle cx="59.13" cy="370.75" r="0.7" fill="#d0d0d0"/>
<circle cx="68.84" cy="370.75" r="0.7" fill="#d0d0d0"/>
<circle cx="78.56" cy="370.75" r="0.7" fill="#d0d0d0"/>
<circle cx="88.28" cy="370.75" r="0.7" fill="#d0d0d0"/>
<circle cx="97.99" cy="370.75" r="0.7" fill="#d0d0d0"/>
<circle cx="107.7" cy="370.75" r="0.7" fill="#d0d0d0"/>
<circle cx="117.42" cy="370.75" r="0.7" fill="#d0d0d0"/>
<circle cx="127.14" cy="370.75" r="0.7" fill="#d0d0d0"/>
<circle cx="136.85" cy="370.75" r="0.7" fill="#d0d0d0"/>
<circle cx="146.56" cy="370.75" r="0.7" fill="#d0d0d0"/>
<circle cx="156.28" cy="370.75" r="0.7" fill="#d0d0d0"/>
<circle cx="166" cy="370.75" r="0.7" fill="#d0d0d0"/>
<circle cx="175.71" cy="370.75" r="0.7" fill="#d0d0d0"/>
<circle cx="185.43" cy="370.75" r="0.7" fill="#d0d0d0"/>
<circle cx="195.14" cy="370.75" r="0.7" fill="#d0d0d0"/>
<circle cx="204.86" cy="370.75" r="0.7" fill="#d0d0d0"/>
<circle cx="214.57" cy="370.75" r="0.7" fill="#d0d0d0"/>
<circle cx="224.29" cy="370.75" r="0.7" fill="#d0d0d0"/>
<circle cx="234" cy="370.75" r="0.7" fill="#d0d0d0"/>
<circle cx="243.71" cy="370.75" r="0.7" fill="#d0d0d0"/>
<circle cx="253.43" cy="370.75" r="0.7" fill="#d0d0d0"/>
<circle cx="263.14" cy="370.75" r="0.7" fill="#d0d0d0"/>
<circle cx="272.86" cy="370.75" r="0.7" fill="#d0d0d0"/>
<circle cx="282.57" cy="370.75" r="0.7" fill="#d0d0d0"/>
<circle cx="292.29" cy="370.75" r="0.7" fill="#d0d0d0"/>
<circle cx="302" cy="370.75" r="0.7" fill="#d0d0d0"/>
<circle cx="311.72" cy="370.75" r="0.7" fill="#d0d0d0"/>
<circle cx="321.44" cy="370.75" r="0.7" fill="#d0d0d0"/>
<text x="26" y="376.15" font-size="4.3" fill="#dc7478" text-anchor="end" stroke="none">PF00227</text>
<line x1="27" y1="374.8" x2="28.3" y2="374.8" stroke="#333" stroke-width="0.7"/>
<circle cx="39.7" cy="374.8" r="0.7" fill="#d0d0d0"/>
<circle cx="49.42" cy="374.8" r="0.7" fill="#d0d0d0"/>
<circle cx="59.13" cy="374.8" r="0.7" fill="#d0d0d0"/>
<circle cx="68.84" cy="374.8" r="0.7" fill="#d0d0d0"/>
<circle cx="78.56" cy="374.8" r="0.7" fill="#d0d0d0"/>
<circle cx="88.28" cy="374.8" r="0.7" fill="#d0d0d0"/>
<circle cx="97.99" cy="374.8" r="0.7" fill="#d0d0d0"/>
<circle cx="107.7" cy="374.8" r="0.7" fill="#d0d0d0"/>
<circle cx="117.42" cy="374.8" r="0.7" fill="#d0d0d0"/>
<circle cx="127.14" cy="374.8" r="0.7" fill="#d0d0d0"/>
<circle cx="136.85" cy="374.8" r="0.7" fill="#d0d0d0"/>
<circle cx="146.56" cy="374.8" r="0.7" fill="#d0d0d0"/>
<circle cx="156.28" cy="374.8" r="0.7" fill="#d0d0d0"/>
<circle cx="166" cy="374.8" r="0.7" fill="#d0d0d0"/>
<circle cx="175.71" cy="374.8" r="0.7" fill="#d0d0d0"/>
<circle cx="185.43" cy="374.8" r="0.7" fill="#d0d0d0"/>
<circle cx="195.14" cy="374.8" r="0.7" fill="#d0d0d0"/>
<circle cx="204.86" cy="374.8" r="0.7" fill="#d0d0d0"/>
<circle cx="214.57" cy="374.8" r="0.7" fill="#d0d0d0"/>
<circle cx="224.29" cy="374.8" r="0.7" fill="#d0d0d0"/>
<circle cx="234" cy="374.8" r="0.7" fill="#d0d0d0"/>
<circle cx="243.71" cy="374.8" r="0.7" fill="#d0d0d0"/>
<circle cx="253.43" cy="374.8" r="0.7" fill="#d0d0d0"/>
<circle cx="263.14" cy="374.8" r="0.7" fill="#d0d0d0"/>
<circle cx="272.86" cy="374.8" r="0.7" fill="#d0d0d0"/>
<circle cx="282.57" cy="374.8" r="0.7" fill="#d0d0d0"/>
<circle cx="292.29" cy="374.8" r="0.7" fill="#d0d0d0"/>
<circle cx="302" cy="374.8" r="0.7" fill="#d0d0d0"/>
<circle cx="311.72" cy="374.8" r="0.7" fill="#d0d0d0"/>
<circle cx="321.44" cy="374.8" r="0.7" fill="#d0d0d0"/>
<text x="26" y="380.2" font-size="4.3" fill="#eccb3a" text-anchor="end" stroke="none">PF02466</text>
<line x1="27" y1="378.85" x2="28.3" y2="378.85" stroke="#333" stroke-width="0.7"/>
<circle cx="39.7" cy="378.85" r="0.7" fill="#d0d0d0"/>
<circle cx="49.42" cy="378.85" r="0.7" fill="#d0d0d0"/>
<circle cx="59.13" cy="378.85" r="0.7" fill="#d0d0d0"/>
<circle cx="68.84" cy="378.85" r="0.7" fill="#d0d0d0"/>
<circle cx="78.56" cy="378.85" r="0.7" fill="#d0d0d0"/>
<circle cx="88.28" cy="378.85" r="0.7" fill="#d0d0d0"/>
<circle cx="97.99" cy="378.85" r="0.7" fill="#d0d0d0"/>
<circle cx="107.7" cy="378.85" r="0.7" fill="#d0d0d0"/>
<circle cx="117.42" cy="378.85" r="0.7" fill="#d0d0d0"/>
<circle cx="127.14" cy="378.85" r="0.7" fill="#d0d0d0"/>
<circle cx="136.85" cy="378.85" r="0.7" fill="#d0d0d0"/>
<circle cx="146.56" cy="378.85" r="0.7" fill="#d0d0d0"/>
<circle cx="156.28" cy="378.85" r="0.7" fill="#d0d0d0"/>
<circle cx="166" cy="378.85" r="0.7" fill="#d0d0d0"/>
<circle cx="175.71" cy="378.85" r="0.7" fill="#d0d0d0"/>
<circle cx="185.43" cy="378.85" r="0.7" fill="#d0d0d0"/>
<circle cx="195.14" cy="378.85" r="0.7" fill="#d0d0d0"/>
<circle cx="204.86" cy="378.85" r="0.7" fill="#d0d0d0"/>
<circle cx="214.57" cy="378.85" r="0.7" fill="#d0d0d0"/>
<circle cx="224.29" cy="378.85" r="0.7" fill="#d0d0d0"/>
<circle cx="234" cy="378.85" r="0.7" fill="#d0d0d0"/>
<circle cx="243.71" cy="378.85" r="0.7" fill="#d0d0d0"/>
<circle cx="253.43" cy="378.85" r="0.7" fill="#d0d0d0"/>
<circle cx="263.14" cy="378.85" r="0.7" fill="#d0d0d0"/>
<circle cx="272.86" cy="378.85" r="0.7" fill="#d0d0d0"/>
<circle cx="282.57" cy="378.85" r="0.7" fill="#d0d0d0"/>
<circle cx="292.29" cy="378.85" r="0.7" fill="#d0d0d0"/>
<circle cx="302" cy="378.85" r="0.7" fill="#d0d0d0"/>
<circle cx="311.72" cy="378.85" r="0.7" fill="#d0d0d0"/>
<circle cx="321.44" cy="378.85" r="0.7" fill="#d0d0d0"/>
<text x="26" y="384.25" font-size="4.3" fill="#78c444" text-anchor="end" stroke="none">PF03193</text>
<line x1="27" y1="382.9" x2="28.3" y2="382.9" stroke="#333" stroke-width="0.7"/>
<circle cx="39.7" cy="382.9" r="0.7" fill="#d0d0d0"/>
<circle cx="49.42" cy="382.9" r="0.7" fill="#d0d0d0"/>
<circle cx="59.13" cy="382.9" r="0.7" fill="#d0d0d0"/>
<circle cx="68.84" cy="382.9" r="0.7" fill="#d0d0d0"/>
<circle cx="78.56" cy="382.9" r="0.7" fill="#d0d0d0"/>
<circle cx="88.28" cy="382.9" r="0.7" fill="#d0d0d0"/>
<circle cx="97.99" cy="382.9" r="0.7" fill="#d0d0d0"/>
<circle cx="107.7" cy="382.9" r="0.7" fill="#d0d0d0"/>
<circle cx="117.42" cy="382.9" r="0.7" fill="#d0d0d0"/>
<circle cx="127.14" cy="382.9" r="0.7" fill="#d0d0d0"/>
<circle cx="136.85" cy="382.9" r="0.7" fill="#d0d0d0"/>
<circle cx="146.56" cy="382.9" r="0.7" fill="#d0d0d0"/>
<circle cx="156.28" cy="382.9" r="0.7" fill="#d0d0d0"/>
<circle cx="166" cy="382.9" r="0.7" fill="#d0d0d0"/>
<circle cx="175.71" cy="382.9" r="0.7" fill="#d0d0d0"/>
<circle cx="185.43" cy="382.9" r="0.7" fill="#d0d0d0"/>
<circle cx="195.14" cy="382.9" r="0.7" fill="#d0d0d0"/>
<circle cx="204.86" cy="382.9" r="0.7" fill="#d0d0d0"/>
<circle cx="214.57" cy="382.9" r="0.7" fill="#d0d0d0"/>
<circle cx="224.29" cy="382.9" r="0.7" fill="#d0d0d0"/>
<circle cx="234" cy="382.9" r="0.7" fill="#d0d0d0"/>
<circle cx="243.71" cy="382.9" r="0.7" fill="#d0d0d0"/>
<circle cx="253.43" cy="382.9" r="0.7" fill="#d0d0d0"/>
<circle cx="263.14" cy="382.9" r="0.7" fill="#d0d0d0"/>
<circle cx="272.86" cy="382.9" r="0.7" fill="#d0d0d0"/>
<circle cx="282.57" cy="382.9" r="0.7" fill="#d0d0d0"/>
<circle cx="292.29" cy="382.9" r="0.7" fill="#d0d0d0"/>
<circle cx="302" cy="382.9" r="0.7" fill="#d0d0d0"/>
<circle cx="311.72" cy="382.9" r="0.7" fill="#d0d0d0"/>
<circle cx="321.44" cy="382.9" r="0.7" fill="#d0d0d0"/>
<text x="26" y="388.3" font-size="4.3" fill="#dc7478" text-anchor="end" stroke="none">PF07728</text>
<line x1="27" y1="386.95" x2="28.3" y2="386.95" stroke="#333" stroke-width="0.7"/>
<circle cx="39.7" cy="386.95" r="0.7" fill="#d0d0d0"/>
<circle cx="49.42" cy="386.95" r="0.7" fill="#d0d0d0"/>
<circle cx="59.13" cy="386.95" r="0.7" fill="#d0d0d0"/>
<circle cx="68.84" cy="386.95" r="0.7" fill="#d0d0d0"/>
<circle cx="78.56" cy="386.95" r="0.7" fill="#d0d0d0"/>
<circle cx="88.28" cy="386.95" r="0.7" fill="#d0d0d0"/>
<circle cx="97.99" cy="386.95" r="0.7" fill="#d0d0d0"/>
<circle cx="107.7" cy="386.95" r="0.7" fill="#d0d0d0"/>
<circle cx="117.42" cy="386.95" r="0.7" fill="#d0d0d0"/>
<circle cx="127.14" cy="386.95" r="0.7" fill="#d0d0d0"/>
<circle cx="136.85" cy="386.95" r="0.7" fill="#d0d0d0"/>
<circle cx="146.56" cy="386.95" r="0.7" fill="#d0d0d0"/>
<circle cx="156.28" cy="386.95" r="0.7" fill="#d0d0d0"/>
<circle cx="166" cy="386.95" r="0.7" fill="#d0d0d0"/>
<circle cx="175.71" cy="386.95" r="0.7" fill="#d0d0d0"/>
<circle cx="185.43" cy="386.95" r="0.7" fill="#d0d0d0"/>
<circle cx="195.14" cy="386.95" r="0.7" fill="#d0d0d0"/>
<circle cx="204.86" cy="386.95" r="0.7" fill="#d0d0d0"/>
<circle cx="214.57" cy="386.95" r="0.7" fill="#d0d0d0"/>
<circle cx="224.29" cy="386.95" r="0.7" fill="#d0d0d0"/>
<circle cx="234" cy="386.95" r="0.7" fill="#d0d0d0"/>
<circle cx="243.71" cy="386.95" r="0.7" fill="#d0d0d0"/>
<circle cx="253.43" cy="386.95" r="0.7" fill="#d0d0d0"/>
<circle cx="263.14" cy="386.95" r="0.7" fill="#d0d0d0"/>
<circle cx="272.86" cy="386.95" r="0.7" fill="#d0d0d0"/>
<circle cx="282.57" cy="386.95" r="0.7" fill="#d0d0d0"/>
<circle cx="292.29" cy="386.95" r="0.7" fill="#d0d0d0"/>
<circle cx="302" cy="386.95" r="0.7" fill="#d0d0d0"/>
<circle cx="311.72" cy="386.95" r="0.7" fill="#d0d0d0"/>
<circle cx="321.44" cy="386.95" r="0.7" fill="#d0d0d0"/>
<text x="26" y="392.35" font-size="4.3" fill="#dc7478" text-anchor="end" stroke="none">PF13181</text>
<line x1="27" y1="391" x2="28.3" y2="391" stroke="#333" stroke-width="0.7"/>
<circle cx="39.7" cy="391" r="0.7" fill="#d0d0d0"/>
<circle cx="49.42" cy="391" r="0.7" fill="#d0d0d0"/>
<circle cx="59.13" cy="391" r="0.7" fill="#d0d0d0"/>
<circle cx="68.84" cy="391" r="0.7" fill="#d0d0d0"/>
<circle cx="78.56" cy="391" r="0.7" fill="#d0d0d0"/>
<circle cx="88.28" cy="391" r="0.7" fill="#d0d0d0"/>
<circle cx="97.99" cy="391" r="0.7" fill="#d0d0d0"/>
<circle cx="107.7" cy="391" r="0.7" fill="#d0d0d0"/>
<circle cx="117.42" cy="391" r="0.7" fill="#d0d0d0"/>
<circle cx="127.14" cy="391" r="0.7" fill="#d0d0d0"/>
<circle cx="136.85" cy="391" r="0.7" fill="#d0d0d0"/>
<circle cx="146.56" cy="391" r="0.7" fill="#d0d0d0"/>
<circle cx="156.28" cy="391" r="0.7" fill="#d0d0d0"/>
<circle cx="166" cy="391" r="0.7" fill="#d0d0d0"/>
<circle cx="175.71" cy="391" r="0.7" fill="#d0d0d0"/>
<circle cx="185.43" cy="391" r="0.7" fill="#d0d0d0"/>
<circle cx="195.14" cy="391" r="0.7" fill="#d0d0d0"/>
<circle cx="204.86" cy="391" r="0.7" fill="#d0d0d0"/>
<circle cx="214.57" cy="391" r="0.7" fill="#d0d0d0"/>
<circle cx="224.29" cy="391" r="0.7" fill="#d0d0d0"/>
<circle cx="234" cy="391" r="0.7" fill="#d0d0d0"/>
<circle cx="243.71" cy="391" r="0.7" fill="#d0d0d0"/>
<circle cx="253.43" cy="391" r="0.7" fill="#d0d0d0"/>
<circle cx="263.14" cy="391" r="0.7" fill="#d0d0d0"/>
<circle cx="272.86" cy="391" r="0.7" fill="#d0d0d0"/>
<circle cx="282.57" cy="391" r="0.7" fill="#d0d0d0"/>
<circle cx="292.29" cy="391" r="0.7" fill="#d0d0d0"/>
<circle cx="302" cy="391" r="0.7" fill="#d0d0d0"/>
<circle cx="311.72" cy="391" r="0.7" fill="#d0d0d0"/>
<circle cx="321.44" cy="391" r="0.7" fill="#d0d0d0"/>
<text x="26" y="396.4" font-size="4.3" fill="#6494ca" text-anchor="end" stroke="none">PF00013</text>
<line x1="27" y1="395.05" x2="28.3" y2="395.05" stroke="#333" stroke-width="0.7"/>
<circle cx="39.7" cy="395.05" r="0.7" fill="#d0d0d0"/>
<circle cx="49.42" cy="395.05" r="0.7" fill="#d0d0d0"/>
<circle cx="59.13" cy="395.05" r="0.7" fill="#d0d0d0"/>
<circle cx="68.84" cy="395.05" r="0.7" fill="#d0d0d0"/>
<circle cx="78.56" cy="395.05" r="0.7" fill="#d0d0d0"/>
<circle cx="88.28" cy="395.05" r="0.7" fill="#d0d0d0"/>
<circle cx="97.99" cy="395.05" r="0.7" fill="#d0d0d0"/>
<circle cx="107.7" cy="395.05" r="0.7" fill="#d0d0d0"/>
<circle cx="117.42" cy="395.05" r="0.7" fill="#d0d0d0"/>
<circle cx="127.14" cy="395.05" r="0.7" fill="#d0d0d0"/>
<circle cx="136.85" cy="395.05" r="0.7" fill="#d0d0d0"/>
<circle cx="146.56" cy="395.05" r="0.7" fill="#d0d0d0"/>
<circle cx="156.28" cy="395.05" r="0.7" fill="#d0d0d0"/>
<circle cx="166" cy="395.05" r="0.7" fill="#d0d0d0"/>
<circle cx="175.71" cy="395.05" r="0.7" fill="#d0d0d0"/>
<circle cx="185.43" cy="395.05" r="0.7" fill="#d0d0d0"/>
<circle cx="195.14" cy="395.05" r="0.7" fill="#d0d0d0"/>
<circle cx="204.86" cy="395.05" r="0.7" fill="#d0d0d0"/>
<circle cx="214.57" cy="395.05" r="0.7" fill="#d0d0d0"/>
<circle cx="224.29" cy="395.05" r="0.7" fill="#d0d0d0"/>
<circle cx="234" cy="395.05" r="0.7" fill="#d0d0d0"/>
<circle cx="243.71" cy="395.05" r="0.7" fill="#d0d0d0"/>
<circle cx="253.43" cy="395.05" r="0.7" fill="#d0d0d0"/>
<circle cx="263.14" cy="395.05" r="0.7" fill="#d0d0d0"/>
<circle cx="272.86" cy="395.05" r="0.7" fill="#d0d0d0"/>
<circle cx="282.57" cy="395.05" r="0.7" fill="#d0d0d0"/>
<circle cx="292.29" cy="395.05" r="0.7" fill="#d0d0d0"/>
<circle cx="302" cy="395.05" r="0.7" fill="#d0d0d0"/>
<circle cx="311.72" cy="395.05" r="0.7" fill="#d0d0d0"/>
<circle cx="321.44" cy="395.05" r="0.7" fill="#d0d0d0"/>
<text x="26" y="400.45" font-size="4.3" fill="#6494ca" text-anchor="end" stroke="none">PF16367</text>
<line x1="27" y1="399.1" x2="28.3" y2="399.1" stroke="#333" stroke-width="0.7"/>
<circle cx="39.7" cy="399.1" r="0.7" fill="#d0d0d0"/>
<circle cx="49.42" cy="399.1" r="0.7" fill="#d0d0d0"/>
<circle cx="59.13" cy="399.1" r="0.7" fill="#d0d0d0"/>
<circle cx="68.84" cy="399.1" r="0.7" fill="#d0d0d0"/>
<circle cx="78.56" cy="399.1" r="0.7" fill="#d0d0d0"/>
<circle cx="88.28" cy="399.1" r="0.7" fill="#d0d0d0"/>
<circle cx="97.99" cy="399.1" r="0.7" fill="#d0d0d0"/>
<circle cx="107.7" cy="399.1" r="0.7" fill="#d0d0d0"/>
<circle cx="117.42" cy="399.1" r="0.7" fill="#d0d0d0"/>
<circle cx="127.14" cy="399.1" r="0.7" fill="#d0d0d0"/>
<circle cx="136.85" cy="399.1" r="0.7" fill="#d0d0d0"/>
<circle cx="146.56" cy="399.1" r="0.7" fill="#d0d0d0"/>
<circle cx="156.28" cy="399.1" r="0.7" fill="#d0d0d0"/>
<circle cx="166" cy="399.1" r="0.7" fill="#d0d0d0"/>
<circle cx="175.71" cy="399.1" r="0.7" fill="#d0d0d0"/>
<circle cx="185.43" cy="399.1" r="0.7" fill="#d0d0d0"/>
<circle cx="195.14" cy="399.1" r="0.7" fill="#d0d0d0"/>
<circle cx="204.86" cy="399.1" r="0.7" fill="#d0d0d0"/>
<circle cx="214.57" cy="399.1" r="0.7" fill="#d0d0d0"/>
<circle cx="224.29" cy="399.1" r="0.7" fill="#d0d0d0"/>
<circle cx="234" cy="399.1" r="0.7" fill="#d0d0d0"/>
<circle cx="243.71" cy="399.1" r="0.7" fill="#d0d0d0"/>
<circle cx="253.43" cy="399.1" r="0.7" fill="#d0d0d0"/>
<circle cx="263.14" cy="399.1" r="0.7" fill="#d0d0d0"/>
<circle cx="272.86" cy="399.1" r="0.7" fill="#d0d0d0"/>
<circle cx="282.57" cy="399.1" r="0.7" fill="#d0d0d0"/>
<circle cx="292.29" cy="399.1" r="0.7" fill="#d0d0d0"/>
<circle cx="302" cy="399.1" r="0.7" fill="#d0d0d0"/>
<circle cx="311.72" cy="399.1" r="0.7" fill="#d0d0d0"/>
<circle cx="321.44" cy="399.1" r="0.7" fill="#d0d0d0"/>
<text x="26" y="404.5" font-size="4.3" fill="#dc7478" text-anchor="end" stroke="none">PF00004</text>
<line x1="27" y1="403.15" x2="28.3" y2="403.15" stroke="#333" stroke-width="0.7"/>
<circle cx="39.7" cy="403.15" r="0.7" fill="#d0d0d0"/>
<circle cx="49.42" cy="403.15" r="0.7" fill="#d0d0d0"/>
<circle cx="59.13" cy="403.15" r="0.7" fill="#d0d0d0"/>
<circle cx="68.84" cy="403.15" r="0.7" fill="#d0d0d0"/>
<circle cx="78.56" cy="403.15" r="0.7" fill="#d0d0d0"/>
<circle cx="88.28" cy="403.15" r="0.7" fill="#d0d0d0"/>
<circle cx="97.99" cy="403.15" r="0.7" fill="#d0d0d0"/>
<circle cx="107.7" cy="403.15" r="0.7" fill="#d0d0d0"/>
<circle cx="117.42" cy="403.15" r="0.7" fill="#d0d0d0"/>
<circle cx="127.14" cy="403.15" r="0.7" fill="#d0d0d0"/>
<circle cx="136.85" cy="403.15" r="0.7" fill="#d0d0d0"/>
<circle cx="146.56" cy="403.15" r="0.7" fill="#d0d0d0"/>
<circle cx="156.28" cy="403.15" r="0.7" fill="#d0d0d0"/>
<circle cx="166" cy="403.15" r="0.7" fill="#d0d0d0"/>
<circle cx="175.71" cy="403.15" r="0.7" fill="#d0d0d0"/>
<circle cx="185.43" cy="403.15" r="0.7" fill="#d0d0d0"/>
<circle cx="195.14" cy="403.15" r="0.7" fill="#d0d0d0"/>
<circle cx="204.86" cy="403.15" r="0.7" fill="#d0d0d0"/>
<circle cx="214.57" cy="403.15" r="0.7" fill="#d0d0d0"/>
<circle cx="224.29" cy="403.15" r="0.7" fill="#d0d0d0"/>
<circle cx="234" cy="403.15" r="0.7" fill="#d0d0d0"/>
<circle cx="243.71" cy="403.15" r="0.7" fill="#d0d0d0"/>
<circle cx="253.43" cy="403.15" r="0.7" fill="#d0d0d0"/>
<circle cx="263.14" cy="403.15" r="0.7" fill="#d0d0d0"/>
<circle cx="272.86" cy="403.15" r="0.7" fill="#d0d0d0"/>
<circle cx="282.57" cy="403.15" r="0.7" fill="#d0d0d0"/>
<circle cx="292.29" cy="403.15" r="0.7" fill="#d0d0d0"/>
<circle cx="302" cy="403.15" r="0.7" fill="#d0d0d0"/>
<circle cx="311.72" cy="403.15" r="0.7" fill="#d0d0d0"/>
<circle cx="321.44" cy="403.15" r="0.7" fill="#d0d0d0"/>
<text x="26" y="408.55" font-size="4.3" fill="#78c444" text-anchor="end" stroke="none">PF07926</text>
<line x1="27" y1="407.2" x2="28.3" y2="407.2" stroke="#333" stroke-width="0.7"/>
<circle cx="39.7" cy="407.2" r="0.7" fill="#d0d0d0"/>
<circle cx="49.42" cy="407.2" r="0.7" fill="#d0d0d0"/>
<circle cx="59.13" cy="407.2" r="0.7" fill="#d0d0d0"/>
<circle cx="68.84" cy="407.2" r="0.7" fill="#d0d0d0"/>
<circle cx="78.56" cy="407.2" r="0.7" fill="#d0d0d0"/>
<circle cx="88.28" cy="407.2" r="0.7" fill="#d0d0d0"/>
<circle cx="97.99" cy="407.2" r="0.7" fill="#d0d0d0"/>
<circle cx="107.7" cy="407.2" r="0.7" fill="#d0d0d0"/>
<circle cx="117.42" cy="407.2" r="0.7" fill="#d0d0d0"/>
<circle cx="127.14" cy="407.2" r="0.7" fill="#d0d0d0"/>
<circle cx="136.85" cy="407.2" r="0.7" fill="#d0d0d0"/>
<circle cx="146.56" cy="407.2" r="0.7" fill="#d0d0d0"/>
<circle cx="156.28" cy="407.2" r="0.7" fill="#d0d0d0"/>
<circle cx="166" cy="407.2" r="0.7" fill="#d0d0d0"/>
<circle cx="175.71" cy="407.2" r="0.7" fill="#d0d0d0"/>
<circle cx="185.43" cy="407.2" r="0.7" fill="#d0d0d0"/>
<circle cx="195.14" cy="407.2" r="0.7" fill="#d0d0d0"/>
<circle cx="204.86" cy="407.2" r="0.7" fill="#d0d0d0"/>
<circle cx="214.57" cy="407.2" r="0.7" fill="#d0d0d0"/>
<circle cx="224.29" cy="407.2" r="0.7" fill="#d0d0d0"/>
<circle cx="234" cy="407.2" r="0.7" fill="#d0d0d0"/>
<circle cx="243.71" cy="407.2" r="0.7" fill="#d0d0d0"/>
<circle cx="253.43" cy="407.2" r="0.7" fill="#d0d0d0"/>
<circle cx="263.14" cy="407.2" r="0.7" fill="#d0d0d0"/>
<circle cx="272.86" cy="407.2" r="0.7" fill="#d0d0d0"/>
<circle cx="282.57" cy="407.2" r="0.7" fill="#d0d0d0"/>
<circle cx="292.29" cy="407.2" r="0.7" fill="#d0d0d0"/>
<circle cx="302" cy="407.2" r="0.7" fill="#d0d0d0"/>
<circle cx="311.72" cy="407.2" r="0.7" fill="#d0d0d0"/>
<circle cx="321.44" cy="407.2" r="0.7" fill="#d0d0d0"/>
<text x="26" y="412.6" font-size="4.3" fill="#78c444" text-anchor="end" stroke="none">PF08477</text>
<line x1="27" y1="411.25" x2="28.3" y2="411.25" stroke="#333" stroke-width="0.7"/>
<circle cx="39.7" cy="411.25" r="0.7" fill="#d0d0d0"/>
<circle cx="49.42" cy="411.25" r="0.7" fill="#d0d0d0"/>
<circle cx="59.13" cy="411.25" r="0.7" fill="#d0d0d0"/>
<circle cx="68.84" cy="411.25" r="0.7" fill="#d0d0d0"/>
<circle cx="78.56" cy="411.25" r="0.7" fill="#d0d0d0"/>
<circle cx="88.28" cy="411.25" r="0.7" fill="#d0d0d0"/>
<circle cx="97.99" cy="411.25" r="0.7" fill="#d0d0d0"/>
<circle cx="107.7" cy="411.25" r="0.7" fill="#d0d0d0"/>
<circle cx="117.42" cy="411.25" r="0.7" fill="#d0d0d0"/>
<circle cx="127.14" cy="411.25" r="0.7" fill="#d0d0d0"/>
<circle cx="136.85" cy="411.25" r="0.7" fill="#d0d0d0"/>
<circle cx="146.56" cy="411.25" r="0.7" fill="#d0d0d0"/>
<circle cx="156.28" cy="411.25" r="0.7" fill="#d0d0d0"/>
<circle cx="166" cy="411.25" r="0.7" fill="#d0d0d0"/>
<circle cx="175.71" cy="411.25" r="0.7" fill="#d0d0d0"/>
<circle cx="185.43" cy="411.25" r="0.7" fill="#d0d0d0"/>
<circle cx="195.14" cy="411.25" r="0.7" fill="#d0d0d0"/>
<circle cx="204.86" cy="411.25" r="0.7" fill="#d0d0d0"/>
<circle cx="214.57" cy="411.25" r="0.7" fill="#d0d0d0"/>
<circle cx="224.29" cy="411.25" r="0.7" fill="#d0d0d0"/>
<circle cx="234" cy="411.25" r="0.7" fill="#d0d0d0"/>
<circle cx="243.71" cy="411.25" r="0.7" fill="#d0d0d0"/>
<circle cx="253.43" cy="411.25" r="0.7" fill="#d0d0d0"/>
<circle cx="263.14" cy="411.25" r="0.7" fill="#d0d0d0"/>
<circle cx="272.86" cy="411.25" r="0.7" fill="#d0d0d0"/>
<circle cx="282.57" cy="411.25" r="0.7" fill="#d0d0d0"/>
<circle cx="292.29" cy="411.25" r="0.7" fill="#d0d0d0"/>
<circle cx="302" cy="411.25" r="0.7" fill="#d0d0d0"/>
<circle cx="311.72" cy="411.25" r="0.7" fill="#d0d0d0"/>
<circle cx="321.44" cy="411.25" r="0.7" fill="#d0d0d0"/>
<text x="26" y="416.65" font-size="4.3" fill="#78c444" text-anchor="end" stroke="none">PF00071</text>
<line x1="27" y1="415.3" x2="28.3" y2="415.3" stroke="#333" stroke-width="0.7"/>
<circle cx="39.7" cy="415.3" r="0.7" fill="#d0d0d0"/>
<circle cx="49.42" cy="415.3" r="0.7" fill="#d0d0d0"/>
<circle cx="59.13" cy="415.3" r="0.7" fill="#d0d0d0"/>
<circle cx="68.84" cy="415.3" r="0.7" fill="#d0d0d0"/>
<circle cx="78.56" cy="415.3" r="0.7" fill="#d0d0d0"/>
<circle cx="88.28" cy="415.3" r="0.7" fill="#d0d0d0"/>
<circle cx="97.99" cy="415.3" r="0.7" fill="#d0d0d0"/>
<circle cx="107.7" cy="415.3" r="0.7" fill="#d0d0d0"/>
<circle cx="117.42" cy="415.3" r="0.7" fill="#d0d0d0"/>
<circle cx="127.14" cy="415.3" r="0.7" fill="#d0d0d0"/>
<circle cx="136.85" cy="415.3" r="0.7" fill="#d0d0d0"/>
<circle cx="146.56" cy="415.3" r="0.7" fill="#d0d0d0"/>
<circle cx="156.28" cy="415.3" r="0.7" fill="#d0d0d0"/>
<circle cx="166" cy="415.3" r="0.7" fill="#d0d0d0"/>
<circle cx="175.71" cy="415.3" r="0.7" fill="#d0d0d0"/>
<circle cx="185.43" cy="415.3" r="0.7" fill="#d0d0d0"/>
<circle cx="195.14" cy="415.3" r="0.7" fill="#d0d0d0"/>
<circle cx="204.86" cy="415.3" r="0.7" fill="#d0d0d0"/>
<circle cx="214.57" cy="415.3" r="0.7" fill="#d0d0d0"/>
<circle cx="224.29" cy="415.3" r="0.7" fill="#d0d0d0"/>
<circle cx="234" cy="415.3" r="0.7" fill="#d0d0d0"/>
<circle cx="243.71" cy="415.3" r="0.7" fill="#d0d0d0"/>
<circle cx="253.43" cy="415.3" r="0.7" fill="#d0d0d0"/>
<circle cx="263.14" cy="415.3" r="0.7" fill="#d0d0d0"/>
<circle cx="272.86" cy="415.3" r="0.7" fill="#d0d0d0"/>
<circle cx="282.57" cy="415.3" r="0.7" fill="#d0d0d0"/>
<circle cx="292.29" cy="415.3" r="0.7" fill="#d0d0d0"/>
<circle cx="302" cy="415.3" r="0.7" fill="#d0d0d0"/>
<circle cx="311.72" cy="415.3" r="0.7" fill="#d0d0d0"/>
<circle cx="321.44" cy="415.3" r="0.7" fill="#d0d0d0"/>
<text x="26" y="420.7" font-size="4.3" fill="#78c444" text-anchor="end" stroke="none">PF00025</text>
<line x1="27" y1="419.35" x2="28.3" y2="419.35" stroke="#333" stroke-width="0.7"/>
<circle cx="39.7" cy="419.35" r="0.7" fill="#d0d0d0"/>
<circle cx="49.42" cy="419.35" r="0.7" fill="#d0d0d0"/>
<circle cx="59.13" cy="419.35" r="0.7" fill="#d0d0d0"/>
<circle cx="68.84" cy="419.35" r="0.7" fill="#d0d0d0"/>
<circle cx="78.56" cy="419.35" r="0.7" fill="#d0d0d0"/>
<circle cx="88.28" cy="419.35" r="0.7" fill="#d0d0d0"/>
<circle cx="97.99" cy="419.35" r="0.7" fill="#d0d0d0"/>
<circle cx="107.7" cy="419.35" r="0.7" fill="#d0d0d0"/>
<circle cx="117.42" cy="419.35" r="0.7" fill="#d0d0d0"/>
<circle cx="127.14" cy="419.35" r="0.7" fill="#d0d0d0"/>
<circle cx="136.85" cy="419.35" r="0.7" fill="#d0d0d0"/>
<circle cx="146.56" cy="419.35" r="0.7" fill="#d0d0d0"/>
<circle cx="156.28" cy="419.35" r="0.7" fill="#d0d0d0"/>
<circle cx="166" cy="419.35" r="0.7" fill="#d0d0d0"/>
<circle cx="175.71" cy="419.35" r="0.7" fill="#d0d0d0"/>
<circle cx="185.43" cy="419.35" r="0.7" fill="#d0d0d0"/>
<circle cx="195.14" cy="419.35" r="0.7" fill="#d0d0d0"/>
<circle cx="204.86" cy="419.35" r="0.7" fill="#d0d0d0"/>
<circle cx="214.57" cy="419.35" r="0.7" fill="#d0d0d0"/>
<circle cx="224.29" cy="419.35" r="0.7" fill="#d0d0d0"/>
<circle cx="234" cy="419.35" r="0.7" fill="#d0d0d0"/>
<circle cx="243.71" cy="419.35" r="0.7" fill="#d0d0d0"/>
<circle cx="253.43" cy="419.35" r="0.7" fill="#d0d0d0"/>
<circle cx="263.14" cy="419.35" r="0.7" fill="#d0d0d0"/>
<circle cx="272.86" cy="419.35" r="0.7" fill="#d0d0d0"/>
<circle cx="282.57" cy="419.35" r="0.7" fill="#d0d0d0"/>
<circle cx="292.29" cy="419.35" r="0.7" fill="#d0d0d0"/>
<circle cx="302" cy="419.35" r="0.7" fill="#d0d0d0"/>
<circle cx="311.72" cy="419.35" r="0.7" fill="#d0d0d0"/>
<circle cx="321.44" cy="419.35" r="0.7" fill="#d0d0d0"/>
<text x="26" y="424.75" font-size="4.3" fill="#6494ca" text-anchor="end" stroke="none">PF00076</text>
<line x1="27" y1="423.4" x2="28.3" y2="423.4" stroke="#333" stroke-width="0.7"/>
<circle cx="39.7" cy="423.4" r="0.7" fill="#d0d0d0"/>
<circle cx="49.42" cy="423.4" r="0.7" fill="#d0d0d0"/>
<circle cx="59.13" cy="423.4" r="0.7" fill="#d0d0d0"/>
<circle cx="68.84" cy="423.4" r="0.7" fill="#d0d0d0"/>
<circle cx="78.56" cy="423.4" r="0.7" fill="#d0d0d0"/>
<circle cx="88.28" cy="423.4" r="0.7" fill="#d0d0d0"/>
<circle cx="97.99" cy="423.4" r="0.7" fill="#d0d0d0"/>
<circle cx="107.7" cy="423.4" r="0.7" fill="#d0d0d0"/>
<circle cx="117.42" cy="423.4" r="0.7" fill="#d0d0d0"/>
<circle cx="127.14" cy="423.4" r="0.7" fill="#d0d0d0"/>
<circle cx="136.85" cy="423.4" r="0.7" fill="#d0d0d0"/>
<circle cx="146.56" cy="423.4" r="0.7" fill="#d0d0d0"/>
<circle cx="156.28" cy="423.4" r="0.7" fill="#d0d0d0"/>
<circle cx="166" cy="423.4" r="0.7" fill="#d0d0d0"/>
<circle cx="175.71" cy="423.4" r="0.7" fill="#d0d0d0"/>
<circle cx="185.43" cy="423.4" r="0.7" fill="#d0d0d0"/>
<circle cx="195.14" cy="423.4" r="0.7" fill="#d0d0d0"/>
<circle cx="204.86" cy="423.4" r="0.7" fill="#d0d0d0"/>
<circle cx="214.57" cy="423.4" r="0.7" fill="#d0d0d0"/>
<circle cx="224.29" cy="423.4" r="0.7" fill="#d0d0d0"/>
<circle cx="234" cy="423.4" r="0.7" fill="#d0d0d0"/>
<circle cx="243.71" cy="423.4" r="0.7" fill="#d0d0d0"/>
<circle cx="253.43" cy="423.4" r="0.7" fill="#d0d0d0"/>
<circle cx="263.14" cy="423.4" r="0.7" fill="#d0d0d0"/>
<circle cx="272.86" cy="423.4" r="0.7" fill="#d0d0d0"/>
<circle cx="282.57" cy="423.4" r="0.7" fill="#d0d0d0"/>
<circle cx="292.29" cy="423.4" r="0.7" fill="#d0d0d0"/>
<circle cx="302" cy="423.4" r="0.7" fill="#d0d0d0"/>
<circle cx="311.72" cy="423.4" r="0.7" fill="#d0d0d0"/>
<circle cx="321.44" cy="423.4" r="0.7" fill="#d0d0d0"/>
<circle cx="39.7" cy="423.4" r="0.95" fill="#1e1e1e"/>
<line x1="49.42" y1="411.25" x2="49.42" y2="419.35" stroke="#777" stroke-width="0.8"/>
<circle cx="49.42" cy="411.25" r="0.95" fill="#1e1e1e"/>
<circle cx="49.42" cy="415.3" r="0.95" fill="#1e1e1e"/>
<circle cx="49.42" cy="419.35" r="0.95" fill="#1e1e1e"/>
<line x1="59.13" y1="399.1" x2="59.13" y2="423.4" stroke="#777" stroke-width="0.8"/>
<circle cx="59.13" cy="399.1" r="0.95" fill="#1e1e1e"/>
<circle cx="59.13" cy="423.4" r="0.95" fill="#1e1e1e"/>
<circle cx="68.84" cy="407.2" r="0.95" fill="#1e1e1e"/>
<circle cx="78.56" cy="395.05" r="0.95" fill="#1e1e1e"/>
<circle cx="88.28" cy="378.85" r="0.95" fill="#1e1e1e"/>
<line x1="97.99" y1="407.2" x2="97.99" y2="419.35" stroke="#777" stroke-width="0.8"/>
<circle cx="97.99" cy="407.2" r="0.95" fill="#1e1e1e"/>
<circle cx="97.99" cy="411.25" r="0.95" fill="#1e1e1e"/>
<circle cx="97.99" cy="415.3" r="0.95" fill="#1e1e1e"/>
<circle cx="97.99" cy="419.35" r="0.95" fill="#1e1e1e"/>
<circle cx="107.7" cy="362.65" r="0.95" fill="#1e1e1e"/>
<circle cx="117.42" cy="358.6" r="0.95" fill="#1e1e1e"/>
<line x1="127.14" y1="354.55" x2="127.14" y2="366.7" stroke="#777" stroke-width="0.8"/>
<circle cx="127.14" cy="354.55" r="0.95" fill="#1e1e1e"/>
<circle cx="127.14" cy="366.7" r="0.95" fill="#1e1e1e"/>
<circle cx="136.85" cy="419.35" r="0.95" fill="#1e1e1e"/>
<circle cx="146.56" cy="346.45" r="0.95" fill="#1e1e1e"/>
<circle cx="156.28" cy="374.8" r="0.95" fill="#1e1e1e"/>
<line x1="166" y1="382.9" x2="166" y2="419.35" stroke="#777" stroke-width="0.8"/>
<circle cx="166" cy="382.9" r="0.95" fill="#1e1e1e"/>
<circle cx="166" cy="411.25" r="0.95" fill="#1e1e1e"/>
<circle cx="166" cy="415.3" r="0.95" fill="#1e1e1e"/>
<circle cx="166" cy="419.35" r="0.95" fill="#1e1e1e"/>
<circle cx="175.71" cy="334.3" r="0.95" fill="#1e1e1e"/>
<line x1="185.43" y1="338.35" x2="185.43" y2="374.8" stroke="#777" stroke-width="0.8"/>
<circle cx="185.43" cy="338.35" r="0.95" fill="#1e1e1e"/>
<circle cx="185.43" cy="374.8" r="0.95" fill="#1e1e1e"/>
<line x1="195.14" y1="370.75" x2="195.14" y2="403.15" stroke="#777" stroke-width="0.8"/>
<circle cx="195.14" cy="370.75" r="0.95" fill="#1e1e1e"/>
<circle cx="195.14" cy="403.15" r="0.95" fill="#1e1e1e"/>
<circle cx="204.86" cy="330.25" r="0.95" fill="#1e1e1e"/>
<circle cx="214.57" cy="403.15" r="0.95" fill="#1e1e1e"/>
<circle cx="224.29" cy="326.2" r="0.95" fill="#1e1e1e"/>
<circle cx="234" cy="322.15" r="0.95" fill="#1e1e1e"/>
<circle cx="243.71" cy="318.1" r="0.95" fill="#1e1e1e"/>
<circle cx="253.43" cy="310" r="0.95" fill="#1e1e1e"/>
<line x1="263.14" y1="305.95" x2="263.14" y2="342.4" stroke="#777" stroke-width="0.8"/>
<circle cx="263.14" cy="305.95" r="0.95" fill="#1e1e1e"/>
<circle cx="263.14" cy="342.4" r="0.95" fill="#1e1e1e"/>
<circle cx="272.86" cy="342.4" r="0.95" fill="#1e1e1e"/>
<line x1="282.57" y1="391" x2="282.57" y2="403.15" stroke="#777" stroke-width="0.8"/>
<circle cx="282.57" cy="391" r="0.95" fill="#1e1e1e"/>
<circle cx="282.57" cy="403.15" r="0.95" fill="#1e1e1e"/>
<line x1="292.29" y1="350.5" x2="292.29" y2="403.15" stroke="#777" stroke-width="0.8"/>
<circle cx="292.29" cy="350.5" r="0.95" fill="#1e1e1e"/>
<circle cx="292.29" cy="370.75" r="0.95" fill="#1e1e1e"/>
<circle cx="292.29" cy="386.95" r="0.95" fill="#1e1e1e"/>
<circle cx="292.29" cy="391" r="0.95" fill="#1e1e1e"/>
<circle cx="292.29" cy="403.15" r="0.95" fill="#1e1e1e"/>
<line x1="302" y1="382.9" x2="302" y2="407.2" stroke="#777" stroke-width="0.8"/>
<circle cx="302" cy="382.9" r="0.95" fill="#1e1e1e"/>
<circle cx="302" cy="407.2" r="0.95" fill="#1e1e1e"/>
<line x1="311.72" y1="395.05" x2="311.72" y2="423.4" stroke="#777" stroke-width="0.8"/>
<circle cx="311.72" cy="395.05" r="0.95" fill="#1e1e1e"/>
<circle cx="311.72" cy="423.4" r="0.95" fill="#1e1e1e"/>
<line x1="321.44" y1="285.7" x2="321.44" y2="301.9" stroke="#777" stroke-width="0.8"/>
<circle cx="321.44" cy="285.7" r="0.95" fill="#1e1e1e"/>
<circle cx="321.44" cy="289.75" r="0.95" fill="#1e1e1e"/>
<circle cx="321.44" cy="293.8" r="0.95" fill="#1e1e1e"/>
<circle cx="321.44" cy="301.9" r="0.95" fill="#1e1e1e"/>
<text x="218.5" y="190.2" font-size="12.5" fill="#000" stroke="#000" stroke-width="0.2">D</text>
<path d="M261 226.7 L286.2 226.7 A25.2 25.2 0 0 0 269.62 203.02 Z" fill="#66c526" stroke="#262626" stroke-width="0.9"/>
<path d="M261 226.7 L269.62 203.02 A25.2 25.2 0 0 0 252.38 203.02 Z" fill="#fbd311" stroke="#262626" stroke-width="0.9"/>
<path d="M261 226.7 L252.38 203.02 A25.2 25.2 0 0 0 237.32 218.08 Z" fill="#4a87c0" stroke="#262626" stroke-width="0.9"/>
<path d="M261 226.7 L237.32 218.08 A25.2 25.2 0 0 0 277.2 246 Z" fill="#d6585b" stroke="#262626" stroke-width="0.9"/>
<path d="M261 226.7 L277.2 246 A25.2 25.2 0 0 0 286.2 226.7 Z" fill="#3b3996" stroke="#262626" stroke-width="0.9"/>
<line x1="261.4" y1="196" x2="261.4" y2="201.2" stroke="#222" stroke-width="0.85"/>
<line x1="238.8" y1="206.1" x2="241.8" y2="209.1" stroke="#222" stroke-width="0.85"/>
<line x1="285" y1="214.4" x2="288.6" y2="211.7" stroke="#222" stroke-width="0.85"/>
<line x1="285.6" y1="234.4" x2="289.2" y2="236.8" stroke="#222" stroke-width="0.85"/>
<line x1="247.1" y1="248.2" x2="245" y2="251.2" stroke="#222" stroke-width="0.85"/>
<text x="265.4" y="185.2" font-size="7" fill="#111" text-anchor="middle" stroke="#111" stroke-width="0.25">Mitochondria</text>
<text x="265.6" y="193.5" font-size="7" fill="#111" text-anchor="middle" stroke="#111" stroke-width="0.25">(n=4)</text>
<text x="222.8" y="205.3" font-size="7" fill="#111" text-anchor="middle" stroke="#111" stroke-width="0.25">Nucleus</text>
<text x="222.9" y="213.7" font-size="7" fill="#111" text-anchor="middle" stroke="#111" stroke-width="0.25">(n=5)</text>
<text x="307.7" y="208.8" font-size="7" fill="#111" text-anchor="middle" stroke="#111" stroke-width="0.25">Secretory</text>
<text x="307.7" y="216.9" font-size="7" fill="#111" text-anchor="middle" stroke="#111" stroke-width="0.25">(n=7)</text>
<text x="300.3" y="247.9" font-size="7" fill="#111" text-anchor="middle" stroke="#111" stroke-width="0.25">Ribosome</text>
<text x="300.3" y="256" font-size="7" fill="#111" text-anchor="middle" stroke="#111" stroke-width="0.25">(n=5)</text>
<text x="240.4" y="259.2" font-size="7" fill="#111" text-anchor="middle" stroke="#111" stroke-width="0.25">Cytosol</text>
<text x="240.4" y="266.9" font-size="7" fill="#111" text-anchor="middle" stroke="#111" stroke-width="0.25">(n=15)</text>
<text x="340.6" y="279" font-size="12" fill="#000" stroke="#000" stroke-width="0.2">E</text>
<text x="374" y="270" font-size="5.3" fill="#222" text-anchor="middle" stroke="#222" stroke-width="0.15">WASH</text>
<line x1="366" y1="275.5" x2="382.2" y2="275.5" stroke="#a8b5da" stroke-width="1.3"/>
<text x="440" y="268.8" font-size="5" fill="#222" text-anchor="middle" font-style="italic" stroke="#222" stroke-width="0.14">Retromer</text>
<line x1="396.3" y1="275.5" x2="478.8" y2="275.5" stroke="#a8b5da" stroke-width="1.3"/>
<text x="353.45" y="296" font-size="5.2" fill="#111" transform="rotate(-45 353.45 296)" stroke="#111" stroke-width="0.15">RAB7A</text>
<text x="363.76" y="296" font-size="5.2" fill="#111" transform="rotate(-45 363.76 296)" stroke="#111" stroke-width="0.15">WASHC4</text>
<text x="374.07" y="296" font-size="5.2" fill="#111" transform="rotate(-45 374.07 296)" stroke="#111" stroke-width="0.15">WASHC5</text>
<text x="384.38" y="296" font-size="5.2" fill="#111" transform="rotate(-45 384.38 296)" stroke="#111" stroke-width="0.15">CCDC53</text>
<text x="394.69" y="296" font-size="5.2" fill="#111" transform="rotate(-45 394.69 296)" stroke="#111" stroke-width="0.15">SNX27</text>
<text x="405" y="296" font-size="5.2" fill="#111" transform="rotate(-45 405 296)" stroke="#111" stroke-width="0.15">SNX6</text>
<text x="415.31" y="296" font-size="5.2" fill="#111" transform="rotate(-45 415.31 296)" stroke="#111" stroke-width="0.15">SNX5</text>
<text x="425.62" y="296" font-size="5.2" fill="#111" transform="rotate(-45 425.62 296)" stroke="#111" stroke-width="0.15">SNX3</text>
<text x="435.94" y="296" font-size="5.2" fill="#111" transform="rotate(-45 435.94 296)" stroke="#111" stroke-width="0.15">SNX2</text>
<text x="446.25" y="296" font-size="5.2" fill="#111" transform="rotate(-45 446.25 296)" stroke="#111" stroke-width="0.15">SNX1</text>
<text x="456.56" y="296" font-size="5.2" fill="#111" transform="rotate(-45 456.56 296)" stroke="#111" stroke-width="0.15">VPS29</text>
<text x="466.87" y="296" font-size="5.2" fill="#111" transform="rotate(-45 466.87 296)" stroke="#111" stroke-width="0.15">VPS35</text>
<text x="477.18" y="296" font-size="5.2" fill="#111" transform="rotate(-45 477.18 296)" stroke="#111" stroke-width="0.15">VPS26A</text>
<rect x="461.11" y="298.8" width="10.31" height="8.94" fill="#d65658"/>
<rect x="471.42" y="307.74" width="10.31" height="8.94" fill="#d65658"/>
<rect x="450.8" y="316.68" width="10.31" height="8.94" fill="#d65658"/>
<rect x="388.94" y="325.62" width="10.31" height="8.94" fill="#e2e2e2"/>
<rect x="399.25" y="325.62" width="10.31" height="8.94" fill="#d65658"/>
<rect x="409.56" y="325.62" width="10.31" height="8.94" fill="#d65658"/>
<rect x="419.87" y="325.62" width="10.31" height="8.94" fill="#5ecb1e"/>
<rect x="430.18" y="325.62" width="10.31" height="8.94" fill="#d65658"/>
<rect x="440.49" y="325.62" width="10.31" height="8.94" fill="#d65658"/>
<rect x="430.18" y="334.56" width="10.31" height="8.94" fill="#d65658"/>
<rect x="440.49" y="334.56" width="10.31" height="8.94" fill="#d65658"/>
<rect x="399.25" y="343.5" width="10.31" height="8.94" fill="#d65658"/>
<rect x="409.56" y="343.5" width="10.31" height="8.94" fill="#d65658"/>
<rect x="430.18" y="343.5" width="10.31" height="8.94" fill="#d65658"/>
<rect x="440.49" y="343.5" width="10.31" height="8.94" fill="#d65658"/>
<rect x="388.94" y="352.44" width="10.31" height="8.94" fill="#e2e2e2"/>
<rect x="388.94" y="361.38" width="10.31" height="8.94" fill="#e2e2e2"/>
<rect x="378.63" y="370.32" width="10.31" height="8.94" fill="#d65658"/>
<rect x="368.32" y="379.26" width="10.31" height="8.94" fill="#e2e2e2"/>
<rect x="358.01" y="388.2" width="10.31" height="8.94" fill="#4a84c2"/>
<rect x="358.01" y="397.14" width="10.31" height="8.94" fill="#4a84c2"/>
<rect x="358.01" y="406.08" width="10.31" height="8.94" fill="#4a84c2"/>
<rect x="347.7" y="415.02" width="10.31" height="8.94" fill="#5ecb1e"/>
<line x1="484" y1="303.27" x2="485.6" y2="303.27" stroke="#333" stroke-width="0.7"/>
<text x="487.3" y="305.02" font-size="5.15" fill="#111" font-style="italic" stroke="#111" stroke-width="0.14">Vps35</text>
<line x1="484" y1="312.21" x2="485.6" y2="312.21" stroke="#333" stroke-width="0.7"/>
<text x="487.3" y="313.96" font-size="5.15" fill="#111" font-style="italic" stroke="#111" stroke-width="0.14">Vps26</text>
<line x1="484" y1="321.15" x2="485.6" y2="321.15" stroke="#333" stroke-width="0.7"/>
<text x="487.3" y="322.9" font-size="5.15" fill="#111" font-style="italic" stroke="#111" stroke-width="0.14">Metallophos_2</text>
<line x1="484" y1="330.09" x2="485.6" y2="330.09" stroke="#333" stroke-width="0.7"/>
<text x="487.3" y="331.84" font-size="5.15" fill="#111" font-style="italic" stroke="#111" stroke-width="0.14">PX</text>
<line x1="484" y1="339.03" x2="485.6" y2="339.03" stroke="#333" stroke-width="0.7"/>
<text x="487.3" y="340.78" font-size="5.15" fill="#111" font-style="italic" stroke="#111" stroke-width="0.14">Sorting_nexin</text>
<line x1="484" y1="347.97" x2="485.6" y2="347.97" stroke="#333" stroke-width="0.7"/>
<text x="487.3" y="349.72" font-size="5.15" fill="#111" font-style="italic" stroke="#111" stroke-width="0.14">Vps5</text>
<line x1="484" y1="356.91" x2="485.6" y2="356.91" stroke="#333" stroke-width="0.7"/>
<text x="487.3" y="358.66" font-size="5.15" fill="#111" font-style="italic" stroke="#111" stroke-width="0.14">PDZ</text>
<line x1="484" y1="365.85" x2="485.6" y2="365.85" stroke="#333" stroke-width="0.7"/>
<text x="487.3" y="367.6" font-size="5.15" fill="#111" font-style="italic" stroke="#111" stroke-width="0.14">RA</text>
<line x1="484" y1="374.79" x2="485.6" y2="374.79" stroke="#333" stroke-width="0.7"/>
<text x="487.3" y="376.54" font-size="5.15" fill="#111" font-style="italic" stroke="#111" stroke-width="0.14">CCDC53</text>
<line x1="484" y1="383.73" x2="485.6" y2="383.73" stroke="#333" stroke-width="0.7"/>
<text x="487.3" y="385.48" font-size="5.15" fill="#111" font-style="italic" stroke="#111" stroke-width="0.14">Strumpellin</text>
<line x1="484" y1="392.67" x2="485.6" y2="392.67" stroke="#333" stroke-width="0.7"/>
<text x="487.3" y="394.42" font-size="5.15" fill="#111" font-style="italic" stroke="#111" stroke-width="0.14">WASH-7_N</text>
<line x1="484" y1="401.61" x2="485.6" y2="401.61" stroke="#333" stroke-width="0.7"/>
<text x="487.3" y="403.36" font-size="5.15" fill="#111" font-style="italic" stroke="#111" stroke-width="0.14">WASH-7_mid</text>
<line x1="484" y1="410.55" x2="485.6" y2="410.55" stroke="#333" stroke-width="0.7"/>
<text x="487.3" y="412.3" font-size="5.15" fill="#111" font-style="italic" stroke="#111" stroke-width="0.14">WASH-7_C</text>
<line x1="484" y1="419.49" x2="485.6" y2="419.49" stroke="#333" stroke-width="0.7"/>
<text x="487.3" y="421.24" font-size="5.15" fill="#111" font-style="italic" stroke="#111" stroke-width="0.14">Ras</text>
<path d="M347.7 298.8H481.73M347.7 307.74H481.73M347.7 316.68H481.73M347.7 325.62H481.73M347.7 334.56H481.73M347.7 343.5H481.73M347.7 352.44H481.73M347.7 361.38H481.73M347.7 370.32H481.73M347.7 379.26H481.73M347.7 388.2H481.73M347.7 397.14H481.73M347.7 406.08H481.73M347.7 415.02H481.73M347.7 298.8V423.96M358.01 298.8V423.96M368.32 298.8V423.96M378.63 298.8V423.96M388.94 298.8V423.96M399.25 298.8V423.96M409.56 298.8V423.96M419.87 298.8V423.96M430.18 298.8V423.96M440.49 298.8V423.96M450.8 298.8V423.96M461.11 298.8V423.96M471.42 298.8V423.96M481.73 298.8V423.96M347.7 423.96H481.73" stroke="#2e2e2e" stroke-width="1" fill="none"/>
</svg></body></html>
